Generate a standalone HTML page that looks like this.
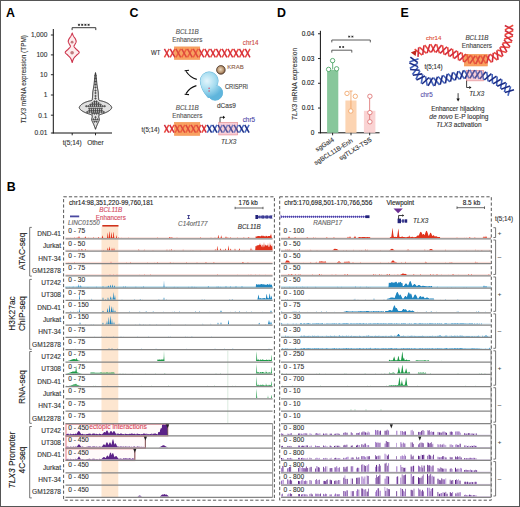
<!DOCTYPE html>
<html><head><meta charset="utf-8"><style>
html,body{margin:0;padding:0;background:#fff;overflow:hidden;width:520px;height:507px;}
svg{display:block;}
text{font-family:"Liberation Sans", sans-serif;}
</style></head><body>
<svg width="520" height="507" viewBox="0 0 520 507">
<rect x="0" y="0" width="520" height="507" fill="#fff"/>
<rect x="0.50" y="0.50" width="519.00" height="506.00" fill="none" stroke="#555" stroke-width="1" />
<text x="6.00" y="16.90" font-size="12.4" text-anchor="start" fill="#000" style="font-weight:bold;" >A</text>
<text x="129.60" y="16.90" font-size="12.4" text-anchor="start" fill="#000" style="font-weight:bold;" >C</text>
<text x="277.00" y="16.90" font-size="12.4" text-anchor="start" fill="#000" style="font-weight:bold;" >D</text>
<text x="400.60" y="16.90" font-size="12.4" text-anchor="start" fill="#000" style="font-weight:bold;" >E</text>
<text x="6.80" y="190.80" font-size="12.4" text-anchor="start" fill="#000" style="font-weight:bold;" >B</text>
<line x1="53.30" y1="29.00" x2="53.30" y2="133.40" stroke="#111" stroke-width="1" />
<line x1="52.80" y1="133.00" x2="112.00" y2="133.00" stroke="#111" stroke-width="1" />
<line x1="50.90" y1="35.00" x2="53.30" y2="35.00" stroke="#111" stroke-width="0.9" />
<text x="47.40" y="37.30" font-size="6.6" text-anchor="end" fill="#333" stroke="#333" stroke-width="0.12" style="" >1,000</text>
<line x1="50.90" y1="54.90" x2="53.30" y2="54.90" stroke="#111" stroke-width="0.9" />
<text x="47.40" y="57.20" font-size="6.6" text-anchor="end" fill="#333" stroke="#333" stroke-width="0.12" style="" >100</text>
<line x1="50.90" y1="74.70" x2="53.30" y2="74.70" stroke="#111" stroke-width="0.9" />
<text x="47.40" y="77.00" font-size="6.6" text-anchor="end" fill="#333" stroke="#333" stroke-width="0.12" style="" >10</text>
<line x1="50.90" y1="95.00" x2="53.30" y2="95.00" stroke="#111" stroke-width="0.9" />
<text x="47.40" y="97.30" font-size="6.6" text-anchor="end" fill="#333" stroke="#333" stroke-width="0.12" style="" >1</text>
<line x1="50.90" y1="115.20" x2="53.30" y2="115.20" stroke="#111" stroke-width="0.9" />
<text x="47.40" y="117.50" font-size="6.6" text-anchor="end" fill="#333" stroke="#333" stroke-width="0.12" style="" >0.1</text>
<line x1="50.90" y1="133.00" x2="53.30" y2="133.00" stroke="#111" stroke-width="0.9" />
<text x="47.40" y="135.30" font-size="6.6" text-anchor="end" fill="#333" stroke="#333" stroke-width="0.12" style="" >0.01</text>
<line x1="72.20" y1="133.00" x2="72.20" y2="135.30" stroke="#111" stroke-width="0.9" />
<line x1="95.50" y1="133.00" x2="95.50" y2="135.30" stroke="#111" stroke-width="0.9" />
<text x="72.20" y="145.40" font-size="6.6" text-anchor="middle" fill="#333" stroke="#333" stroke-width="0.12" style="" >t(5;14)</text>
<text x="95.40" y="145.40" font-size="6.6" text-anchor="middle" fill="#333" stroke="#333" stroke-width="0.12" style="" >Other</text>
<text x="0" y="0" font-size="6.45" text-anchor="middle" fill="#333" stroke="#333" stroke-width="0.12" transform="translate(25.9,79.2) rotate(-90)"><tspan style="font-style:italic">TLX3</tspan> mRNA expression (TPM)</text>
<path d="M72.1,30.1 V27.7 H95.8 V30.1" fill="none" stroke="#222" stroke-width="0.9"/>
<path d="M77.90,24.80 H80.10 M78.40,23.80 L79.60,25.80 M79.60,23.80 L78.40,25.80" stroke="#222" stroke-width="0.75"/>
<path d="M81.10,24.80 H83.30 M81.60,23.80 L82.80,25.80 M82.80,23.80 L81.60,25.80" stroke="#222" stroke-width="0.75"/>
<path d="M84.30,24.80 H86.50 M84.80,23.80 L86.00,25.80 M86.00,23.80 L84.80,25.80" stroke="#222" stroke-width="0.75"/>
<path d="M87.50,24.80 H89.70 M88.00,23.80 L89.20,25.80 M89.20,23.80 L88.00,25.80" stroke="#222" stroke-width="0.75"/>
<polygon points="72.20,32.90 72.16,33.02 72.10,33.18 72.04,33.37 71.96,33.57 71.88,33.80 71.79,34.03 71.70,34.27 71.60,34.50 71.50,34.73 71.39,34.96 71.28,35.20 71.16,35.44 71.04,35.70 70.90,35.96 70.76,36.22 70.60,36.50 70.42,36.79 70.22,37.09 70.01,37.40 69.78,37.72 69.56,38.04 69.35,38.36 69.16,38.68 69.00,39.00 68.85,39.31 68.71,39.62 68.58,39.94 68.46,40.25 68.36,40.56 68.29,40.88 68.25,41.19 68.25,41.50 68.30,41.81 68.39,42.13 68.51,42.44 68.66,42.76 68.83,43.07 69.00,43.38 69.16,43.69 69.30,44.00 69.45,44.30 69.63,44.60 69.83,44.90 70.01,45.19 70.18,45.49 70.30,45.79 70.36,46.09 70.35,46.40 70.26,46.71 70.10,47.02 69.89,47.33 69.64,47.64 69.35,47.96 69.04,48.30 68.72,48.64 68.40,49.00 68.03,49.38 67.57,49.79 67.06,50.21 66.56,50.64 66.08,51.08 65.68,51.50 65.39,51.91 65.25,52.30 65.28,52.67 65.45,53.02 65.73,53.37 66.08,53.70 66.47,54.03 66.88,54.35 67.27,54.68 67.60,55.00 67.91,55.33 68.22,55.65 68.55,55.97 68.87,56.29 69.19,56.61 69.48,56.91 69.76,57.21 70.00,57.50 70.21,57.77 70.39,58.01 70.55,58.24 70.69,58.47 70.82,58.70 70.94,58.94 71.07,59.21 71.20,59.50 71.34,59.85 71.49,60.25 71.63,60.68 71.78,61.12 71.91,61.55 72.03,61.94 72.12,62.26 72.20,62.50 72.20,62.50 72.28,62.26 72.38,61.94 72.49,61.55 72.62,61.12 72.77,60.68 72.91,60.25 73.06,59.85 73.20,59.50 73.33,59.21 73.46,58.94 73.58,58.70 73.71,58.47 73.85,58.24 74.01,58.01 74.19,57.77 74.40,57.50 74.64,57.21 74.92,56.91 75.21,56.61 75.53,56.29 75.85,55.97 76.18,55.65 76.49,55.33 76.80,55.00 77.13,54.68 77.52,54.35 77.93,54.03 78.32,53.70 78.67,53.37 78.95,53.02 79.12,52.67 79.15,52.30 79.01,51.91 78.72,51.50 78.32,51.08 77.84,50.64 77.34,50.21 76.83,49.79 76.37,49.38 76.00,49.00 75.68,48.64 75.36,48.30 75.05,47.96 74.76,47.64 74.51,47.33 74.30,47.02 74.14,46.71 74.05,46.40 74.04,46.09 74.10,45.79 74.22,45.49 74.39,45.19 74.57,44.90 74.77,44.60 74.95,44.30 75.10,44.00 75.24,43.69 75.40,43.38 75.57,43.07 75.74,42.76 75.89,42.44 76.01,42.13 76.10,41.81 76.15,41.50 76.15,41.19 76.11,40.88 76.04,40.56 75.94,40.25 75.82,39.94 75.69,39.62 75.55,39.31 75.40,39.00 75.24,38.68 75.05,38.36 74.84,38.04 74.62,37.72 74.39,37.40 74.18,37.09 73.98,36.79 73.80,36.50 73.64,36.22 73.50,35.96 73.36,35.70 73.24,35.44 73.12,35.20 73.01,34.96 72.90,34.73 72.80,34.50 72.70,34.27 72.61,34.03 72.52,33.80 72.44,33.57 72.36,33.37 72.30,33.18 72.24,33.02 72.20,32.90" fill="#fdeced" stroke="#cc3049" stroke-width="1.1" stroke-linejoin="round"/>
<circle cx="72.1" cy="42.2" r="1.4" fill="#c27a7e"/>
<circle cx="72.1" cy="52.7" r="1.8" fill="#c27a7e"/>
<polygon points="95.50,72.60 95.45,72.86 95.39,73.20 95.31,73.60 95.22,74.05 95.14,74.53 95.05,75.03 94.97,75.52 94.90,76.00 94.84,76.47 94.79,76.96 94.74,77.46 94.69,77.96 94.64,78.47 94.60,78.99 94.55,79.50 94.50,80.00 94.45,80.50 94.40,81.00 94.36,81.50 94.31,82.00 94.26,82.50 94.21,83.00 94.16,83.50 94.10,84.00 94.04,84.50 93.97,85.00 93.89,85.50 93.82,86.00 93.74,86.50 93.66,87.00 93.58,87.50 93.50,88.00 93.41,88.50 93.32,89.00 93.22,89.50 93.12,90.00 93.03,90.50 92.94,91.00 92.86,91.50 92.80,92.00 92.75,92.51 92.72,93.02 92.69,93.54 92.67,94.06 92.66,94.57 92.65,95.07 92.63,95.55 92.60,96.00 92.57,96.43 92.53,96.86 92.50,97.27 92.46,97.67 92.42,98.04 92.38,98.39 92.34,98.71 92.30,99.00 92.28,99.25 92.28,99.45 92.29,99.63 92.29,99.78 92.27,99.92 92.21,100.04 92.09,100.17 91.90,100.30 91.62,100.43 91.25,100.55 90.83,100.66 90.36,100.77 89.88,100.87 89.39,100.98 88.93,101.09 88.50,101.20 88.10,101.32 87.71,101.44 87.33,101.55 86.95,101.68 86.58,101.80 86.21,101.93 85.85,102.06 85.50,102.20 85.15,102.35 84.81,102.50 84.47,102.66 84.14,102.82 83.81,102.98 83.50,103.15 83.19,103.33 82.90,103.50 82.62,103.68 82.34,103.86 82.07,104.05 81.81,104.24 81.57,104.43 81.33,104.62 81.11,104.81 80.90,105.00 80.71,105.19 80.53,105.38 80.36,105.58 80.20,105.77 80.06,105.97 79.92,106.15 79.81,106.33 79.70,106.50 79.60,106.65 79.52,106.80 79.45,106.93 79.39,107.06 79.34,107.18 79.31,107.31 79.30,107.45 79.30,107.60 79.32,107.76 79.36,107.93 79.41,108.10 79.47,108.27 79.56,108.45 79.66,108.64 79.77,108.82 79.90,109.00 80.05,109.18 80.21,109.37 80.39,109.56 80.58,109.74 80.79,109.93 81.01,110.12 81.25,110.31 81.50,110.50 81.77,110.69 82.05,110.88 82.35,111.07 82.66,111.26 82.99,111.45 83.32,111.64 83.66,111.82 84.00,112.00 84.35,112.17 84.71,112.35 85.09,112.52 85.47,112.68 85.85,112.84 86.24,113.00 86.62,113.15 87.00,113.30 87.38,113.44 87.78,113.57 88.17,113.70 88.57,113.83 88.96,113.95 89.33,114.06 89.68,114.18 90.00,114.30 90.30,114.41 90.59,114.51 90.86,114.61 91.12,114.70 91.35,114.80 91.56,114.91 91.75,115.05 91.90,115.20 92.02,115.38 92.11,115.57 92.17,115.78 92.21,116.00 92.22,116.23 92.23,116.48 92.22,116.74 92.20,117.00 92.16,117.28 92.08,117.59 91.98,117.91 91.88,118.24 91.77,118.57 91.68,118.89 91.62,119.21 91.60,119.50 91.62,119.77 91.67,120.02 91.75,120.26 91.84,120.50 91.94,120.74 92.06,120.98 92.18,121.23 92.30,121.50 92.43,121.79 92.56,122.08 92.71,122.38 92.87,122.69 93.03,123.00 93.19,123.33 93.35,123.66 93.50,124.00 93.65,124.36 93.81,124.73 93.97,125.12 94.12,125.51 94.28,125.90 94.43,126.29 94.57,126.66 94.70,127.00 94.82,127.34 94.95,127.68 95.06,128.01 95.17,128.34 95.28,128.64 95.37,128.90 95.44,129.13 95.50,129.30 95.50,129.30 95.56,129.13 95.63,128.90 95.72,128.64 95.83,128.34 95.94,128.01 96.05,127.68 96.18,127.34 96.30,127.00 96.43,126.66 96.57,126.29 96.72,125.90 96.88,125.51 97.03,125.12 97.19,124.73 97.35,124.36 97.50,124.00 97.65,123.66 97.81,123.33 97.97,123.00 98.13,122.69 98.29,122.38 98.44,122.08 98.57,121.79 98.70,121.50 98.82,121.23 98.94,120.98 99.06,120.74 99.16,120.50 99.25,120.26 99.33,120.02 99.38,119.77 99.40,119.50 99.38,119.21 99.32,118.89 99.23,118.57 99.12,118.24 99.02,117.91 98.92,117.59 98.84,117.28 98.80,117.00 98.78,116.74 98.77,116.48 98.78,116.23 98.79,116.00 98.83,115.78 98.89,115.57 98.98,115.38 99.10,115.20 99.25,115.05 99.44,114.91 99.65,114.80 99.88,114.70 100.14,114.61 100.41,114.51 100.70,114.41 101.00,114.30 101.32,114.18 101.67,114.06 102.04,113.95 102.43,113.83 102.83,113.70 103.22,113.57 103.62,113.44 104.00,113.30 104.38,113.15 104.76,113.00 105.15,112.84 105.53,112.68 105.91,112.52 106.29,112.35 106.65,112.17 107.00,112.00 107.34,111.82 107.68,111.64 108.01,111.45 108.34,111.26 108.65,111.07 108.95,110.88 109.23,110.69 109.50,110.50 109.75,110.31 109.99,110.12 110.21,109.93 110.42,109.74 110.61,109.56 110.79,109.37 110.95,109.18 111.10,109.00 111.23,108.82 111.34,108.64 111.44,108.45 111.53,108.27 111.59,108.10 111.64,107.93 111.68,107.76 111.70,107.60 111.70,107.45 111.69,107.31 111.66,107.18 111.61,107.06 111.55,106.93 111.48,106.80 111.40,106.65 111.30,106.50 111.19,106.33 111.08,106.15 110.94,105.97 110.80,105.77 110.64,105.58 110.47,105.38 110.29,105.19 110.10,105.00 109.89,104.81 109.67,104.62 109.43,104.43 109.19,104.24 108.93,104.05 108.66,103.86 108.38,103.68 108.10,103.50 107.81,103.33 107.50,103.15 107.19,102.98 106.86,102.82 106.53,102.66 106.19,102.50 105.85,102.35 105.50,102.20 105.15,102.06 104.79,101.93 104.42,101.80 104.05,101.68 103.67,101.55 103.29,101.44 102.90,101.32 102.50,101.20 102.07,101.09 101.61,100.98 101.12,100.87 100.64,100.77 100.17,100.66 99.75,100.55 99.38,100.43 99.10,100.30 98.91,100.17 98.79,100.04 98.73,99.92 98.71,99.78 98.71,99.63 98.72,99.45 98.72,99.25 98.70,99.00 98.66,98.71 98.62,98.39 98.58,98.04 98.54,97.67 98.50,97.27 98.47,96.86 98.43,96.43 98.40,96.00 98.37,95.55 98.35,95.07 98.34,94.57 98.33,94.06 98.31,93.54 98.28,93.02 98.25,92.51 98.20,92.00 98.14,91.50 98.06,91.00 97.97,90.50 97.88,90.00 97.78,89.50 97.68,89.00 97.59,88.50 97.50,88.00 97.42,87.50 97.34,87.00 97.26,86.50 97.18,86.00 97.11,85.50 97.03,85.00 96.96,84.50 96.90,84.00 96.84,83.50 96.79,83.00 96.74,82.50 96.69,82.00 96.64,81.50 96.60,81.00 96.55,80.50 96.50,80.00 96.45,79.50 96.40,78.99 96.36,78.47 96.31,77.96 96.26,77.46 96.21,76.96 96.16,76.47 96.10,76.00 96.03,75.52 95.95,75.03 95.86,74.53 95.78,74.05 95.69,73.60 95.61,73.20 95.55,72.86 95.50,72.60" fill="#e0e0e0" stroke="#1a1a1a" stroke-width="0.95" stroke-linejoin="round"/>
<circle cx="95.50" cy="75.50" r="0.72" fill="#777" stroke="#111" stroke-width="0.45"/>
<circle cx="95.50" cy="78.50" r="0.72" fill="#777" stroke="#111" stroke-width="0.45"/>
<circle cx="95.50" cy="81.50" r="0.72" fill="#777" stroke="#111" stroke-width="0.45"/>
<circle cx="95.50" cy="84.50" r="0.72" fill="#777" stroke="#111" stroke-width="0.45"/>
<circle cx="95.50" cy="87.50" r="0.72" fill="#777" stroke="#111" stroke-width="0.45"/>
<circle cx="95.50" cy="90.50" r="0.72" fill="#777" stroke="#111" stroke-width="0.45"/>
<circle cx="95.50" cy="93.00" r="0.72" fill="#777" stroke="#111" stroke-width="0.45"/>
<circle cx="95.50" cy="96.00" r="0.72" fill="#777" stroke="#111" stroke-width="0.45"/>
<circle cx="95.50" cy="98.50" r="0.72" fill="#777" stroke="#111" stroke-width="0.45"/>
<circle cx="94.47" cy="101.50" r="0.72" fill="#777" stroke="#111" stroke-width="0.45"/>
<circle cx="96.53" cy="101.50" r="0.72" fill="#777" stroke="#111" stroke-width="0.45"/>
<circle cx="92.42" cy="103.10" r="0.72" fill="#777" stroke="#111" stroke-width="0.45"/>
<circle cx="94.47" cy="103.10" r="0.72" fill="#777" stroke="#111" stroke-width="0.45"/>
<circle cx="96.53" cy="103.10" r="0.72" fill="#777" stroke="#111" stroke-width="0.45"/>
<circle cx="98.58" cy="103.10" r="0.72" fill="#777" stroke="#111" stroke-width="0.45"/>
<circle cx="90.38" cy="104.60" r="0.72" fill="#777" stroke="#111" stroke-width="0.45"/>
<circle cx="92.42" cy="104.60" r="0.72" fill="#777" stroke="#111" stroke-width="0.45"/>
<circle cx="94.47" cy="104.60" r="0.72" fill="#777" stroke="#111" stroke-width="0.45"/>
<circle cx="96.53" cy="104.60" r="0.72" fill="#777" stroke="#111" stroke-width="0.45"/>
<circle cx="98.58" cy="104.60" r="0.72" fill="#777" stroke="#111" stroke-width="0.45"/>
<circle cx="100.62" cy="104.60" r="0.72" fill="#777" stroke="#111" stroke-width="0.45"/>
<circle cx="86.28" cy="106.20" r="0.72" fill="#777" stroke="#111" stroke-width="0.45"/>
<circle cx="88.33" cy="106.20" r="0.72" fill="#777" stroke="#111" stroke-width="0.45"/>
<circle cx="90.38" cy="106.20" r="0.72" fill="#777" stroke="#111" stroke-width="0.45"/>
<circle cx="92.42" cy="106.20" r="0.72" fill="#777" stroke="#111" stroke-width="0.45"/>
<circle cx="94.47" cy="106.20" r="0.72" fill="#777" stroke="#111" stroke-width="0.45"/>
<circle cx="96.53" cy="106.20" r="0.72" fill="#777" stroke="#111" stroke-width="0.45"/>
<circle cx="98.58" cy="106.20" r="0.72" fill="#777" stroke="#111" stroke-width="0.45"/>
<circle cx="100.62" cy="106.20" r="0.72" fill="#777" stroke="#111" stroke-width="0.45"/>
<circle cx="102.67" cy="106.20" r="0.72" fill="#777" stroke="#111" stroke-width="0.45"/>
<circle cx="104.72" cy="106.20" r="0.72" fill="#777" stroke="#111" stroke-width="0.45"/>
<circle cx="89.35" cy="108.60" r="0.72" fill="#777" stroke="#111" stroke-width="0.45"/>
<circle cx="91.40" cy="108.60" r="0.72" fill="#777" stroke="#111" stroke-width="0.45"/>
<circle cx="93.45" cy="108.60" r="0.72" fill="#777" stroke="#111" stroke-width="0.45"/>
<circle cx="95.50" cy="108.60" r="0.72" fill="#777" stroke="#111" stroke-width="0.45"/>
<circle cx="97.55" cy="108.60" r="0.72" fill="#777" stroke="#111" stroke-width="0.45"/>
<circle cx="99.60" cy="108.60" r="0.72" fill="#777" stroke="#111" stroke-width="0.45"/>
<circle cx="101.65" cy="108.60" r="0.72" fill="#777" stroke="#111" stroke-width="0.45"/>
<circle cx="89.35" cy="110.40" r="0.72" fill="#777" stroke="#111" stroke-width="0.45"/>
<circle cx="91.40" cy="110.40" r="0.72" fill="#777" stroke="#111" stroke-width="0.45"/>
<circle cx="93.45" cy="110.40" r="0.72" fill="#777" stroke="#111" stroke-width="0.45"/>
<circle cx="95.50" cy="110.40" r="0.72" fill="#777" stroke="#111" stroke-width="0.45"/>
<circle cx="97.55" cy="110.40" r="0.72" fill="#777" stroke="#111" stroke-width="0.45"/>
<circle cx="99.60" cy="110.40" r="0.72" fill="#777" stroke="#111" stroke-width="0.45"/>
<circle cx="101.65" cy="110.40" r="0.72" fill="#777" stroke="#111" stroke-width="0.45"/>
<circle cx="87.30" cy="112.00" r="0.72" fill="#777" stroke="#111" stroke-width="0.45"/>
<circle cx="89.35" cy="112.00" r="0.72" fill="#777" stroke="#111" stroke-width="0.45"/>
<circle cx="91.40" cy="112.00" r="0.72" fill="#777" stroke="#111" stroke-width="0.45"/>
<circle cx="93.45" cy="112.00" r="0.72" fill="#777" stroke="#111" stroke-width="0.45"/>
<circle cx="95.50" cy="112.00" r="0.72" fill="#777" stroke="#111" stroke-width="0.45"/>
<circle cx="97.55" cy="112.00" r="0.72" fill="#777" stroke="#111" stroke-width="0.45"/>
<circle cx="99.60" cy="112.00" r="0.72" fill="#777" stroke="#111" stroke-width="0.45"/>
<circle cx="101.65" cy="112.00" r="0.72" fill="#777" stroke="#111" stroke-width="0.45"/>
<circle cx="103.70" cy="112.00" r="0.72" fill="#777" stroke="#111" stroke-width="0.45"/>
<circle cx="92.42" cy="113.60" r="0.72" fill="#777" stroke="#111" stroke-width="0.45"/>
<circle cx="94.47" cy="113.60" r="0.72" fill="#777" stroke="#111" stroke-width="0.45"/>
<circle cx="96.53" cy="113.60" r="0.72" fill="#777" stroke="#111" stroke-width="0.45"/>
<circle cx="98.58" cy="113.60" r="0.72" fill="#777" stroke="#111" stroke-width="0.45"/>
<circle cx="95.50" cy="117.20" r="0.72" fill="#777" stroke="#111" stroke-width="0.45"/>
<circle cx="93.45" cy="119.40" r="0.72" fill="#777" stroke="#111" stroke-width="0.45"/>
<circle cx="95.50" cy="119.40" r="0.72" fill="#777" stroke="#111" stroke-width="0.45"/>
<circle cx="97.55" cy="119.40" r="0.72" fill="#777" stroke="#111" stroke-width="0.45"/>
<circle cx="94.47" cy="121.60" r="0.72" fill="#777" stroke="#111" stroke-width="0.45"/>
<circle cx="96.53" cy="121.60" r="0.72" fill="#777" stroke="#111" stroke-width="0.45"/>
<text x="187.30" y="34.40" font-size="6.3" text-anchor="middle" fill="#555" stroke="#555" stroke-width="0.12" style="font-style:italic;" >BCL11B</text>
<text x="187.30" y="42.40" font-size="6.3" text-anchor="middle" fill="#555" stroke="#555" stroke-width="0.12" style="" >Enhancers</text>
<text x="151.00" y="55.00" font-size="6.6" text-anchor="start" fill="#333" stroke="#333" stroke-width="0.12" style=""  textLength="9.4" lengthAdjust="spacingAndGlyphs">WT</text>
<rect x="174.40" y="46.90" width="25.40" height="12.50" fill="#f9ab72" stroke="#f39a5a" stroke-width="0.6" />
<path d="M164.40,57.30 L169.17,48.90" stroke="#ee4a3c" stroke-width="1.5" fill="none"/>
<path d="M164.40,48.90 L169.17,57.30" stroke="#d02c3e" stroke-width="1.5" fill="none"/>
<path d="M170.17,57.30 L174.95,48.90" stroke="#ee4a3c" stroke-width="1.5" fill="none"/>
<path d="M170.17,48.90 L174.95,57.30" stroke="#d02c3e" stroke-width="1.5" fill="none"/>
<path d="M175.95,57.30 L180.72,48.90" stroke="#ee4a3c" stroke-width="1.5" fill="none"/>
<path d="M175.95,48.90 L180.72,57.30" stroke="#d02c3e" stroke-width="1.5" fill="none"/>
<path d="M181.72,57.30 L186.49,48.90" stroke="#ee4a3c" stroke-width="1.5" fill="none"/>
<path d="M181.72,48.90 L186.49,57.30" stroke="#d02c3e" stroke-width="1.5" fill="none"/>
<path d="M187.49,57.30 L192.27,48.90" stroke="#ee4a3c" stroke-width="1.5" fill="none"/>
<path d="M187.49,48.90 L192.27,57.30" stroke="#d02c3e" stroke-width="1.5" fill="none"/>
<path d="M193.27,57.30 L198.04,48.90" stroke="#ee4a3c" stroke-width="1.5" fill="none"/>
<path d="M193.27,48.90 L198.04,57.30" stroke="#d02c3e" stroke-width="1.5" fill="none"/>
<path d="M199.04,57.30 L203.81,48.90" stroke="#ee4a3c" stroke-width="1.5" fill="none"/>
<path d="M199.04,48.90 L203.81,57.30" stroke="#d02c3e" stroke-width="1.5" fill="none"/>
<path d="M204.81,57.30 L209.59,48.90" stroke="#ee4a3c" stroke-width="1.5" fill="none"/>
<path d="M204.81,48.90 L209.59,57.30" stroke="#d02c3e" stroke-width="1.5" fill="none"/>
<path d="M210.59,57.30 L215.36,48.90" stroke="#ee4a3c" stroke-width="1.5" fill="none"/>
<path d="M210.59,48.90 L215.36,57.30" stroke="#d02c3e" stroke-width="1.5" fill="none"/>
<path d="M216.36,57.30 L221.13,48.90" stroke="#ee4a3c" stroke-width="1.5" fill="none"/>
<path d="M216.36,48.90 L221.13,57.30" stroke="#d02c3e" stroke-width="1.5" fill="none"/>
<path d="M222.13,57.30 L226.91,48.90" stroke="#ee4a3c" stroke-width="1.5" fill="none"/>
<path d="M222.13,48.90 L226.91,57.30" stroke="#d02c3e" stroke-width="1.5" fill="none"/>
<path d="M227.91,57.30 L232.68,48.90" stroke="#ee4a3c" stroke-width="1.5" fill="none"/>
<path d="M227.91,48.90 L232.68,57.30" stroke="#d02c3e" stroke-width="1.5" fill="none"/>
<path d="M233.68,57.30 L238.45,48.90" stroke="#ee4a3c" stroke-width="1.5" fill="none"/>
<path d="M233.68,48.90 L238.45,57.30" stroke="#d02c3e" stroke-width="1.5" fill="none"/>
<path d="M239.45,57.30 L244.23,48.90" stroke="#ee4a3c" stroke-width="1.5" fill="none"/>
<path d="M239.45,48.90 L244.23,57.30" stroke="#d02c3e" stroke-width="1.5" fill="none"/>
<path d="M245.23,57.30 L250.00,48.90" stroke="#ee4a3c" stroke-width="1.5" fill="none"/>
<path d="M245.23,48.90 L250.00,57.30" stroke="#d02c3e" stroke-width="1.5" fill="none"/>
<rect x="174.40" y="46.90" width="25.40" height="12.50" fill="#f68c3c" stroke="none" stroke-width="1" fill-opacity="0.3"/>
<text x="242.80" y="44.80" font-size="6.6" text-anchor="start" fill="#cc4a44" stroke="#cc4a44" stroke-width="0.12" style=""  textLength="15.6" lengthAdjust="spacingAndGlyphs">chr14</text>
<defs><radialGradient id="krab" cx="0.45" cy="0.45" r="0.6"><stop offset="0" stop-color="#eedcc2"/><stop offset="0.6" stop-color="#b89470"/><stop offset="1" stop-color="#6e4e36"/></radialGradient><radialGradient id="cas" cx="0.5" cy="0.45" r="0.6"><stop offset="0" stop-color="#e6f6fc"/><stop offset="0.55" stop-color="#a6dcef"/><stop offset="1" stop-color="#5fb6dc"/></radialGradient></defs>
<circle cx="220.9" cy="69.9" r="4.3" fill="url(#krab)" stroke="#4a3426" stroke-width="0.8"/>
<text x="227.30" y="68.50" font-size="6.1" text-anchor="start" fill="#8e6048" stroke="#8e6048" stroke-width="0.12" style=""  textLength="16.4" lengthAdjust="spacingAndGlyphs">KRAB</text>
<defs><radialGradient id="cas2" gradientUnits="userSpaceOnUse" cx="207" cy="81" r="17"><stop offset="0" stop-color="#e4f5fc"/><stop offset="0.5" stop-color="#a8ddf0"/><stop offset="1" stop-color="#5fb5dc"/></radialGradient></defs>
<g fill="#6ab9dd" stroke="#6ab9dd" stroke-width="1.0"><circle cx="209.2" cy="80.8" r="8.9"/><circle cx="215.2" cy="92.8" r="7.4"/><path d="M200.6,83 C201.5,89 204.5,93.5 208.3,97.8 L214,92 L214,80 Z"/></g>
<g fill="url(#cas2)"><circle cx="209.2" cy="80.8" r="8.9"/><circle cx="215.2" cy="92.8" r="7.4"/><path d="M200.6,83 C201.5,89 204.5,93.5 208.3,97.8 L214,92 L214,80 Z"/></g>
<circle cx="209.1" cy="88.2" r="0.7" fill="#d94060"/><circle cx="209.1" cy="91.0" r="0.7" fill="#d94060"/>
<text x="224.90" y="89.30" font-size="6.9" text-anchor="start" fill="#444" stroke="#444" stroke-width="0.12" style=""  textLength="23.0" lengthAdjust="spacingAndGlyphs">CRISPRi</text>
<text x="217.00" y="107.80" font-size="6.5" text-anchor="start" fill="#444" stroke="#444" stroke-width="0.12" style="" >dCas9</text>
<path d="M196.8,79.4 C192.5,78.2 188.5,75 186.0,71.2" fill="none" stroke="#111" stroke-width="1.15"/>
<path d="M184.6,70.8 L189.0,70.3" fill="none" stroke="#111" stroke-width="1.15"/><path d="M185.6,70.6 L185.4,73.5" fill="none" stroke="#111" stroke-width="0.0"/>
<path d="M196.4,85.6 C192.0,86.8 188.2,90 186.0,93.6" fill="none" stroke="#111" stroke-width="1.15"/>
<path d="M184.6,94.3 L189.0,94.6" fill="none" stroke="#111" stroke-width="1.15"/>
<text x="187.30" y="110.20" font-size="6.3" text-anchor="middle" fill="#555" stroke="#555" stroke-width="0.12" style="font-style:italic;" >BCL11B</text>
<text x="187.30" y="118.10" font-size="6.3" text-anchor="middle" fill="#555" stroke="#555" stroke-width="0.12" style="" >Enhancers</text>
<text x="141.60" y="132.40" font-size="6.5" text-anchor="start" fill="#333" stroke="#333" stroke-width="0.12" style=""  textLength="18.0" lengthAdjust="spacingAndGlyphs">t(5;14)</text>
<rect x="174.40" y="122.40" width="25.40" height="13.00" fill="#f9ab72" stroke="#f39a5a" stroke-width="0.6" />
<rect x="218.80" y="122.50" width="18.80" height="12.40" fill="#f8d4dc" stroke="#e68a8a" stroke-width="0.7" />
<path d="M164.40,132.70 L168.76,124.90" stroke="#ee4a3c" stroke-width="1.5" fill="none"/>
<path d="M164.40,124.90 L168.76,132.70" stroke="#d02c3e" stroke-width="1.5" fill="none"/>
<path d="M169.76,132.70 L174.11,124.90" stroke="#ee4a3c" stroke-width="1.5" fill="none"/>
<path d="M169.76,124.90 L174.11,132.70" stroke="#d02c3e" stroke-width="1.5" fill="none"/>
<path d="M175.11,132.70 L179.47,124.90" stroke="#ee4a3c" stroke-width="1.5" fill="none"/>
<path d="M175.11,124.90 L179.47,132.70" stroke="#d02c3e" stroke-width="1.5" fill="none"/>
<path d="M180.47,132.70 L184.82,124.90" stroke="#ee4a3c" stroke-width="1.5" fill="none"/>
<path d="M180.47,124.90 L184.82,132.70" stroke="#d02c3e" stroke-width="1.5" fill="none"/>
<path d="M185.82,132.70 L190.18,124.90" stroke="#ee4a3c" stroke-width="1.5" fill="none"/>
<path d="M185.82,124.90 L190.18,132.70" stroke="#d02c3e" stroke-width="1.5" fill="none"/>
<path d="M191.18,132.70 L195.54,124.90" stroke="#ee4a3c" stroke-width="1.5" fill="none"/>
<path d="M191.18,124.90 L195.54,132.70" stroke="#d02c3e" stroke-width="1.5" fill="none"/>
<path d="M196.54,132.70 L200.89,124.90" stroke="#ee4a3c" stroke-width="1.5" fill="none"/>
<path d="M196.54,124.90 L200.89,132.70" stroke="#d02c3e" stroke-width="1.5" fill="none"/>
<path d="M201.89,132.70 L206.25,124.90" stroke="#ee4a3c" stroke-width="1.5" fill="none"/>
<path d="M201.89,124.90 L206.25,132.70" stroke="#d02c3e" stroke-width="1.5" fill="none"/>
<path d="M207.25,132.70 L211.61,124.90" stroke="#4a6cc2" stroke-width="1.5" fill="none"/>
<path d="M207.25,124.90 L211.61,132.70" stroke="#1f2f86" stroke-width="1.5" fill="none"/>
<path d="M212.61,132.70 L216.96,124.90" stroke="#4a6cc2" stroke-width="1.5" fill="none"/>
<path d="M212.61,124.90 L216.96,132.70" stroke="#1f2f86" stroke-width="1.5" fill="none"/>
<path d="M217.96,132.70 L222.32,124.90" stroke="#4a6cc2" stroke-width="1.5" fill="none"/>
<path d="M217.96,124.90 L222.32,132.70" stroke="#1f2f86" stroke-width="1.5" fill="none"/>
<path d="M223.32,132.70 L227.67,124.90" stroke="#4a6cc2" stroke-width="1.5" fill="none"/>
<path d="M223.32,124.90 L227.67,132.70" stroke="#1f2f86" stroke-width="1.5" fill="none"/>
<path d="M228.68,132.70 L233.03,124.90" stroke="#4a6cc2" stroke-width="1.5" fill="none"/>
<path d="M228.68,124.90 L233.03,132.70" stroke="#1f2f86" stroke-width="1.5" fill="none"/>
<path d="M234.03,132.70 L238.39,124.90" stroke="#4a6cc2" stroke-width="1.5" fill="none"/>
<path d="M234.03,124.90 L238.39,132.70" stroke="#1f2f86" stroke-width="1.5" fill="none"/>
<path d="M239.39,132.70 L243.74,124.90" stroke="#4a6cc2" stroke-width="1.5" fill="none"/>
<path d="M239.39,124.90 L243.74,132.70" stroke="#1f2f86" stroke-width="1.5" fill="none"/>
<path d="M244.74,132.70 L249.10,124.90" stroke="#4a6cc2" stroke-width="1.5" fill="none"/>
<path d="M244.74,124.90 L249.10,132.70" stroke="#1f2f86" stroke-width="1.5" fill="none"/>
<rect x="174.40" y="122.40" width="25.40" height="13.00" fill="#f68c3c" stroke="none" stroke-width="1" fill-opacity="0.3"/>
<rect x="218.80" y="122.50" width="18.80" height="12.40" fill="#f4b8c4" stroke="none" stroke-width="1" fill-opacity="0.25"/>
<path d="M220,122.2 V117.3 H223.3" fill="none" stroke="#111" stroke-width="0.8"/><path d="M223,115.7 L225.2,117.3 L223,118.9 Z" fill="#111"/>
<text x="242.70" y="122.00" font-size="6.6" text-anchor="start" fill="#4a48a8" stroke="#4a48a8" stroke-width="0.12" style=""  textLength="12.4" lengthAdjust="spacingAndGlyphs">chr5</text>
<text x="228.70" y="144.30" font-size="6.5" text-anchor="middle" fill="#444" stroke="#444" stroke-width="0.12" style="font-style:italic;" >TLX3</text>
<line x1="320.40" y1="30.80" x2="320.40" y2="133.30" stroke="#111" stroke-width="1" />
<line x1="319.90" y1="132.80" x2="379.60" y2="132.80" stroke="#111" stroke-width="1" />
<line x1="318.00" y1="33.76" x2="320.40" y2="33.76" stroke="#111" stroke-width="0.9" />
<text x="314.30" y="35.86" font-size="6.5" text-anchor="end" fill="#222" stroke="#222" stroke-width="0.12" style="" >0.04</text>
<line x1="318.00" y1="58.52" x2="320.40" y2="58.52" stroke="#111" stroke-width="0.9" />
<text x="314.30" y="60.62" font-size="6.5" text-anchor="end" fill="#222" stroke="#222" stroke-width="0.12" style="" >0.03</text>
<line x1="318.00" y1="83.28" x2="320.40" y2="83.28" stroke="#111" stroke-width="0.9" />
<text x="314.30" y="85.38" font-size="6.5" text-anchor="end" fill="#222" stroke="#222" stroke-width="0.12" style="" >0.02</text>
<line x1="318.00" y1="108.04" x2="320.40" y2="108.04" stroke="#111" stroke-width="0.9" />
<text x="314.30" y="110.14" font-size="6.5" text-anchor="end" fill="#222" stroke="#222" stroke-width="0.12" style="" >0.01</text>
<line x1="318.00" y1="132.80" x2="320.40" y2="132.80" stroke="#111" stroke-width="0.9" />
<text x="314.30" y="134.90" font-size="6.5" text-anchor="end" fill="#222" stroke="#222" stroke-width="0.12" style="" >0</text>
<text x="0" y="0" font-size="6.8" text-anchor="middle" fill="#333" stroke="#333" stroke-width="0.12" textLength="72.5" lengthAdjust="spacingAndGlyphs" transform="translate(296.6,84.0) rotate(-90)"><tspan style="font-style:italic">TLX3</tspan> mRNA expression</text>
<rect x="327.10" y="70.00" width="11.20" height="62.80" fill="#88c79b" stroke="none" stroke-width="1" />
<rect x="345.40" y="100.50" width="11.10" height="32.30" fill="#fcd4b2" stroke="none" stroke-width="1" />
<rect x="363.90" y="110.80" width="11.50" height="22.00" fill="#fad3d3" stroke="none" stroke-width="1" />
<line x1="332.70" y1="60.60" x2="332.70" y2="69.40" stroke="#3a9a55" stroke-width="0.8" />
<line x1="331.10" y1="60.60" x2="334.30" y2="60.60" stroke="#3a9a55" stroke-width="0.8" />
<circle cx="332.60" cy="60.60" r="2.2" fill="#fff" stroke="#3a9a55" stroke-width="0.8"/>
<circle cx="328.60" cy="69.40" r="2.2" fill="#fff" stroke="#3a9a55" stroke-width="0.8"/>
<circle cx="336.60" cy="68.80" r="2.2" fill="#fff" stroke="#3a9a55" stroke-width="0.8"/>
<line x1="350.95" y1="91.00" x2="350.95" y2="111.00" stroke="#f0a060" stroke-width="0.8" />
<line x1="349.35" y1="91.00" x2="352.55" y2="91.00" stroke="#f0a060" stroke-width="0.8" />
<circle cx="347.00" cy="93.40" r="2.2" fill="#fff" stroke="#f0a060" stroke-width="0.8"/>
<circle cx="355.30" cy="96.30" r="2.2" fill="#fff" stroke="#f0a060" stroke-width="0.8"/>
<circle cx="350.80" cy="111.00" r="2.2" fill="#fff" stroke="#f0a060" stroke-width="0.8"/>
<line x1="369.65" y1="96.30" x2="369.65" y2="121.80" stroke="#db6a6a" stroke-width="0.8" />
<line x1="368.05" y1="96.30" x2="371.25" y2="96.30" stroke="#db6a6a" stroke-width="0.8" />
<circle cx="369.90" cy="96.30" r="2.2" fill="#fff" stroke="#db6a6a" stroke-width="0.8"/>
<circle cx="369.90" cy="112.60" r="2.2" fill="#fff" stroke="#db6a6a" stroke-width="0.8"/>
<circle cx="369.90" cy="121.80" r="2.2" fill="#fff" stroke="#db6a6a" stroke-width="0.8"/>
<line x1="332.60" y1="132.80" x2="332.60" y2="135.30" stroke="#111" stroke-width="0.9" />
<line x1="351.00" y1="132.80" x2="351.00" y2="135.30" stroke="#111" stroke-width="0.9" />
<line x1="369.70" y1="132.80" x2="369.70" y2="135.30" stroke="#111" stroke-width="0.9" />
<path d="M331.8,42.4 V40.0 H370.3 V42.4" fill="none" stroke="#333" stroke-width="0.8"/>
<path d="M331.8,52.6 V50.2 H351.8 V52.6" fill="none" stroke="#333" stroke-width="0.8"/>
<path d="M348.20,36.60 H350.20 M348.65,35.70 L349.75,37.50 M349.75,35.70 L348.65,37.50" stroke="#222" stroke-width="0.7"/>
<path d="M351.40,36.60 H353.40 M351.85,35.70 L352.95,37.50 M352.95,35.70 L351.85,37.50" stroke="#222" stroke-width="0.7"/>
<path d="M339.00,47.00 H341.00 M339.45,46.10 L340.55,47.90 M340.55,46.10 L339.45,47.90" stroke="#222" stroke-width="0.7"/>
<path d="M342.20,47.00 H344.20 M342.65,46.10 L343.75,47.90 M343.75,46.10 L342.65,47.90" stroke="#222" stroke-width="0.7"/>
<text x="0" y="0" font-size="6.5" text-anchor="end" fill="#333" stroke="#333" stroke-width="0.12" transform="translate(334.6,140.8) rotate(-32)">sgGal4</text>
<text x="0" y="0" font-size="6.5" text-anchor="end" fill="#333" stroke="#333" stroke-width="0.12" transform="translate(353.4,141.8) rotate(-32)">sgBCL11B-Enh</text>
<text x="0" y="0" font-size="6.5" text-anchor="end" fill="#333" stroke="#333" stroke-width="0.12" transform="translate(372.3,140.8) rotate(-32)">sgTLX3-TSS</text>
<rect x="464.30" y="54.30" width="23.00" height="11.70" fill="#f9ab72" stroke="#f39a5a" stroke-width="0.6" />
<rect x="466.50" y="70.40" width="17.00" height="10.40" fill="#f8d4dc" stroke="#e68a8a" stroke-width="0.7" />
<path d="M414.68,49.20 L422.12,55.05" stroke="#ee4a3c" stroke-width="1.6" fill="none"/>
<path d="M417.97,56.93 L418.69,47.38" stroke="#d02c3e" stroke-width="1.6" fill="none"/>
<path d="M419.37,47.08 L426.49,53.31" stroke="#ee4a3c" stroke-width="1.6" fill="none"/>
<path d="M422.72,54.78 L423.95,45.31" stroke="#d02c3e" stroke-width="1.6" fill="none"/>
<path d="M424.69,45.08 L430.68,52.51" stroke="#ee4a3c" stroke-width="1.6" fill="none"/>
<path d="M427.09,53.13 L429.91,44.15" stroke="#d02c3e" stroke-width="1.6" fill="none"/>
<path d="M430.71,44.08 L435.17,52.48" stroke="#ee4a3c" stroke-width="1.6" fill="none"/>
<path d="M431.28,52.46 L435.78,44.11" stroke="#d02c3e" stroke-width="1.6" fill="none"/>
<path d="M436.56,44.17 L439.53,53.16" stroke="#ee4a3c" stroke-width="1.6" fill="none"/>
<path d="M435.78,52.54 L441.64,45.03" stroke="#d02c3e" stroke-width="1.6" fill="none"/>
<path d="M442.42,45.24 L444.04,54.65" stroke="#ee4a3c" stroke-width="1.6" fill="none"/>
<path d="M440.10,53.32 L446.97,46.79" stroke="#d02c3e" stroke-width="1.6" fill="none"/>
<path d="M447.64,47.04 L448.85,56.45" stroke="#ee4a3c" stroke-width="1.6" fill="none"/>
<path d="M444.68,54.90 L451.87,48.61" stroke="#d02c3e" stroke-width="1.6" fill="none"/>
<path d="M452.54,48.87 L453.53,58.37" stroke="#ee4a3c" stroke-width="1.6" fill="none"/>
<path d="M449.48,56.69 L456.78,50.62" stroke="#d02c3e" stroke-width="1.6" fill="none"/>
<path d="M457.42,50.89 L458.61,60.36" stroke="#ee4a3c" stroke-width="1.6" fill="none"/>
<path d="M454.18,58.64 L461.34,52.42" stroke="#d02c3e" stroke-width="1.6" fill="none"/>
<path d="M461.99,52.64 L463.63,62.04" stroke="#ee4a3c" stroke-width="1.6" fill="none"/>
<path d="M459.29,60.59 L466.15,54.02" stroke="#d02c3e" stroke-width="1.6" fill="none"/>
<path d="M466.78,54.22 L469.07,63.46" stroke="#ee4a3c" stroke-width="1.6" fill="none"/>
<path d="M464.35,62.26 L470.73,55.23" stroke="#d02c3e" stroke-width="1.6" fill="none"/>
<path d="M471.31,55.34 L474.89,64.11" stroke="#ee4a3c" stroke-width="1.6" fill="none"/>
<path d="M469.86,63.61 L475.21,55.71" stroke="#d02c3e" stroke-width="1.6" fill="none"/>
<path d="M475.83,55.73 L480.53,63.98" stroke="#ee4a3c" stroke-width="1.6" fill="none"/>
<path d="M475.66,64.13 L479.91,55.60" stroke="#d02c3e" stroke-width="1.6" fill="none"/>
<path d="M480.59,55.55 L485.87,63.46" stroke="#ee4a3c" stroke-width="1.6" fill="none"/>
<path d="M481.25,63.92 L484.89,55.11" stroke="#d02c3e" stroke-width="1.6" fill="none"/>
<path d="M485.54,55.03 L491.51,62.47" stroke="#ee4a3c" stroke-width="1.6" fill="none"/>
<path d="M486.61,63.36 L489.45,54.33" stroke="#d02c3e" stroke-width="1.6" fill="none"/>
<path d="M490.00,54.18 L497.31,60.21" stroke="#ee4a3c" stroke-width="1.6" fill="none"/>
<path d="M492.32,62.26 L493.28,52.83" stroke="#d02c3e" stroke-width="1.6" fill="none"/>
<path d="M493.78,52.55 L502.25,56.82" stroke="#ee4a3c" stroke-width="1.6" fill="none"/>
<path d="M498.03,59.80 L496.88,50.37" stroke="#d02c3e" stroke-width="1.6" fill="none"/>
<path d="M497.33,49.98 L506.51,52.53" stroke="#ee4a3c" stroke-width="1.6" fill="none"/>
<path d="M502.86,56.30 L499.92,47.33" stroke="#d02c3e" stroke-width="1.6" fill="none"/>
<path d="M500.31,46.83 L509.74,47.55" stroke="#ee4a3c" stroke-width="1.6" fill="none"/>
<path d="M506.98,51.93 L502.31,43.63" stroke="#d02c3e" stroke-width="1.6" fill="none"/>
<path d="M502.59,43.09 L512.07,41.94" stroke="#ee4a3c" stroke-width="1.6" fill="none"/>
<path d="M510.10,46.84 L503.98,39.69" stroke="#d02c3e" stroke-width="1.6" fill="none"/>
<path d="M504.11,39.15 L513.01,36.03" stroke="#ee4a3c" stroke-width="1.6" fill="none"/>
<path d="M512.28,41.12 L504.63,35.37" stroke="#d02c3e" stroke-width="1.6" fill="none"/>
<path d="M504.68,34.70 L513.30,30.56" stroke="#ee4a3c" stroke-width="1.6" fill="none"/>
<path d="M513.06,35.31 L504.90,30.50" stroke="#d02c3e" stroke-width="1.6" fill="none"/>
<path d="M504.90,29.86 L513.20,25.27" stroke="#ee4a3c" stroke-width="1.6" fill="none"/>
<path d="M513.30,29.80 L504.80,25.43" stroke="#d02c3e" stroke-width="1.6" fill="none"/>
<path d="M418.55,58.67 L409.46,61.94" stroke="#4464bc" stroke-width="1.6" fill="none"/>
<path d="M410.32,57.02 L417.82,62.71" stroke="#1c2c84" stroke-width="1.6" fill="none"/>
<path d="M417.80,63.13 L409.84,68.49" stroke="#4464bc" stroke-width="1.6" fill="none"/>
<path d="M409.40,62.92 L418.02,66.62" stroke="#1c2c84" stroke-width="1.6" fill="none"/>
<path d="M418.13,67.01 L412.41,74.52" stroke="#4464bc" stroke-width="1.6" fill="none"/>
<path d="M410.10,69.45 L419.61,70.19" stroke="#1c2c84" stroke-width="1.6" fill="none"/>
<path d="M419.91,70.67 L415.94,79.32" stroke="#4464bc" stroke-width="1.6" fill="none"/>
<path d="M412.85,75.23 L422.32,73.85" stroke="#1c2c84" stroke-width="1.6" fill="none"/>
<path d="M422.68,74.25 L421.31,83.61" stroke="#4464bc" stroke-width="1.6" fill="none"/>
<path d="M416.51,79.96 L425.06,76.10" stroke="#1c2c84" stroke-width="1.6" fill="none"/>
<path d="M425.59,76.36 L427.24,85.73" stroke="#4464bc" stroke-width="1.6" fill="none"/>
<path d="M422.04,83.97 L429.01,77.51" stroke="#1c2c84" stroke-width="1.6" fill="none"/>
<path d="M429.55,77.62 L433.85,86.05" stroke="#4464bc" stroke-width="1.6" fill="none"/>
<path d="M428.07,85.89 L432.84,77.72" stroke="#1c2c84" stroke-width="1.6" fill="none"/>
<path d="M433.39,77.64 L439.57,84.86" stroke="#4464bc" stroke-width="1.6" fill="none"/>
<path d="M434.69,85.94 L437.40,76.75" stroke="#1c2c84" stroke-width="1.6" fill="none"/>
<path d="M438.06,76.57 L444.67,83.50" stroke="#4464bc" stroke-width="1.6" fill="none"/>
<path d="M440.25,84.68 L442.45,75.40" stroke="#1c2c84" stroke-width="1.6" fill="none"/>
<path d="M443.06,75.22 L449.86,81.89" stroke="#4464bc" stroke-width="1.6" fill="none"/>
<path d="M445.40,83.29 L447.29,73.90" stroke="#1c2c84" stroke-width="1.6" fill="none"/>
<path d="M447.97,73.68 L454.62,80.50" stroke="#4464bc" stroke-width="1.6" fill="none"/>
<path d="M450.52,81.68 L452.62,72.34" stroke="#1c2c84" stroke-width="1.6" fill="none"/>
<path d="M453.33,72.17 L459.56,79.40" stroke="#4464bc" stroke-width="1.6" fill="none"/>
<path d="M455.27,80.34 L457.94,71.16" stroke="#1c2c84" stroke-width="1.6" fill="none"/>
<path d="M458.66,71.02 L464.40,78.65" stroke="#4464bc" stroke-width="1.6" fill="none"/>
<path d="M460.21,79.28 L463.48,70.30" stroke="#1c2c84" stroke-width="1.6" fill="none"/>
<path d="M464.24,70.22 L469.25,78.36" stroke="#4464bc" stroke-width="1.6" fill="none"/>
<path d="M465.03,78.59 L469.12,69.96" stroke="#1c2c84" stroke-width="1.6" fill="none"/>
<path d="M469.87,69.95 L474.15,78.48" stroke="#4464bc" stroke-width="1.6" fill="none"/>
<path d="M469.90,78.35 L474.72,70.10" stroke="#1c2c84" stroke-width="1.6" fill="none"/>
<path d="M475.47,70.16 L479.11,78.98" stroke="#4464bc" stroke-width="1.6" fill="none"/>
<path d="M474.79,78.53 L480.21,70.65" stroke="#1c2c84" stroke-width="1.6" fill="none"/>
<path d="M480.96,70.75 L483.76,79.85" stroke="#4464bc" stroke-width="1.6" fill="none"/>
<path d="M479.75,79.07 L485.88,71.72" stroke="#1c2c84" stroke-width="1.6" fill="none"/>
<path d="M486.65,71.93 L488.12,81.37" stroke="#4464bc" stroke-width="1.6" fill="none"/>
<path d="M484.34,80.01 L491.44,73.65" stroke="#1c2c84" stroke-width="1.6" fill="none"/>
<path d="M492.15,73.97 L492.48,83.51" stroke="#4464bc" stroke-width="1.6" fill="none"/>
<path d="M488.69,81.62 L496.51,76.14" stroke="#1c2c84" stroke-width="1.6" fill="none"/>
<path d="M497.14,76.49 L496.68,86.00" stroke="#4464bc" stroke-width="1.6" fill="none"/>
<path d="M493.07,83.84 L501.34,79.02" stroke="#1c2c84" stroke-width="1.6" fill="none"/>
<path d="M501.99,79.46 L500.57,88.91" stroke="#4464bc" stroke-width="1.6" fill="none"/>
<path d="M497.19,86.35 L505.87,82.40" stroke="#1c2c84" stroke-width="1.6" fill="none"/>
<path d="M506.44,82.86 L504.43,92.17" stroke="#4464bc" stroke-width="1.6" fill="none"/>
<path d="M501.08,89.33 L510.04,85.91" stroke="#1c2c84" stroke-width="1.6" fill="none"/>
<path d="M510.60,86.43 L507.95,95.68" stroke="#4464bc" stroke-width="1.6" fill="none"/>
<path d="M504.90,92.60 L513.96,89.82" stroke="#1c2c84" stroke-width="1.6" fill="none"/>
<rect x="464.30" y="54.30" width="23.00" height="11.70" fill="#f68c3c" stroke="none" stroke-width="1" fill-opacity="0.3"/>
<rect x="466.50" y="70.40" width="17.00" height="10.40" fill="#f4b8c4" stroke="none" stroke-width="1" fill-opacity="0.25"/>
<path d="M410.8,52.4 L416.6,50.0 L415.6,56.0 Z" fill="#c0281e"/>
<text x="426.00" y="40.30" font-size="6.2" text-anchor="start" fill="#e0523a" stroke="#e0523a" stroke-width="0.12" style="" >chr14</text>
<text x="476.90" y="40.00" font-size="6.3" text-anchor="middle" fill="#444" stroke="#444" stroke-width="0.12" style="font-style:italic;" >BCL11B</text>
<text x="476.90" y="48.40" font-size="6.3" text-anchor="middle" fill="#444" stroke="#444" stroke-width="0.12" style="" >Enhancers</text>
<text x="424.50" y="68.80" font-size="6.3" text-anchor="start" fill="#333" stroke="#333" stroke-width="0.12" style="" >t(5;14)</text>
<text x="420.40" y="96.60" font-size="6.3" text-anchor="start" fill="#5a50aa" stroke="#5a50aa" stroke-width="0.12" style="" >chr5</text>
<text x="469.20" y="96.40" font-size="6.3" text-anchor="start" fill="#333" stroke="#333" stroke-width="0.12" style="font-style:italic;" >TLX3</text>
<path d="M466.6,80.8 V87.5 H469.6" fill="none" stroke="#111" stroke-width="0.8"/><path d="M469.3,86.1 L471.5,87.5 L469.3,88.9 Z" fill="#111"/>
<path d="M458.1,93.2 V99.6" fill="none" stroke="#111" stroke-width="0.8"/><path d="M456.4,98.6 L458.1,101.5 L459.8,98.6 Z" fill="#111"/>
<text x="457.80" y="111.10" font-size="6.6" text-anchor="middle" fill="#333" stroke="#333" stroke-width="0.12" style=""  textLength="53.2" lengthAdjust="spacingAndGlyphs">Enhancer hijacking</text>
<text x="458.9" y="118.9" font-size="6.6" text-anchor="middle" fill="#333" stroke="#333" stroke-width="0.12"><tspan style="font-style:italic">de novo</tspan> E-P looping</text>
<text x="458.9" y="126.5" font-size="6.6" text-anchor="middle" fill="#333" stroke="#333" stroke-width="0.12"><tspan style="font-style:italic">TLX3</tspan> activation</text>
<rect x="63.6" y="196.8" width="210.8" height="303.4" fill="none" stroke="#444" stroke-width="0.9" stroke-dasharray="3.2,2.1"/>
<rect x="279.7" y="196.8" width="211.6" height="303.4" fill="none" stroke="#444" stroke-width="0.9" stroke-dasharray="3.2,2.1"/>
<rect x="101.50" y="226.50" width="16.80" height="270.60" fill="#fde6d0" stroke="none" stroke-width="1" />
<text x="68.90" y="204.80" font-size="6.45" text-anchor="start" fill="#222" stroke="#222" stroke-width="0.12" style="" >chr14:98,351,220-99,760,181</text>
<text x="110.80" y="212.00" font-size="6.3" text-anchor="middle" fill="#d44a62" stroke="#d44a62" stroke-width="0.12" style="font-style:italic;" >BCL11B</text>
<text x="110.80" y="219.90" font-size="6.3" text-anchor="middle" fill="#d44a62" stroke="#d44a62" stroke-width="0.12" style="" >Enhancers</text>
<path d="M70,216.4 H79.2" stroke="#4a48a0" stroke-width="1.8"/>
<text x="68.00" y="225.20" font-size="6.3" text-anchor="start" fill="#666" stroke="#666" stroke-width="0.12" style="font-style:italic;" >LINC01550</text>
<rect x="102.30" y="225.00" width="16.20" height="1.60" fill="#d0321a" stroke="none" stroke-width="1" />
<text x="248.20" y="204.50" font-size="6.4" text-anchor="middle" fill="#222" stroke="#222" stroke-width="0.12" style="" >176 kb</text>
<path d="M235.1,206.8 V209.2 M235.1,208 H263 M263,206.8 V209.2" stroke="#444" stroke-width="0.8" fill="none"/>
<path d="M188.6,215.3 V218.7 M187.4,215.5 H189.8 M187.4,218.5 H189.8" stroke="#2a2a80" stroke-width="0.9"/>
<text x="192.80" y="225.60" font-size="6.3" text-anchor="middle" fill="#666" stroke="#666" stroke-width="0.12" style="font-style:italic;" >C14orf177</text>
<path d="M256.5,217 H272.2" stroke="#3a3aa0" stroke-width="1.5"/><rect x="255.4" y="215.0" width="2.8" height="4.0" fill="#23237a"/>
<path d="M260.1,215.2 L259,217 L260.1,218.8" stroke="#2a2a90" stroke-width="0.7" fill="none"/>
<path d="M262.1,215.2 L261,217 L262.1,218.8" stroke="#2a2a90" stroke-width="0.7" fill="none"/>
<path d="M264.1,215.2 L263,217 L264.1,218.8" stroke="#2a2a90" stroke-width="0.7" fill="none"/>
<path d="M266.1,215.2 L265,217 L266.1,218.8" stroke="#2a2a90" stroke-width="0.7" fill="none"/>
<path d="M268.1,215.2 L267,217 L268.1,218.8" stroke="#2a2a90" stroke-width="0.7" fill="none"/>
<path d="M270.1,215.2 L269,217 L270.1,218.8" stroke="#2a2a90" stroke-width="0.7" fill="none"/>
<path d="M272.1,215.2 L271,217 L272.1,218.8" stroke="#2a2a90" stroke-width="0.7" fill="none"/>
<rect x="262.5" y="215.2" width="0.9" height="3.6" fill="#23237a"/>
<rect x="266.5" y="215.2" width="0.9" height="3.6" fill="#23237a"/>
<rect x="270.5" y="215.2" width="0.9" height="3.6" fill="#23237a"/>
<text x="249.30" y="229.20" font-size="6.3" text-anchor="middle" fill="#333" stroke="#333" stroke-width="0.12" style="font-style:italic;" >BCL11B</text>
<text x="284.20" y="204.80" font-size="6.45" text-anchor="start" fill="#222" stroke="#222" stroke-width="0.12" style="" >chr5:170,698,501-170,766,556</text>
<text x="400.20" y="204.50" font-size="6.4" text-anchor="middle" fill="#222" stroke="#222" stroke-width="0.12" style="" >Viewpoint</text>
<path d="M393.5,208.6 L402.8,208.6 L398.15,213.2 Z" fill="#6a2c91"/>
<text x="471.50" y="204.50" font-size="6.4" text-anchor="middle" fill="#222" stroke="#222" stroke-width="0.12" style="" >8.5 kb</text>
<path d="M457,206.4 V209 M457,207.7 H484.5 M484.5,206.4 V209" stroke="#444" stroke-width="0.8" fill="none"/>
<path d="M280.5,216.7 H368" stroke="#7a70c8" stroke-width="1.0"/><path d="M281,216.7 H366" stroke="#4a40a8" stroke-width="2.0" stroke-dasharray="1.1,0.9"/><rect x="365.5" y="215.3" width="4" height="2.8" fill="#23237a"/>
<path d="M280.6,214.8 Q282.2,216.7 280.6,218.6" stroke="#5a4ab0" stroke-width="0.6" fill="none"/>
<text x="327.60" y="225.30" font-size="6.3" text-anchor="middle" fill="#666" stroke="#666" stroke-width="0.12" style="font-style:italic;" >RANBP17</text>
<rect x="397.60" y="218.60" width="3.40" height="4.60" fill="#23237a" stroke="none" stroke-width="1" />
<line x1="401.00" y1="221.00" x2="404.60" y2="221.00" stroke="#23237a" stroke-width="0.8" />
<rect x="402.20" y="219.30" width="1.60" height="3.40" fill="#2a2a88" stroke="none" stroke-width="1" />
<rect x="404.60" y="219.30" width="2.60" height="3.40" fill="#23237a" stroke="none" stroke-width="1" />
<path d="M398.6,219 V215.5 H402.6" fill="none" stroke="#111" stroke-width="0.8"/><path d="M402.3,214.2 L404.2,215.5 L402.3,216.8 Z" fill="#111"/>
<text x="413.00" y="222.80" font-size="6.4" text-anchor="start" fill="#333" stroke="#333" stroke-width="0.12" style="font-style:italic;" >TLX3</text>
<text x="494.90" y="221.40" font-size="6.3" text-anchor="start" fill="#333" stroke="#333" stroke-width="0.12" style="" >t(5;14)</text>
<text x="61.00" y="235.90" font-size="6.6" text-anchor="end" fill="#333" stroke="#333" stroke-width="0.12" style="" >DND-41</text>
<text x="61.00" y="248.21" font-size="6.6" text-anchor="end" fill="#333" stroke="#333" stroke-width="0.12" style="" >Jurkat</text>
<text x="61.00" y="260.52" font-size="6.6" text-anchor="end" fill="#333" stroke="#333" stroke-width="0.12" style="" >HNT-34</text>
<text x="61.00" y="272.83" font-size="6.6" text-anchor="end" fill="#333" stroke="#333" stroke-width="0.12" style="" >GM12878</text>
<text x="61.00" y="285.14" font-size="6.6" text-anchor="end" fill="#333" stroke="#333" stroke-width="0.12" style="" >UT242</text>
<text x="61.00" y="297.45" font-size="6.6" text-anchor="end" fill="#333" stroke="#333" stroke-width="0.12" style="" >UT308</text>
<text x="61.00" y="309.76" font-size="6.6" text-anchor="end" fill="#333" stroke="#333" stroke-width="0.12" style="" >DND-41</text>
<text x="61.00" y="322.07" font-size="6.6" text-anchor="end" fill="#333" stroke="#333" stroke-width="0.12" style="" >Jurkat</text>
<text x="61.00" y="334.38" font-size="6.6" text-anchor="end" fill="#333" stroke="#333" stroke-width="0.12" style="" >HNT-34</text>
<text x="61.00" y="346.69" font-size="6.6" text-anchor="end" fill="#333" stroke="#333" stroke-width="0.12" style="" >GM12878</text>
<text x="61.00" y="359.00" font-size="6.6" text-anchor="end" fill="#333" stroke="#333" stroke-width="0.12" style="" >UT242</text>
<text x="61.00" y="371.31" font-size="6.6" text-anchor="end" fill="#333" stroke="#333" stroke-width="0.12" style="" >UT308</text>
<text x="61.00" y="383.62" font-size="6.6" text-anchor="end" fill="#333" stroke="#333" stroke-width="0.12" style="" >DND-41</text>
<text x="61.00" y="395.93" font-size="6.6" text-anchor="end" fill="#333" stroke="#333" stroke-width="0.12" style="" >Jurkat</text>
<text x="61.00" y="408.24" font-size="6.6" text-anchor="end" fill="#333" stroke="#333" stroke-width="0.12" style="" >HNT-34</text>
<text x="61.00" y="420.55" font-size="6.6" text-anchor="end" fill="#333" stroke="#333" stroke-width="0.12" style="" >GM12878</text>
<text x="61.00" y="432.86" font-size="6.6" text-anchor="end" fill="#333" stroke="#333" stroke-width="0.12" style="" >UT242</text>
<text x="61.00" y="445.17" font-size="6.6" text-anchor="end" fill="#333" stroke="#333" stroke-width="0.12" style="" >UT308</text>
<text x="61.00" y="457.48" font-size="6.6" text-anchor="end" fill="#333" stroke="#333" stroke-width="0.12" style="" >DND-41</text>
<text x="61.00" y="469.79" font-size="6.6" text-anchor="end" fill="#333" stroke="#333" stroke-width="0.12" style="" >Jurkat</text>
<text x="61.00" y="482.10" font-size="6.6" text-anchor="end" fill="#333" stroke="#333" stroke-width="0.12" style="" >HNT-34</text>
<text x="61.00" y="494.41" font-size="6.6" text-anchor="end" fill="#333" stroke="#333" stroke-width="0.12" style="" >GM12878</text>
<path d="M31.8,227.40 H29.7 V276.10 H31.8" fill="none" stroke="#666" stroke-width="0.9"/>
<path d="M31.8,279.40 H29.7 V349.30 H31.8" fill="none" stroke="#666" stroke-width="0.9"/>
<path d="M31.8,351.50 H29.7 V423.30 H31.8" fill="none" stroke="#666" stroke-width="0.9"/>
<path d="M31.8,426.50 H29.7 V497.90 H31.8" fill="none" stroke="#666" stroke-width="0.9"/>
<text x="0" y="0" font-size="8.4" text-anchor="middle" fill="#222" stroke="#222" stroke-width="0.12" transform="translate(25.2,251.4) rotate(-90)">ATAC-seq</text>
<text x="0" y="0" font-size="8.4" text-anchor="middle" fill="#222" stroke="#222" stroke-width="0.12" transform="translate(14.5,313.5) rotate(-90)">H3K27ac</text>
<text x="0" y="0" font-size="8.4" text-anchor="middle" fill="#222" stroke="#222" stroke-width="0.12" transform="translate(25.2,313.5) rotate(-90)">ChIP-seq</text>
<text x="0" y="0" font-size="8.4" text-anchor="middle" fill="#222" stroke="#222" stroke-width="0.12" transform="translate(25.2,387.0) rotate(-90)">RNA-seq</text>
<text x="0" y="0" font-size="8.4" text-anchor="middle" fill="#222" stroke="#222" stroke-width="0.12" transform="translate(14.5,460.0) rotate(-90)"><tspan style="font-style:italic">TLX3</tspan> Promoter</text>
<text x="0" y="0" font-size="8.4" text-anchor="middle" fill="#222" stroke="#222" stroke-width="0.12" transform="translate(25.2,460.0) rotate(-90)">4C-seq</text>
<path d="M493.4,227.70 H495.6 V237.50 H493.4" fill="none" stroke="#666" stroke-width="0.9"/>
<text x="499.60" y="234.80" font-size="6.2" text-anchor="middle" fill="#444" stroke="#444" stroke-width="0.12" style="" >+</text>
<path d="M493.4,240.01 H495.6 V274.43 H493.4" fill="none" stroke="#666" stroke-width="0.9"/>
<text x="499.60" y="259.42" font-size="6.2" text-anchor="middle" fill="#444" stroke="#444" stroke-width="0.12" style="" >–</text>
<path d="M493.4,276.94 H495.6 V311.36 H493.4" fill="none" stroke="#666" stroke-width="0.9"/>
<text x="499.60" y="296.35" font-size="6.2" text-anchor="middle" fill="#444" stroke="#444" stroke-width="0.12" style="" >+</text>
<path d="M493.4,313.87 H495.6 V348.29 H493.4" fill="none" stroke="#666" stroke-width="0.9"/>
<text x="499.60" y="333.28" font-size="6.2" text-anchor="middle" fill="#444" stroke="#444" stroke-width="0.12" style="" >–</text>
<path d="M493.4,350.80 H495.6 V385.22 H493.4" fill="none" stroke="#666" stroke-width="0.9"/>
<text x="499.60" y="370.21" font-size="6.2" text-anchor="middle" fill="#444" stroke="#444" stroke-width="0.12" style="" >+</text>
<path d="M493.4,387.73 H495.6 V422.15 H493.4" fill="none" stroke="#666" stroke-width="0.9"/>
<text x="499.60" y="407.14" font-size="6.2" text-anchor="middle" fill="#444" stroke="#444" stroke-width="0.12" style="" >–</text>
<path d="M493.4,424.66 H495.6 V459.08 H493.4" fill="none" stroke="#666" stroke-width="0.9"/>
<text x="499.60" y="444.07" font-size="6.2" text-anchor="middle" fill="#444" stroke="#444" stroke-width="0.12" style="" >+</text>
<path d="M493.4,461.59 H495.6 V496.01 H493.4" fill="none" stroke="#666" stroke-width="0.9"/>
<text x="499.60" y="481.00" font-size="6.2" text-anchor="middle" fill="#444" stroke="#444" stroke-width="0.12" style="" >–</text>
<rect x="66.00" y="424.15" width="101.70" height="11.71" fill="#fffafa" stroke="#e89098" stroke-width="1.2" />
<rect x="66.00" y="436.46" width="79.40" height="11.71" fill="#fffafa" stroke="#e89098" stroke-width="1.2" />
<rect x="66.00" y="448.77" width="68.80" height="11.71" fill="#fffafa" stroke="#e89098" stroke-width="1.2" />
<line x1="65.50" y1="237.80" x2="272.60" y2="237.80" stroke="#f6c6be" stroke-width="0.675" />
<polygon points="65.5,238.0 65.5,238.0 70.2,238.0 70.5,237.9 70.8,237.8 71.0,237.9 71.2,238.0 74.0,238.0 74.2,237.8 74.5,237.6 74.8,237.8 75.0,238.0 76.5,238.0 76.8,237.7 77.0,237.4 77.2,237.4 77.5,237.7 77.8,238.0 78.2,238.0 78.5,237.6 78.8,236.5 79.0,235.5 79.2,236.5 79.5,237.6 79.8,238.0 84.5,238.0 84.8,237.8 85.0,237.0 85.2,236.2 85.5,236.7 85.8,237.5 86.0,238.0 87.8,238.0 88.0,237.8 88.2,237.7 88.5,237.9 88.8,238.0 92.8,238.0 93.0,237.7 93.2,237.4 93.5,237.5 93.8,237.8 94.0,238.0 98.0,238.0 98.2,237.6 98.5,237.2 98.8,237.2 99.0,237.7 99.2,238.0 101.0,238.0 101.2,237.8 101.5,237.9 101.8,238.0 102.0,237.8 102.2,236.7 102.5,235.5 102.8,235.8 103.0,237.0 103.2,238.0 107.0,238.0 107.2,236.7 107.5,234.6 107.8,232.4 108.0,233.7 108.2,235.9 108.5,238.0 108.8,238.0 109.0,236.9 109.2,234.1 109.5,231.3 109.8,231.9 110.0,234.7 110.2,237.4 110.5,238.0 110.8,237.9 111.0,236.3 111.2,234.1 111.5,232.0 111.8,234.1 112.0,236.3 112.2,238.0 112.5,237.6 112.8,237.2 113.0,237.0 113.2,234.5 113.5,232.0 113.8,232.5 114.0,235.0 114.2,237.5 114.5,238.0 116.0,238.0 116.2,236.5 116.5,235.0 116.8,236.5 117.0,238.0 117.8,238.0 118.0,237.7 118.2,237.4 118.5,237.4 118.8,237.7 119.0,238.0 120.8,238.0 121.0,237.9 121.2,237.8 121.5,237.9 121.8,238.0 127.8,238.0 128.0,237.9 128.2,237.8 128.5,237.8 128.8,238.0 155.8,238.0 156.0,237.9 156.2,237.9 156.5,238.0 157.2,238.0 157.5,237.7 157.8,237.6 158.0,237.7 158.2,238.0 168.8,238.0 169.0,237.8 169.2,237.4 169.5,236.9 169.8,237.3 170.0,237.8 170.2,237.8 170.5,237.7 170.8,237.5 171.0,237.6 171.2,237.9 171.5,237.7 171.8,237.2 172.0,237.1 172.2,237.6 172.5,238.0 176.5,238.0 176.8,237.8 177.0,237.7 177.2,237.8 177.5,238.0 199.8,238.0 200.0,237.8 200.2,237.6 200.5,237.5 200.8,237.7 201.0,238.0 210.5,238.0 210.8,237.8 211.0,237.7 211.2,237.7 211.5,237.9 211.8,238.0 214.2,238.0 214.5,237.9 214.8,237.7 215.0,237.6 215.2,237.8 215.5,238.0 217.5,238.0 217.8,237.7 218.0,236.2 218.2,234.7 218.5,235.6 218.8,237.1 219.0,238.0 220.5,238.0 220.8,237.2 221.0,236.0 221.2,235.3 221.5,236.5 221.8,237.8 222.0,238.0 224.8,238.0 225.0,237.8 225.2,237.9 225.5,237.7 225.8,236.8 226.0,236.0 226.2,236.8 226.5,237.7 226.8,238.0 227.2,238.0 227.5,237.7 227.8,237.4 228.0,237.6 228.2,237.8 228.5,238.0 230.0,238.0 230.2,237.7 230.5,237.4 230.8,237.5 231.0,237.8 231.2,238.0 232.8,238.0 233.0,237.9 233.2,237.9 233.5,238.0 236.8,238.0 237.0,237.9 237.2,237.7 237.5,237.7 237.8,237.8 238.0,238.0 238.5,238.0 238.8,237.9 239.0,237.8 239.2,237.9 239.5,238.0 243.2,238.0 243.5,237.7 243.8,237.5 244.0,237.6 244.2,237.8 244.5,238.0 247.5,238.0 247.8,237.9 248.0,237.6 248.2,237.3 248.5,237.6 248.8,237.7 249.0,237.5 249.2,237.7 249.5,237.9 249.8,238.0 255.5,238.0 255.8,236.0 256.0,236.4 257.2,236.4 257.5,235.9 258.0,235.9 258.2,236.1 258.8,236.1 259.0,235.9 259.5,235.9 259.8,236.2 261.0,236.2 261.2,235.7 261.8,235.7 262.0,235.0 262.2,235.7 262.5,235.7 262.8,236.3 263.2,236.3 263.5,235.8 264.0,235.8 264.2,236.2 264.8,236.2 265.0,236.5 265.5,236.5 265.8,235.8 266.2,235.8 266.5,236.1 267.0,236.1 267.2,236.4 267.8,236.4 268.0,236.1 269.2,236.1 269.5,236.0 270.0,236.0 270.2,235.4 270.5,235.4 270.8,234.6 271.0,233.0 271.2,234.6 271.5,235.8 271.8,237.7 272.0,238.0 272.5,238.0 272.5,238.0" fill="#e0321c" stroke="none"/>
<line x1="65.50" y1="250.11" x2="272.60" y2="250.11" stroke="#f6c6be" stroke-width="0.675" />
<polygon points="65.5,250.3 65.5,250.3 70.2,250.3 70.5,250.0 70.8,249.8 71.0,250.0 71.2,250.3 78.2,250.3 78.5,250.0 78.8,249.4 79.0,248.7 79.2,249.4 79.5,250.0 79.8,250.3 80.8,250.3 81.0,250.1 81.2,249.5 81.5,248.9 81.8,249.5 82.0,250.1 82.2,250.0 82.5,249.6 82.8,249.4 83.0,249.8 83.2,250.3 84.5,250.3 84.8,250.2 85.0,249.6 85.2,248.9 85.5,249.3 85.8,249.9 86.0,250.3 87.2,250.3 87.5,250.1 87.8,250.2 88.0,250.3 100.5,250.3 100.8,250.2 101.0,250.0 101.2,250.0 101.5,250.2 101.8,250.3 103.0,250.3 103.2,250.1 103.5,249.9 103.8,250.0 104.0,250.2 104.2,250.3 107.0,250.3 107.2,250.1 107.5,248.8 107.8,247.6 108.0,248.3 108.2,249.6 108.5,250.3 108.8,250.0 109.0,249.6 109.2,248.4 109.5,246.6 109.8,246.9 110.0,248.8 110.2,250.3 111.2,250.3 111.5,249.8 111.8,248.6 112.0,247.3 112.2,248.6 112.5,249.6 112.8,249.9 113.0,250.3 113.2,250.3 113.5,249.8 113.8,248.6 114.0,247.3 114.2,248.6 114.5,249.8 114.8,250.3 138.0,250.3 138.2,250.2 138.5,249.7 138.8,249.2 139.0,249.6 139.2,250.1 139.5,250.3 143.5,250.3 143.8,250.1 144.0,249.7 144.2,249.5 144.5,249.9 144.8,250.3 152.5,250.3 152.8,250.1 153.0,249.9 153.2,250.0 153.5,250.2 153.8,250.3 160.8,250.3 161.0,250.1 161.2,250.2 161.5,250.3 166.2,250.3 166.5,250.1 166.8,249.7 167.0,249.4 167.2,249.8 167.5,250.2 167.8,250.3 168.5,250.3 168.8,250.2 169.0,249.9 169.2,249.6 169.5,249.9 169.8,250.2 170.0,250.2 170.2,250.3 170.5,250.3 170.8,249.9 171.0,249.4 171.2,249.3 171.5,249.4 171.8,249.7 172.0,250.1 172.2,250.3 174.0,250.3 174.2,250.1 174.5,250.1 174.8,250.3 182.5,250.3 182.8,249.9 183.0,249.5 183.2,249.7 183.5,250.0 183.8,250.3 190.5,250.3 190.8,250.1 191.0,250.0 191.2,250.2 191.5,250.3 192.2,250.3 192.5,250.2 192.8,250.0 193.0,249.9 193.2,250.1 193.5,250.3 200.0,250.3 200.2,250.1 200.5,250.1 200.8,250.2 201.0,250.3 214.5,250.3 214.8,250.1 215.0,249.6 215.2,249.2 215.5,249.6 215.8,250.1 216.0,250.3 216.5,250.3 216.8,249.9 217.0,247.8 217.2,245.7 217.5,247.0 217.8,249.1 218.0,250.0 218.2,250.3 219.8,250.3 220.0,250.0 220.2,249.1 220.5,248.3 220.8,249.1 221.0,250.0 221.2,250.2 221.5,250.0 221.8,249.9 222.0,250.1 222.2,250.3 222.8,250.3 223.0,250.2 223.2,250.0 223.5,249.7 223.8,250.0 224.0,249.9 224.2,249.9 224.5,250.1 224.8,250.3 225.0,250.3 225.2,249.5 225.5,248.6 225.8,248.8 226.0,249.6 226.2,250.3 227.8,250.3 228.0,249.5 228.2,247.4 228.5,245.3 228.8,247.4 229.0,249.5 229.2,250.3 230.0,250.3 230.2,249.8 230.5,249.0 230.8,248.5 231.0,249.3 231.2,250.1 231.5,250.3 234.2,250.3 234.5,250.0 234.8,249.1 235.0,248.3 235.2,249.1 235.5,249.9 235.8,250.1 236.0,250.3 238.0,250.3 238.2,250.1 238.5,249.9 238.8,250.0 239.0,250.0 239.2,249.1 239.5,248.3 239.8,249.1 240.0,250.0 240.2,250.3 243.5,250.3 243.8,250.1 244.0,250.0 244.2,250.0 244.5,250.2 244.8,250.3 250.0,250.3 250.2,250.0 250.5,249.8 250.8,248.6 251.0,247.3 251.2,248.6 251.5,249.8 251.8,250.2 252.0,250.1 252.2,249.8 252.5,250.0 252.8,250.2 253.0,250.3 255.2,250.3 255.5,246.0 255.8,246.0 256.0,246.3 256.5,246.3 256.8,245.2 257.2,245.2 257.5,245.6 257.8,245.6 258.0,244.8 258.2,245.2 258.8,245.2 259.0,244.8 259.5,244.8 259.8,244.3 260.0,242.3 260.2,244.3 260.5,244.9 261.0,244.9 261.2,246.7 261.5,246.7 261.8,245.3 262.0,243.3 262.2,245.0 262.5,245.0 262.8,247.3 263.2,247.3 263.5,245.4 263.8,243.9 264.0,241.8 264.2,243.9 264.5,246.1 264.8,247.2 265.0,244.7 265.5,244.7 265.8,246.0 266.0,244.3 266.2,246.0 266.5,245.6 267.0,245.6 267.2,245.5 267.5,245.5 267.8,244.7 268.0,242.8 268.2,244.7 268.5,246.6 268.8,246.9 269.2,246.9 269.5,246.1 269.8,243.9 270.0,241.8 270.2,243.9 270.5,244.9 270.8,244.9 271.0,246.2 271.5,246.2 271.8,245.8 272.0,243.3 272.2,245.8 272.5,248.3 272.5,250.3" fill="#e0321c" stroke="none"/>
<line x1="65.50" y1="262.42" x2="272.60" y2="262.42" stroke="#f6c6be" stroke-width="0.675" />
<polygon points="65.5,262.6 65.5,262.6 67.8,262.6 68.0,262.3 68.2,262.2 68.5,262.4 68.8,262.6 69.2,262.6 69.5,262.5 69.8,262.5 70.0,262.6 73.8,262.6 74.0,262.3 74.2,262.1 74.5,262.3 74.8,262.5 75.0,262.6 83.2,262.6 83.5,262.4 83.8,262.3 84.0,262.3 84.2,262.5 84.5,262.6 110.2,262.6 110.5,262.5 110.8,262.0 111.0,261.6 111.2,262.0 111.5,262.5 111.8,262.6 114.5,262.6 114.8,262.5 115.0,262.6 125.8,262.6 126.0,262.5 126.2,262.3 126.5,262.3 126.8,262.5 127.0,262.6 129.8,262.6 130.0,262.5 130.2,262.2 130.5,261.9 130.8,262.2 131.0,262.5 131.2,262.6 137.8,262.6 138.0,262.5 138.2,262.5 138.5,262.6 141.5,262.6 141.8,262.5 142.2,262.5 142.5,262.6 146.8,262.6 147.0,262.4 147.2,262.2 147.5,262.3 147.8,262.5 148.0,262.6 151.2,262.6 151.5,262.5 151.8,262.6 154.2,262.6 154.5,262.5 154.8,262.3 155.0,262.4 155.2,262.6 157.0,262.6 157.2,262.3 157.5,262.1 157.8,262.1 158.0,262.4 158.2,262.6 169.5,262.6 169.8,262.4 170.0,262.1 170.2,261.9 170.5,262.3 170.8,262.6 173.2,262.6 173.5,262.5 173.8,262.3 174.0,262.4 174.2,262.5 174.5,262.6 181.0,262.6 181.2,262.5 181.5,262.5 181.8,262.6 185.8,262.6 186.0,262.5 186.2,262.3 186.5,262.0 186.8,262.3 187.0,262.6 196.2,262.6 196.5,262.5 196.8,262.3 197.0,262.1 197.2,262.3 197.5,262.6 198.5,262.6 198.8,262.5 199.0,262.5 199.2,262.6 204.8,262.6 205.0,262.5 205.2,262.2 205.5,261.9 205.8,262.2 206.0,262.5 206.2,262.5 206.5,262.2 206.8,262.0 207.0,262.3 207.2,262.6 211.2,262.6 211.5,262.5 211.8,262.4 212.0,262.3 212.2,262.5 212.5,262.6 212.8,262.6 213.0,262.4 213.2,262.1 213.5,262.1 213.8,262.4 214.0,262.4 214.2,262.2 214.5,262.2 214.8,262.4 215.0,262.6 222.2,262.6 222.5,262.5 222.8,262.5 223.0,262.6 237.5,262.6 237.8,262.5 238.0,262.6 241.8,262.6 242.0,262.3 242.2,262.0 243.0,262.0 243.2,262.3 243.5,262.2 243.8,261.9 244.0,262.2 244.2,262.5 244.5,262.6 247.2,262.6 247.5,262.4 247.8,262.1 248.0,261.9 248.2,262.3 248.5,262.6 252.5,262.6 252.8,262.5 253.0,262.5 253.2,262.6 267.8,262.6 268.0,262.5 268.2,262.6 272.5,262.6 272.5,262.6" fill="#e0321c" stroke="none"/>
<line x1="65.50" y1="274.73" x2="272.60" y2="274.73" stroke="#f6c6be" stroke-width="0.675" />
<polygon points="65.5,274.9 65.5,274.9 109.5,274.9 109.8,274.8 110.0,274.7 110.2,274.8 110.5,274.9 113.0,274.9 113.2,274.8 113.5,274.8 113.8,274.9 116.5,274.9 116.8,274.8 117.0,274.7 117.2,274.7 117.5,274.9 139.0,274.9 139.2,274.8 139.5,274.9 144.0,274.9 144.2,274.8 144.5,274.7 144.8,274.8 145.0,274.9 150.0,274.9 150.2,274.8 150.5,274.7 150.8,274.8 151.0,274.9 193.8,274.9 194.0,274.8 194.2,274.9 216.8,274.9 217.0,274.8 217.5,274.8 217.8,274.7 218.0,274.8 218.2,274.9 236.8,274.9 237.0,274.8 237.2,274.8 237.5,274.9 247.8,274.9 248.0,274.8 248.2,274.8 248.5,274.9 250.5,274.9 250.8,274.8 251.0,274.7 251.2,274.8 251.5,274.9 255.2,274.9 255.5,274.8 255.8,274.8 256.0,274.9 258.8,274.9 259.0,274.8 259.2,274.8 259.5,274.9 265.2,274.9 265.5,274.8 265.8,274.9 272.5,274.9 272.5,274.9" fill="#e0321c" stroke="none"/>
<line x1="65.50" y1="287.04" x2="272.60" y2="287.04" stroke="#8fcbe6" stroke-width="1.2000000000000002" />
<polygon points="65.5,287.2 65.5,287.0 65.8,286.7 66.0,286.7 66.2,287.0 66.5,287.1 66.8,287.2 68.8,287.2 69.0,286.9 69.2,286.8 69.5,287.0 69.8,287.2 72.0,287.2 72.2,287.1 72.5,287.2 72.8,286.9 73.0,286.5 73.2,286.6 73.5,287.0 73.8,287.2 76.5,287.2 76.8,286.8 77.0,286.5 77.2,286.7 77.5,287.1 77.8,287.2 78.0,287.2 78.2,287.0 78.5,285.5 78.8,284.1 79.0,285.0 79.2,286.4 79.5,287.2 80.0,287.2 80.2,287.0 80.5,286.0 80.8,284.9 81.0,285.6 81.2,286.6 81.5,287.2 87.2,287.2 87.5,287.1 87.8,286.9 88.0,286.9 88.2,287.1 88.5,287.2 95.8,287.2 96.0,287.0 96.2,286.8 96.5,286.7 96.8,287.0 97.0,287.2 102.2,287.2 102.5,287.0 102.8,286.4 103.0,285.7 103.2,286.4 103.5,287.0 103.8,287.2 105.5,287.2 105.8,287.1 106.0,287.0 106.2,286.8 106.5,287.0 106.8,287.2 107.2,287.2 107.5,287.0 107.8,286.6 108.0,286.5 108.2,285.7 108.5,285.6 108.8,286.4 109.0,287.2 109.8,287.2 110.0,286.2 110.2,285.0 110.5,284.7 110.8,286.0 111.0,287.2 111.8,287.2 112.0,286.7 112.2,285.5 112.5,284.2 112.8,285.5 113.0,286.7 113.2,287.2 113.8,287.2 114.0,286.9 114.2,286.1 114.5,285.2 114.8,286.1 115.0,286.9 115.2,287.2 122.8,287.2 123.0,287.0 123.2,286.6 123.5,286.6 123.8,286.9 124.0,287.2 124.8,287.2 125.0,287.0 125.2,286.6 125.5,286.5 125.8,286.8 126.0,287.2 127.5,287.2 127.8,287.1 128.0,287.1 128.2,287.2 135.2,287.2 135.5,287.0 135.8,286.7 136.0,286.6 136.2,286.9 136.5,287.2 141.0,287.2 141.2,287.1 141.5,287.1 141.8,287.2 143.0,287.2 143.2,286.8 143.5,286.4 143.8,286.6 144.0,287.0 144.2,287.2 163.5,287.2 163.8,283.7 164.0,280.2 164.2,283.7 164.5,287.2 166.0,287.2 166.2,287.1 166.5,286.9 166.8,287.0 167.0,287.1 167.2,287.2 173.5,287.2 173.8,287.1 174.0,286.9 174.2,286.8 174.5,287.0 174.8,287.2 176.8,287.2 177.0,287.0 177.2,287.0 177.5,287.1 177.8,287.2 178.0,287.1 178.2,287.1 178.5,287.2 188.0,287.2 188.2,286.9 188.5,286.7 188.8,286.9 189.0,287.1 189.2,287.2 191.2,287.2 191.5,287.1 191.8,286.8 192.0,286.5 192.2,286.8 192.5,287.1 192.8,287.2 194.0,287.2 194.2,287.0 194.5,286.8 194.8,287.0 195.0,287.2 195.5,287.2 195.8,287.0 196.0,286.8 196.2,286.9 196.5,287.1 196.8,287.2 207.5,287.2 207.8,287.0 208.0,286.6 208.2,286.3 208.5,286.4 208.8,286.7 209.0,287.0 209.2,287.2 216.2,287.2 216.5,287.1 216.8,286.8 217.0,286.4 217.2,286.7 217.5,287.1 217.8,287.2 218.0,287.2 218.2,287.1 218.5,286.8 218.8,286.5 219.0,286.8 219.2,287.1 219.5,287.2 220.2,287.2 220.5,286.9 220.8,286.7 221.0,286.9 221.2,287.1 221.5,287.2 225.2,287.2 225.5,287.0 225.8,286.4 226.0,285.7 226.2,286.4 226.5,287.0 226.8,287.2 229.5,287.2 229.8,287.0 230.0,286.7 230.2,286.5 230.5,286.7 230.8,286.8 231.0,287.0 231.2,287.2 234.8,287.2 235.0,287.1 235.2,287.2 235.5,287.0 235.8,286.4 236.0,285.7 236.2,286.4 236.5,287.0 236.8,287.2 241.2,287.2 241.5,287.0 241.8,286.4 242.0,285.7 242.2,286.4 242.5,287.0 242.8,287.2 255.8,287.2 256.0,284.2 257.2,284.2 257.5,285.0 257.8,284.8 258.0,283.7 258.2,284.5 258.8,284.5 259.0,284.3 259.5,284.3 259.8,285.1 260.2,285.1 260.5,284.1 261.0,284.1 261.2,284.0 261.8,284.0 262.0,284.5 262.5,284.5 262.8,284.0 263.2,284.0 263.5,284.6 264.0,284.6 264.2,284.4 264.8,284.4 265.0,284.8 265.5,284.8 265.8,284.9 266.0,283.7 266.2,284.9 266.5,284.8 267.0,284.8 267.2,284.1 267.8,284.1 268.0,284.8 268.5,284.8 268.8,284.5 269.2,284.5 269.5,284.6 269.8,284.1 270.0,282.7 270.2,284.1 270.5,284.9 270.8,284.9 271.0,284.5 271.5,284.5 271.8,285.0 272.0,285.0 272.2,286.8 272.5,286.7 272.5,287.2" fill="#1f86c0" stroke="none"/>
<polygon points="65.5,299.6 65.5,299.4 65.8,299.4 66.0,299.6 71.2,299.6 71.5,299.3 71.8,299.2 72.0,299.3 72.2,299.6 79.0,299.6 79.2,296.9 79.5,292.6 79.8,296.9 80.0,299.6 84.2,299.6 84.5,299.3 84.8,299.2 85.0,299.3 85.2,299.6 88.2,299.6 88.5,299.4 88.8,299.3 89.0,299.4 89.2,299.6 89.5,299.4 89.8,299.3 90.0,299.4 90.2,299.6 90.8,299.6 91.0,299.4 91.2,299.4 91.5,299.1 91.8,298.8 92.0,299.1 92.2,299.4 92.5,299.6 102.2,299.6 102.5,299.1 102.8,298.1 103.0,297.1 103.2,298.1 103.5,299.1 103.8,299.6 104.8,299.6 105.0,299.3 105.2,299.0 105.5,299.0 105.8,299.3 106.0,299.6 106.8,299.6 107.0,299.4 107.2,299.4 107.5,299.1 107.8,298.1 108.0,297.1 108.2,298.1 108.5,299.1 108.8,299.2 109.0,299.1 109.2,299.3 109.5,299.6 109.8,299.6 110.0,299.0 110.2,297.5 110.5,296.1 110.8,297.5 111.0,299.0 111.2,299.6 111.5,299.1 111.8,297.8 112.0,296.6 112.2,297.8 112.5,299.1 112.8,299.6 113.0,299.6 113.2,296.7 113.5,293.8 113.8,292.1 114.0,295.0 114.2,297.8 114.5,298.7 114.8,296.6 115.0,294.6 115.2,296.6 115.5,298.7 115.8,299.6 121.5,299.6 121.8,299.3 122.0,299.2 122.2,299.3 122.5,299.6 133.8,299.6 134.0,299.4 134.2,299.2 134.5,299.0 134.8,299.3 135.0,299.6 139.5,299.6 139.8,299.3 140.0,299.0 140.2,299.0 140.5,298.9 140.8,299.2 141.0,299.6 142.2,299.6 142.5,299.4 142.8,299.2 143.0,299.3 143.2,299.6 157.5,299.6 157.8,299.4 158.0,299.2 158.2,299.2 158.5,299.4 158.8,299.2 159.0,298.9 159.2,299.2 159.5,299.4 159.8,299.6 162.2,299.6 162.5,299.4 162.8,299.3 163.0,299.3 163.2,299.4 163.5,299.1 163.8,298.1 164.0,297.1 164.2,298.1 164.5,299.1 164.8,299.6 166.0,299.6 166.2,299.3 166.5,299.2 166.8,299.3 167.0,299.6 176.5,299.6 176.8,299.4 177.0,299.3 177.2,299.4 177.5,299.6 198.5,299.6 198.8,299.4 199.0,299.3 199.2,299.4 199.5,299.6 201.5,299.6 201.8,299.2 202.0,298.9 202.2,299.1 202.5,299.4 202.8,299.6 203.8,299.6 204.0,299.3 204.2,299.0 204.5,299.2 204.8,299.4 205.0,299.6 229.2,299.6 229.5,299.2 229.8,299.0 230.0,299.1 230.2,299.4 230.5,299.6 231.5,299.6 231.8,299.3 232.0,299.2 232.2,298.9 232.5,299.0 232.8,299.3 233.0,299.6 247.2,299.6 247.5,299.4 247.8,299.4 248.0,299.6 257.2,299.6 257.5,299.1 257.8,298.0 258.0,296.8 258.2,295.7 258.5,294.6 258.8,295.7 259.0,296.8 259.2,298.0 259.5,298.2 259.8,298.4 260.2,298.4 260.5,298.1 261.0,298.1 261.2,298.4 261.8,298.4 262.0,298.6 262.5,298.6 262.8,298.1 263.2,298.1 263.5,298.2 264.0,298.2 264.2,298.1 264.8,298.1 265.0,298.6 265.8,298.6 266.0,297.4 266.2,296.0 266.5,294.6 266.8,293.8 267.0,295.2 267.2,296.6 267.5,297.9 267.8,298.1 268.0,298.2 268.8,298.2 269.0,297.2 269.2,295.7 269.5,294.2 269.8,293.3 270.0,294.8 270.2,296.3 270.5,297.8 270.8,298.2 271.0,298.1 271.2,296.8 271.5,295.6 271.8,296.8 272.0,298.1 272.2,299.3 272.5,299.6 272.5,299.6" fill="#1f86c0" stroke="none"/>
<polygon points="65.5,311.9 65.5,311.9 70.2,311.9 70.5,311.7 70.8,311.5 71.0,311.6 71.2,311.9 73.2,311.9 73.5,311.7 73.8,311.7 74.0,311.9 77.2,311.9 77.5,311.7 77.8,311.6 78.0,311.7 78.2,311.7 78.5,311.9 79.0,311.9 79.2,310.4 79.5,307.9 79.8,310.4 80.0,311.9 86.8,311.9 87.0,311.7 87.2,311.9 102.2,311.9 102.5,311.6 102.8,311.0 103.0,310.4 103.2,311.0 103.5,311.6 103.8,311.9 106.8,311.9 107.0,311.2 107.2,309.5 107.5,307.9 107.8,309.5 108.0,311.2 108.2,311.9 108.8,311.9 109.0,309.7 109.2,307.0 109.5,304.4 109.8,307.0 110.0,309.7 110.2,311.9 110.8,311.9 111.0,310.1 111.2,308.0 111.5,305.9 111.8,308.0 112.0,310.1 112.2,311.9 112.5,310.9 112.8,308.7 113.0,306.4 113.2,308.7 113.5,310.9 113.8,311.9 114.2,311.9 114.5,311.5 114.8,310.7 115.0,309.9 115.2,310.7 115.5,311.5 115.8,311.9 129.0,311.9 129.2,311.7 129.5,311.6 129.8,311.8 130.0,311.9 139.2,311.9 139.5,311.7 139.8,311.5 140.0,311.6 140.2,311.9 145.0,311.9 145.2,311.7 145.5,311.7 145.8,311.9 146.0,311.9 146.2,311.6 146.5,311.5 146.8,311.7 147.0,311.9 151.8,311.9 152.0,311.7 152.2,311.7 152.5,311.9 153.0,311.9 153.2,311.7 153.5,311.6 153.8,311.7 154.0,311.9 163.2,311.9 163.5,311.8 163.8,311.7 164.0,311.9 172.0,311.9 172.2,311.7 172.5,311.9 173.8,311.9 174.0,311.7 174.2,311.5 174.5,311.7 174.8,311.9 178.8,311.9 179.0,311.7 179.2,311.5 179.5,311.6 179.8,311.9 194.8,311.9 195.0,311.7 195.2,311.6 195.5,311.5 195.8,311.7 196.0,311.9 199.0,311.9 199.2,311.6 199.5,311.4 199.8,311.6 200.0,311.9 209.2,311.9 209.5,311.8 209.8,311.9 220.2,311.9 220.5,311.5 220.8,310.7 221.0,309.9 221.2,310.7 221.5,311.5 221.8,311.9 229.8,311.9 230.0,311.7 230.2,311.8 230.5,311.9 234.8,311.9 235.0,311.6 235.2,311.6 235.5,311.7 235.8,311.9 238.8,311.9 239.0,311.8 239.2,311.6 239.5,311.5 239.8,311.6 240.0,311.9 246.0,311.9 246.2,311.8 246.5,311.7 246.8,311.7 247.0,311.9 251.2,311.9 251.5,311.7 251.8,311.6 252.0,311.7 252.2,311.9 262.5,311.9 262.8,311.7 263.0,311.7 263.2,311.9 270.2,311.9 270.5,311.5 270.8,310.7 271.0,309.9 271.2,310.7 271.5,311.5 271.8,311.9 272.5,311.9 272.5,311.9" fill="#1f86c0" stroke="none"/>
<polygon points="65.5,324.2 65.5,324.2 78.2,324.2 78.5,324.0 78.8,324.2 79.2,324.2 79.5,323.8 79.8,322.7 80.0,321.7 80.2,322.7 80.5,323.8 80.8,324.1 81.0,324.2 85.2,324.2 85.5,324.0 85.8,324.0 86.0,324.1 86.2,324.2 90.5,324.2 90.8,324.1 91.0,324.2 91.2,324.2 91.5,324.0 91.8,324.0 92.0,324.2 93.0,324.2 93.2,324.0 93.5,323.9 93.8,324.0 94.0,324.2 101.8,324.2 102.0,323.9 102.2,323.7 102.5,323.8 102.8,323.0 103.0,322.2 103.2,323.0 103.5,323.8 103.8,324.2 104.8,324.2 105.0,324.0 105.2,323.9 105.5,323.8 105.8,323.7 106.0,324.0 106.2,324.2 106.5,323.5 106.8,321.8 107.0,320.2 107.2,321.8 107.5,323.5 107.8,324.2 108.0,324.2 108.2,322.5 108.5,319.6 108.8,316.7 109.0,318.5 109.2,321.3 109.5,324.2 109.8,324.2 110.0,321.6 110.2,318.4 110.5,315.2 110.8,318.4 111.0,321.6 111.2,324.2 111.5,323.2 111.8,320.7 112.0,318.2 112.2,320.7 112.5,323.2 112.8,323.9 113.0,324.2 113.2,324.2 113.5,323.7 113.8,322.4 114.0,321.2 114.2,322.4 114.5,323.7 114.8,324.2 118.5,324.2 118.8,323.8 119.0,323.6 119.2,323.8 119.5,324.1 119.8,324.2 135.2,324.2 135.5,324.0 135.8,324.0 136.0,324.2 138.8,324.2 139.0,324.0 139.2,323.8 139.5,323.9 139.8,324.0 140.0,323.9 140.2,323.9 140.5,324.1 140.8,324.2 143.0,324.2 143.2,324.0 143.5,323.9 143.8,323.9 144.0,324.2 145.2,324.2 145.5,324.1 145.8,324.2 149.2,324.2 149.5,324.0 149.8,323.9 150.0,323.8 150.2,324.0 150.5,324.2 156.0,324.2 156.2,324.0 156.5,323.9 156.8,324.0 157.0,324.2 168.2,324.2 168.5,324.0 168.8,324.1 169.0,324.2 169.8,324.2 170.0,324.0 170.8,324.0 171.0,324.2 185.0,324.2 185.2,324.0 185.5,324.0 185.8,324.2 202.2,324.2 202.5,323.9 202.8,323.7 203.0,323.8 203.2,324.0 203.5,324.2 210.2,324.2 210.5,324.0 210.8,323.8 211.0,323.7 211.2,323.9 211.5,324.2 217.2,324.2 217.5,323.8 217.8,323.0 218.0,322.2 218.2,323.0 218.5,323.8 218.8,324.2 220.2,324.2 220.5,323.8 220.8,322.7 221.0,321.7 221.2,322.7 221.5,323.8 221.8,324.2 227.8,324.2 228.0,323.4 228.2,321.5 228.5,319.7 228.8,321.5 229.0,323.4 229.2,324.2 252.0,324.2 252.2,324.1 252.5,324.2 258.2,324.2 258.5,324.0 258.8,323.5 259.0,323.0 259.2,322.8 259.5,323.2 259.8,323.7 260.0,324.2 265.0,324.2 265.2,324.0 265.5,324.0 265.8,324.1 266.0,324.2 268.0,324.2 268.2,323.0 268.5,321.9 268.8,320.8 269.0,319.7 269.2,320.8 269.5,321.9 269.8,323.0 270.0,324.2 270.2,324.0 270.5,323.0 270.8,322.1 271.0,321.2 271.2,322.1 271.5,323.0 271.8,324.0 272.0,324.2 272.5,324.2 272.5,324.2" fill="#1f86c0" stroke="none"/>
<polygon points="65.5,336.5 65.5,336.5 70.5,336.5 70.8,336.3 71.0,336.5 75.5,336.5 75.8,336.3 76.0,336.2 76.2,336.3 76.5,336.5 86.5,336.5 86.8,336.4 87.0,336.4 87.2,336.5 93.8,336.5 94.0,336.3 94.2,336.3 94.5,336.5 100.8,336.5 101.0,336.3 101.2,336.2 101.5,336.3 101.8,336.5 106.5,336.5 106.8,336.3 107.0,336.3 107.2,336.5 112.8,336.5 113.0,336.4 113.2,336.2 113.5,336.3 113.8,336.5 120.5,336.5 120.8,336.3 121.0,336.2 121.2,336.3 121.5,336.5 123.5,336.5 123.8,336.3 124.0,336.5 137.0,336.5 137.2,336.3 137.5,336.3 137.8,336.5 144.8,336.5 145.0,336.4 145.2,336.5 148.2,336.5 148.5,336.3 148.8,336.2 149.0,336.3 149.2,336.5 168.0,336.5 168.2,336.3 168.5,336.3 168.8,336.5 170.0,336.5 170.2,336.3 170.5,336.3 170.8,336.5 185.0,336.5 185.2,336.3 185.5,336.3 185.8,336.5 187.5,336.5 187.8,336.3 188.0,336.5 191.0,336.5 191.2,336.4 191.5,336.3 192.2,336.3 192.5,336.4 192.8,336.5 211.0,336.5 211.2,336.4 211.5,336.3 211.8,336.3 212.0,336.5 272.5,336.5 272.5,336.5" fill="#1f86c0" stroke="none"/>
<polygon points="65.5,348.8 65.5,348.8 66.2,348.8 66.5,348.7 66.8,348.8 74.5,348.8 74.8,348.7 75.0,348.6 75.2,348.6 75.5,348.8 92.8,348.8 93.0,348.7 93.2,348.8 99.5,348.8 99.8,348.7 100.0,348.6 100.2,348.8 108.2,348.8 108.5,348.7 108.8,348.3 109.0,348.0 109.2,348.3 109.5,348.7 109.8,348.8 111.2,348.8 111.5,348.7 111.8,348.3 112.0,348.0 112.2,348.3 112.5,348.7 112.8,348.8 116.8,348.8 117.0,348.6 117.2,348.5 117.5,348.6 117.8,348.8 141.0,348.8 141.2,348.6 141.5,348.6 141.8,348.8 155.2,348.8 155.5,348.7 155.8,348.6 156.0,348.8 156.5,348.8 156.8,348.6 157.0,348.6 157.2,348.7 157.5,348.8 168.0,348.8 168.2,348.7 168.5,348.7 168.8,348.8 186.2,348.8 186.5,348.6 186.8,348.7 187.0,348.8 199.5,348.8 199.8,348.7 200.0,348.6 200.2,348.7 200.5,348.8 213.8,348.8 214.0,348.7 214.2,348.6 214.5,348.7 214.8,348.8 215.5,348.8 215.8,348.6 216.0,348.6 216.2,348.8 223.8,348.8 224.0,348.7 224.2,348.6 224.5,348.6 224.8,348.8 232.2,348.8 232.5,348.6 232.8,348.5 233.0,348.6 233.2,348.8 233.5,348.8 233.8,348.7 234.0,348.6 234.2,348.8 268.5,348.8 268.8,348.6 269.0,348.5 269.2,348.6 269.5,348.8 272.5,348.8 272.5,348.8" fill="#1f86c0" stroke="none"/>
<line x1="227.80" y1="350.69" x2="227.80" y2="423.55" stroke="#b8d8c0" stroke-width="0.5" />
<polygon points="65.5,361.1 65.5,361.1 66.5,361.1 66.8,361.0 67.0,361.0 67.2,360.9 67.8,360.9 68.0,360.8 68.2,360.8 68.5,360.7 68.8,360.7 69.0,360.6 69.2,360.5 69.5,360.5 69.8,360.4 70.0,360.3 70.2,360.2 70.5,360.1 70.8,360.0 71.0,359.9 71.2,359.8 71.5,359.7 71.8,359.6 72.0,359.5 72.2,359.4 72.5,359.3 72.8,359.3 73.0,359.2 73.2,359.2 73.5,359.1 74.5,359.1 74.8,359.2 75.0,359.2 75.2,359.3 75.5,359.3 75.8,359.4 76.0,359.5 76.2,359.2 76.5,358.3 76.8,357.8 77.0,358.7 77.2,359.5 77.5,360.1 77.8,360.2 78.0,360.3 78.2,360.4 78.5,360.5 78.8,360.5 79.0,360.6 79.2,360.7 79.5,360.7 79.8,360.8 80.0,360.8 80.2,360.9 80.8,360.9 81.0,361.0 81.2,361.0 81.5,361.1 84.0,361.1 84.2,360.9 84.5,361.0 84.8,361.1 85.8,361.1 86.0,360.9 86.2,360.8 86.5,360.9 86.8,361.1 104.8,361.1 105.0,361.0 105.2,361.1 105.8,361.1 106.0,360.9 106.2,360.9 106.5,361.0 106.8,361.1 118.2,361.1 118.5,361.0 118.8,360.9 119.0,361.1 128.0,361.1 128.2,361.0 128.5,360.9 128.8,361.0 129.0,361.1 156.2,361.1 156.5,361.0 156.8,360.9 157.0,361.1 157.2,361.1 157.5,359.6 158.2,359.6 158.5,359.7 159.0,359.7 159.2,359.5 159.8,359.5 160.0,359.7 160.5,359.7 160.8,359.6 161.2,359.6 161.5,359.5 162.0,359.5 162.2,359.6 163.5,359.6 163.8,356.2 164.0,350.6 164.2,356.2 164.5,361.1 181.0,361.1 181.2,360.9 181.5,361.0 181.8,361.1 184.0,361.1 184.2,361.0 184.5,360.9 184.8,361.0 185.0,361.1 195.5,361.1 195.8,361.0 196.0,361.0 196.2,361.1 218.2,361.1 218.5,360.9 218.8,360.9 219.0,361.1 239.2,361.1 239.5,361.0 239.8,361.1 253.2,361.1 253.5,361.0 253.8,361.0 254.0,361.1 256.0,361.1 256.2,360.0 256.5,354.5 256.8,351.2 257.0,356.7 257.2,359.8 257.5,359.7 258.0,359.7 258.2,359.6 258.8,359.6 259.0,360.2 259.5,360.2 259.8,359.8 260.2,359.8 260.5,359.5 261.0,359.5 261.2,359.9 261.8,359.9 262.0,359.5 263.2,359.5 263.5,360.0 264.0,360.0 264.2,360.1 265.5,360.1 265.8,360.0 266.2,360.0 266.5,359.6 267.0,359.6 267.2,360.1 267.8,360.1 268.0,360.2 268.5,360.2 268.8,359.6 269.2,359.6 269.5,360.0 270.8,360.0 271.0,359.7 271.2,356.1 271.5,355.1 271.8,360.1 272.0,360.9 272.2,360.9 272.5,361.0 272.5,361.1" fill="#1e9a48" stroke="none"/>
<polygon points="65.5,373.4 65.5,373.4 66.5,373.4 66.8,373.3 67.2,373.3 67.5,373.2 67.8,373.2 68.0,373.1 68.2,373.1 68.5,373.0 68.8,373.0 69.0,372.9 69.2,372.8 69.5,372.8 69.8,372.7 70.0,372.6 70.2,372.5 70.5,372.4 70.8,372.3 71.0,372.2 71.2,372.1 71.5,372.0 71.8,371.9 72.0,371.8 72.2,371.7 72.5,371.6 72.8,371.6 73.0,371.5 73.2,371.5 73.5,371.4 74.5,371.4 74.8,371.5 75.0,371.5 75.2,371.6 75.5,371.3 75.8,368.6 76.0,365.9 76.2,366.4 76.5,369.1 76.8,371.8 77.0,372.2 77.2,372.3 77.5,372.4 77.8,372.5 78.0,372.6 78.2,372.7 78.5,372.8 78.8,372.8 79.0,372.9 79.2,373.0 79.5,373.0 79.8,373.1 80.0,373.1 80.2,373.2 80.5,373.2 80.8,373.3 81.2,373.3 81.5,373.4 90.2,373.4 90.5,372.6 91.5,372.6 91.8,372.5 92.2,372.5 92.5,372.6 93.0,372.6 93.2,372.5 93.8,372.5 94.0,372.6 94.5,372.6 94.8,372.8 95.2,372.8 95.5,372.7 99.0,372.7 99.2,372.8 99.8,372.8 100.0,372.6 101.2,372.6 101.5,372.5 102.0,372.5 102.2,372.7 103.5,372.7 103.8,372.6 104.2,372.6 104.5,372.7 105.8,372.7 106.0,372.5 107.2,372.5 107.5,372.6 108.0,372.6 108.2,372.7 108.8,372.7 109.0,372.8 109.5,372.8 109.8,372.6 110.2,372.6 110.5,372.8 111.0,372.8 111.2,372.4 111.8,372.4 112.0,372.5 114.0,372.5 114.2,372.7 114.5,372.7 114.8,373.4 119.5,373.4 119.8,373.2 120.0,373.2 120.2,373.3 120.5,373.4 122.0,373.4 122.2,373.3 122.5,373.4 122.8,373.4 123.0,373.2 123.2,373.2 123.5,373.4 125.5,373.4 125.8,373.2 126.0,373.3 126.2,373.4 132.0,373.4 132.2,373.3 132.5,373.4 145.5,373.4 145.8,373.3 146.0,373.3 146.2,373.4 155.2,373.4 155.5,373.2 155.8,373.2 156.0,373.3 156.2,373.4 163.8,373.4 164.0,373.2 164.2,373.2 164.5,373.3 164.8,373.3 165.0,373.2 165.2,373.2 165.5,373.4 215.5,373.4 215.8,373.2 216.0,373.2 216.2,373.3 216.5,373.4 220.0,373.4 220.2,373.3 220.5,373.2 220.8,373.3 221.0,373.4 255.5,373.4 255.8,373.3 256.0,373.2 256.2,373.2 256.5,367.9 256.8,363.8 257.0,370.7 257.2,372.4 257.5,372.3 258.0,372.3 258.2,372.2 258.8,372.2 259.0,372.8 259.5,372.8 259.8,372.4 260.2,372.4 260.5,372.1 261.0,372.1 261.2,372.5 261.8,372.5 262.0,372.1 263.2,372.1 263.5,372.6 264.0,372.6 264.2,372.7 264.8,372.7 265.0,372.8 265.5,372.8 265.8,372.3 266.0,369.4 266.2,372.3 266.5,372.2 267.0,372.2 267.2,372.7 267.8,372.7 268.0,372.8 268.5,372.8 268.8,372.2 269.2,372.2 269.5,372.6 270.0,372.6 270.2,372.7 270.8,372.7 271.0,372.3 271.2,367.8 271.5,366.7 271.8,372.3 272.0,373.4 272.5,373.4 272.5,373.4" fill="#1e9a48" stroke="none"/>
<polygon points="65.5,385.7 65.5,385.7 65.8,385.7 66.0,385.6 66.2,385.6 66.5,385.7 69.2,385.7 69.5,385.6 69.8,385.6 70.0,385.5 70.2,385.5 70.5,385.4 70.8,385.4 71.0,385.3 71.2,385.3 71.5,385.2 71.8,385.1 72.0,385.0 72.2,385.0 72.5,384.9 72.8,384.8 73.0,384.7 73.2,384.6 73.5,384.6 73.8,384.5 74.0,384.4 74.2,384.4 74.5,384.3 75.5,384.3 75.8,384.0 76.0,383.2 76.2,384.0 76.5,384.6 76.8,384.6 77.0,384.7 77.2,384.8 77.5,384.9 77.8,385.0 78.0,385.0 78.2,385.1 78.5,385.2 78.8,385.3 79.0,385.3 79.2,385.4 79.5,385.4 79.8,385.5 80.0,385.5 80.2,385.6 80.5,385.6 80.8,385.7 93.5,385.7 93.8,385.6 94.0,385.6 94.2,385.7 95.5,385.7 95.8,385.6 96.0,385.6 96.2,385.7 107.2,385.7 107.5,385.6 107.8,385.7 118.5,385.7 118.8,385.6 119.0,385.7 141.2,385.7 141.5,385.6 141.8,385.7 150.8,385.7 151.0,385.6 151.2,385.6 151.5,385.7 168.0,385.7 168.2,385.6 168.5,385.6 168.8,385.7 207.0,385.7 207.2,385.6 207.5,385.7 214.0,385.7 214.2,385.6 214.5,385.6 214.8,385.7 232.2,385.7 232.5,385.6 232.8,385.7 235.0,385.7 235.2,385.6 235.5,385.7 256.2,385.7 256.5,380.2 256.8,376.1 257.0,383.0 257.2,384.9 258.0,384.9 258.2,384.8 258.8,384.8 259.0,385.2 259.5,385.2 259.8,384.9 260.2,384.9 260.5,384.7 261.0,384.7 261.2,385.0 261.8,385.0 262.0,384.7 263.2,384.7 263.5,385.0 264.0,385.0 264.2,385.2 265.5,385.2 265.8,384.9 266.0,382.7 266.2,384.9 266.5,384.8 267.0,384.8 267.2,385.2 268.5,385.2 268.8,384.7 269.2,384.7 269.5,385.1 270.8,385.1 271.0,384.8 271.2,382.0 271.5,381.2 271.8,385.0 272.0,385.7 272.5,385.7 272.5,385.7" fill="#1e9a48" stroke="none"/>
<polygon points="65.5,398.0 65.5,398.0 256.2,398.0 256.5,392.5 256.8,388.4 257.0,395.3 257.2,398.0 267.5,398.0 267.8,397.2 268.0,395.0 268.2,397.2 268.5,398.0 271.0,398.0 271.2,395.5 271.5,395.0 271.8,397.5 272.0,398.0 272.5,398.0 272.5,398.0" fill="#1e9a48" stroke="none"/>
<polygon points="65.5,410.3 65.5,410.3 272.5,410.3 272.5,410.3" fill="#1e9a48" stroke="none"/>
<polygon points="65.5,422.7 65.5,422.7 272.5,422.7 272.5,422.7" fill="#1e9a48" stroke="none"/>
<polygon points="66.3,435.0 66.3,434.1 66.8,434.1 67.0,434.0 67.5,434.0 67.8,433.6 68.3,433.6 68.5,434.2 69.0,434.2 69.3,434.4 69.8,434.4 70.0,433.6 70.5,433.6 70.8,434.5 71.3,434.5 71.5,434.0 72.0,434.0 72.3,434.3 72.8,434.3 73.0,433.8 73.5,433.8 73.8,434.1 74.3,434.1 74.5,434.3 75.0,434.3 75.3,433.6 75.8,433.6 76.0,434.2 76.3,434.1 76.5,433.9 76.8,433.5 77.0,433.1 77.3,432.7 77.5,432.3 77.8,431.9 78.0,431.5 78.3,431.2 78.5,431.0 79.0,431.0 79.3,431.2 79.5,431.5 79.8,431.9 80.0,432.3 80.3,432.7 80.5,433.1 80.8,433.5 81.0,433.9 81.3,434.1 81.5,434.2 81.8,434.2 82.0,433.8 82.5,433.8 82.8,433.9 83.3,433.9 83.5,434.6 84.0,434.6 84.3,434.3 84.8,434.3 85.0,434.4 85.5,434.4 85.8,434.3 86.3,434.3 86.5,433.9 87.0,433.9 87.3,434.1 87.8,434.1 88.0,433.8 88.5,433.8 88.8,433.7 89.3,433.7 89.5,433.6 90.0,433.6 90.3,433.7 90.8,433.7 91.0,434.5 91.5,434.5 91.8,434.1 92.3,434.1 92.5,433.6 94.5,433.6 94.8,433.7 95.3,433.7 95.5,434.3 96.0,434.3 96.3,433.8 96.8,433.8 97.0,434.0 97.5,434.0 97.8,434.2 99.0,434.2 99.3,433.6 99.8,433.6 100.0,434.0 101.3,434.0 101.5,434.5 102.0,434.5 102.3,433.7 102.8,433.7 103.0,433.5 103.3,433.1 103.5,432.8 103.8,432.4 104.0,432.2 104.3,432.0 104.5,432.0 104.8,432.1 105.0,432.3 105.3,432.6 105.5,432.5 105.8,432.0 106.0,431.5 106.3,431.1 106.5,430.7 106.8,430.5 107.0,430.5 107.3,430.6 107.5,430.8 107.8,431.2 108.0,431.7 108.3,432.2 108.5,432.7 108.8,433.2 109.0,433.7 109.3,433.3 109.5,432.8 109.8,432.3 110.0,431.9 110.3,431.5 110.5,431.2 110.8,431.0 111.0,431.0 111.3,431.1 111.5,431.3 111.8,431.7 112.0,432.1 112.3,432.5 112.5,433.0 112.8,432.5 113.0,432.0 113.3,431.6 113.5,431.2 113.8,431.0 114.0,431.0 114.3,431.1 114.5,431.4 114.8,431.8 115.0,432.2 115.3,432.7 115.5,433.2 115.8,433.6 116.3,433.6 116.5,434.5 117.0,434.5 117.3,433.6 118.5,433.6 118.8,434.1 119.3,434.1 119.5,434.0 119.8,433.9 120.0,433.7 120.3,433.6 120.5,433.5 121.3,433.5 121.5,433.6 121.8,433.7 122.0,433.8 122.3,433.9 122.5,434.1 122.8,434.2 123.0,434.2 123.3,433.9 123.8,433.9 124.0,434.4 124.5,434.4 124.8,433.7 126.0,433.7 126.3,434.1 127.5,434.1 127.8,434.2 128.3,434.2 128.6,433.9 129.1,433.9 129.3,433.7 129.8,433.7 130.1,434.1 130.3,434.0 130.6,433.8 130.8,433.7 131.1,433.6 131.3,433.5 132.1,433.5 132.3,433.6 132.6,433.7 132.8,433.8 133.1,434.0 133.3,434.1 133.6,434.1 133.8,433.7 135.1,433.7 135.3,434.3 136.6,434.3 136.8,433.6 137.3,433.6 137.6,433.7 138.1,433.7 138.3,434.1 138.8,434.1 139.1,434.0 139.6,434.0 139.8,434.1 140.3,434.1 140.6,434.4 141.1,434.4 141.3,433.9 141.8,433.9 142.1,434.3 142.3,434.2 142.6,434.0 142.8,433.9 143.1,433.7 143.3,433.6 143.6,433.5 144.3,433.5 144.6,433.6 144.8,433.7 145.1,433.8 145.6,433.8 145.8,434.2 146.1,434.4 146.3,434.5 146.6,433.6 147.1,433.6 147.3,434.3 147.8,434.3 148.1,433.9 148.6,433.9 148.8,434.4 149.3,434.4 149.6,434.0 150.1,434.0 150.3,434.1 150.8,434.1 151.1,433.6 151.6,433.6 151.8,434.5 152.3,434.5 152.6,433.7 154.1,433.7 154.3,433.5 154.6,433.4 155.3,433.4 155.6,433.5 155.8,433.6 156.1,433.7 156.3,433.9 156.6,434.0 156.8,434.1 157.1,434.3 157.6,434.3 157.8,434.5 158.1,432.0 158.3,432.0 158.6,432.3 159.1,432.3 159.3,432.0 159.8,432.0 160.1,429.5 160.6,429.5 160.8,428.1 161.3,428.1 161.6,428.4 161.8,428.4 162.1,424.5 162.3,424.7 162.8,424.7 163.1,424.6 163.6,424.6 163.8,424.7 165.1,424.7 165.3,424.5 166.6,424.5 166.8,424.6 167.3,424.6 167.6,435.0 167.6,435.0" fill="#5c2388" stroke="none"/>
<polygon points="66.3,447.3 66.3,446.8 67.5,446.8 67.8,446.5 68.3,446.5 68.5,446.9 69.0,446.9 69.3,447.0 69.8,447.0 70.0,446.5 70.5,446.5 70.8,447.0 71.3,447.0 71.5,446.7 72.0,446.7 72.3,446.9 72.8,446.9 73.0,446.6 73.5,446.6 73.8,446.8 74.3,446.8 74.5,446.9 75.0,446.9 75.3,446.5 75.8,446.5 76.0,446.8 76.5,446.8 76.8,446.7 77.0,446.5 77.3,446.2 77.5,445.8 77.8,445.5 78.0,445.1 78.3,444.7 78.5,444.5 78.8,444.3 79.0,444.3 79.3,444.4 79.5,444.6 79.8,444.9 80.0,445.2 80.3,445.6 80.5,446.0 80.8,446.3 81.0,446.6 81.3,446.8 81.5,446.9 81.8,446.9 82.0,446.6 82.5,446.6 82.8,446.7 83.3,446.7 83.5,447.0 84.0,447.0 84.3,446.9 84.8,446.9 85.0,447.0 85.5,447.0 85.8,446.9 86.3,446.9 86.5,446.7 87.0,446.7 87.3,446.8 87.8,446.8 88.0,446.6 88.5,446.6 88.8,446.5 90.0,446.5 90.3,446.6 90.8,446.6 91.0,447.0 91.5,447.0 91.8,446.8 92.3,446.8 92.5,446.5 95.3,446.5 95.5,446.9 96.0,446.9 96.3,446.6 96.8,446.6 97.0,446.7 97.5,446.7 97.8,446.9 98.3,446.9 98.5,446.8 99.0,446.8 99.3,446.5 99.8,446.5 100.0,446.7 101.3,446.7 101.5,446.9 101.8,446.7 102.0,446.5 102.3,446.2 102.5,445.8 102.8,445.5 103.0,445.1 103.3,444.7 103.5,444.5 103.8,444.3 104.0,444.3 104.3,444.4 104.5,444.6 104.8,444.9 105.0,445.2 105.3,445.4 105.5,444.9 105.8,444.2 106.0,443.6 106.3,443.1 106.5,442.6 106.8,442.3 107.0,442.3 107.3,442.4 107.5,442.8 107.8,443.3 108.0,443.9 108.3,444.5 108.5,445.1 108.8,444.5 109.0,443.8 109.3,443.2 109.5,442.7 109.8,442.4 110.0,442.3 110.3,442.5 110.5,442.9 110.8,443.4 111.0,444.1 111.3,444.8 111.5,444.5 111.8,443.4 112.0,442.2 112.3,441.0 112.5,440.0 112.8,439.4 113.0,439.3 113.3,439.6 113.5,440.4 113.8,441.5 114.0,442.7 114.3,443.8 114.5,444.7 114.8,444.1 115.0,443.7 115.3,443.3 115.5,443.3 115.8,443.4 116.0,443.8 116.3,444.4 116.5,445.0 116.8,445.6 117.0,446.1 117.3,446.5 118.5,446.5 118.8,446.8 120.0,446.8 120.3,446.6 120.8,446.6 121.0,446.5 121.5,446.5 121.8,446.7 122.3,446.7 122.5,446.8 123.0,446.8 123.3,446.6 123.8,446.6 124.0,447.0 124.5,447.0 124.8,446.6 126.0,446.6 126.3,446.8 128.3,446.8 128.6,446.7 129.1,446.7 129.3,446.6 129.8,446.6 130.1,447.0 130.6,447.0 130.8,446.7 131.3,446.7 131.6,446.8 132.1,446.8 132.3,447.0 132.8,447.0 133.1,446.8 133.6,446.8 133.8,446.5 135.1,446.5 135.3,446.9 136.6,446.9 136.8,446.5 137.3,446.5 137.6,446.6 138.1,446.6 138.3,446.8 138.8,446.8 139.1,446.7 139.6,446.7 139.8,446.8 140.3,446.8 140.6,447.0 141.1,447.0 141.3,446.7 141.8,446.7 142.1,447.0 142.6,447.0 142.8,446.7 143.3,446.7 143.6,447.0 144.1,447.0 144.3,446.9 144.8,446.9 145.1,447.3 158.8,447.3 159.1,447.2 159.3,447.1 159.6,447.1 159.8,447.0 160.1,446.9 160.3,446.8 160.6,446.7 160.8,446.6 161.1,446.4 161.3,446.3 161.6,446.1 161.8,445.9 162.1,445.8 162.3,445.6 162.6,445.5 162.8,445.4 163.1,445.3 163.8,445.3 164.1,445.4 164.3,445.5 164.6,445.6 164.8,445.8 165.1,446.0 165.3,446.1 165.6,446.3 165.8,446.4 166.1,446.6 166.3,446.7 166.6,446.8 166.8,446.9 167.1,447.0 167.3,447.1 167.6,447.1 167.8,447.2 167.8,447.3" fill="#5c2388" stroke="none"/>
<polygon points="66.3,459.6 66.3,459.1 67.5,459.1 67.8,458.8 68.3,458.8 68.5,459.2 69.0,459.2 69.3,459.3 69.8,459.3 70.0,458.8 70.5,458.8 70.8,459.3 71.3,459.3 71.5,459.0 72.0,459.0 72.3,459.2 72.8,459.2 73.0,458.9 73.5,458.9 73.8,459.1 74.3,459.1 74.5,459.2 75.0,459.2 75.3,458.8 75.8,458.8 76.0,459.1 76.5,459.1 76.8,459.0 77.0,459.0 77.3,458.9 77.5,458.5 77.8,458.1 78.0,457.7 78.3,457.2 78.5,456.9 78.8,456.6 79.0,456.6 79.3,456.7 79.5,457.0 79.8,457.4 80.0,457.9 80.3,458.3 80.5,458.7 80.8,459.0 81.0,459.0 81.3,459.2 81.8,459.2 82.0,458.9 82.5,458.9 82.8,459.0 83.3,459.0 83.5,459.3 84.0,459.3 84.3,459.2 84.8,459.2 85.0,459.3 85.5,459.3 85.8,459.2 86.3,459.2 86.5,459.0 87.0,459.0 87.3,459.1 87.8,459.1 88.0,458.9 88.5,458.9 88.8,458.8 90.0,458.8 90.3,458.9 90.8,458.9 91.0,459.3 91.5,459.3 91.8,459.1 92.3,459.1 92.5,458.8 94.5,458.8 94.8,458.9 95.3,458.9 95.5,459.2 96.0,459.2 96.3,459.0 97.5,459.0 97.8,459.2 99.0,459.2 99.3,458.8 99.8,458.8 100.0,459.1 100.5,459.1 100.8,459.0 101.3,459.0 101.5,458.9 101.8,458.7 102.0,458.5 102.3,458.3 102.5,458.0 102.8,457.8 103.0,457.5 103.3,457.3 103.5,457.2 103.8,457.1 104.3,457.1 104.5,457.2 104.8,457.4 105.0,457.6 105.3,457.9 105.5,458.1 105.8,457.9 106.0,457.4 106.3,457.0 106.5,456.5 106.8,456.1 107.0,455.8 107.3,455.6 107.5,455.6 107.8,455.7 108.0,455.9 108.3,456.3 108.5,456.7 108.8,457.0 109.0,456.2 109.3,455.3 109.5,454.5 109.8,453.7 110.0,453.1 110.3,452.7 110.5,452.6 110.8,452.8 111.0,453.3 111.3,454.0 111.5,454.8 111.8,455.0 112.0,454.2 112.3,453.6 112.5,453.2 112.8,453.1 113.0,453.2 113.3,453.6 113.5,454.2 113.8,455.0 114.0,455.8 114.3,456.6 114.5,457.3 114.8,457.0 115.0,456.7 115.3,456.4 115.5,456.2 115.8,456.1 116.3,456.1 116.5,456.3 116.8,456.5 117.0,456.8 117.3,457.2 117.5,457.5 117.8,457.9 118.0,458.2 118.3,458.5 118.5,458.8 119.3,458.8 119.5,458.7 120.0,458.7 120.3,458.6 120.8,458.6 121.0,458.8 122.3,458.8 122.5,459.0 123.0,459.0 123.3,458.2 123.8,458.2 124.0,458.6 124.5,458.6 124.8,458.4 125.3,458.4 125.5,458.3 126.0,458.3 126.3,458.4 126.8,458.4 127.0,458.5 127.5,458.5 127.8,458.7 128.3,458.7 128.6,458.4 129.1,458.4 129.3,458.2 129.8,458.2 130.1,458.4 130.6,458.4 130.8,458.7 131.3,458.7 131.6,458.9 132.1,458.9 132.3,458.2 132.8,458.2 133.1,458.4 133.8,458.4 134.1,459.6 139.8,459.6 139.8,459.6" fill="#5c2388" stroke="none"/>
<polygon points="66.3,496.5 66.3,496.5 137.6,496.5 137.8,496.3 138.1,496.3 138.3,496.1 138.6,496.0 138.8,495.8 139.1,495.7 139.3,495.6 139.6,495.5 139.8,495.5 140.1,495.6 140.3,495.7 140.6,495.8 140.8,496.0 141.1,496.1 141.3,496.2 141.6,496.3 141.8,496.4 142.1,496.5 159.6,496.5 159.8,496.4 160.1,496.3 160.3,496.1 160.6,496.0 160.8,495.8 161.1,495.5 161.3,495.3 161.6,495.0 161.8,494.8 162.1,494.6 162.3,494.5 162.6,494.5 162.8,494.6 163.1,494.7 163.3,494.7 163.6,494.5 163.8,494.3 164.1,494.2 164.3,494.1 164.6,494.1 164.8,494.2 165.1,494.4 165.3,494.6 165.6,494.8 165.8,494.7 166.1,494.6 166.3,494.5 166.6,494.6 166.8,494.7 167.1,494.9 167.3,495.1 167.6,495.3 167.8,495.6 168.1,495.8 168.3,496.0 168.6,496.2 168.8,496.3 169.1,496.4 169.3,496.5 272.6,496.5 272.6,496.5" fill="#5c2388" stroke="none"/>
<path d="M166.00,424.25 L169.20,424.25 L167.60,428.45 Z" fill="#222"/>
<line x1="167.60" y1="427.25" x2="167.60" y2="435.26" stroke="#444" stroke-width="0.6" />
<path d="M143.80,436.56 L147.00,436.56 L145.40,440.76 Z" fill="#222"/>
<line x1="145.40" y1="439.56" x2="145.40" y2="447.57" stroke="#444" stroke-width="0.6" />
<path d="M133.20,448.87 L136.40,448.87 L134.80,453.07 Z" fill="#222"/>
<line x1="134.80" y1="451.87" x2="134.80" y2="459.88" stroke="#444" stroke-width="0.6" />
<text x="89.20" y="429.40" font-size="6.6" text-anchor="start" fill="#d8485a" stroke="#d8485a" stroke-width="0.12" style=""  textLength="57.8" lengthAdjust="spacingAndGlyphs">ectopic interactions</text>
<line x1="281.00" y1="237.80" x2="491.00" y2="237.80" stroke="#f6c6be" stroke-width="0.675" />
<polygon points="281.0,238.0 281.0,238.0 285.5,238.0 285.8,237.9 286.0,237.8 286.2,238.0 288.0,238.0 288.2,237.9 288.5,237.2 288.8,236.6 289.0,236.0 289.2,236.6 289.5,237.2 289.8,237.9 290.0,238.0 294.2,238.0 294.5,237.7 294.8,237.5 295.0,237.7 295.2,237.7 295.5,237.5 295.8,237.6 296.0,237.9 296.2,238.0 306.5,238.0 306.8,237.8 307.0,237.5 307.2,237.2 307.5,237.6 307.8,238.0 313.0,238.0 313.2,237.7 313.5,237.5 313.8,237.7 314.0,237.9 314.2,238.0 315.0,238.0 315.2,237.9 315.5,237.7 315.8,237.7 316.0,237.9 316.2,238.0 325.8,238.0 326.0,237.8 326.2,237.6 326.5,237.6 326.8,237.8 327.0,238.0 327.2,238.0 327.5,237.8 327.8,237.8 328.0,238.0 333.2,238.0 333.5,237.8 333.8,237.4 334.0,237.2 334.2,237.5 334.5,238.0 347.2,238.0 347.5,237.8 347.8,237.1 348.0,236.5 348.2,237.1 348.5,237.8 348.8,238.0 349.0,238.0 349.2,237.9 349.5,237.2 349.8,236.6 350.0,236.0 350.2,236.6 350.5,237.2 350.8,237.9 351.0,238.0 352.8,238.0 353.0,237.9 353.2,238.0 353.5,237.9 353.8,237.7 354.0,237.4 354.2,237.4 354.5,236.9 354.8,236.2 355.0,235.5 355.2,236.2 355.5,236.9 355.8,237.6 356.0,238.0 357.8,238.0 358.0,237.2 358.2,237.4 358.8,237.4 359.0,237.1 360.2,237.1 360.5,237.3 361.8,237.3 362.0,237.0 362.5,237.0 362.8,237.1 363.2,237.1 363.5,237.0 364.8,237.0 365.0,237.3 365.5,237.3 365.8,237.0 366.2,237.0 366.5,237.1 366.8,237.5 367.0,237.5 367.2,237.1 367.8,237.1 368.0,237.0 368.5,237.0 368.8,237.4 369.2,237.4 369.5,237.1 370.0,237.1 370.2,237.9 370.5,237.8 370.8,237.9 371.0,238.0 375.8,238.0 376.0,237.9 376.2,237.9 376.5,238.0 385.0,238.0 385.2,237.9 385.5,238.0 389.8,238.0 390.0,237.0 390.2,237.0 390.5,237.2 391.0,237.2 391.2,237.3 391.5,235.6 391.8,233.6 392.0,231.7 392.2,229.7 392.5,227.7 392.8,229.7 393.0,231.7 393.2,233.6 393.5,235.6 393.8,236.7 394.0,236.7 394.2,236.9 394.8,236.9 395.0,236.7 395.5,236.7 395.8,237.1 397.0,237.1 397.2,236.1 397.5,234.2 397.8,232.3 398.0,230.5 398.2,228.6 398.5,229.7 398.8,231.6 399.0,233.5 399.2,235.4 399.5,237.0 400.0,237.0 400.2,237.1 401.5,237.1 401.8,236.5 402.0,235.8 402.2,236.5 402.5,236.8 403.0,236.8 403.2,237.0 403.8,237.0 404.0,237.1 404.5,237.1 404.8,237.3 405.2,237.3 405.5,237.2 406.0,237.2 406.2,237.3 406.8,237.3 407.0,236.9 407.5,236.9 407.8,236.8 408.2,236.8 408.5,237.1 408.8,236.5 409.0,235.7 409.2,235.2 409.5,236.0 409.8,236.8 410.0,237.3 410.5,237.3 410.8,236.7 411.2,236.7 411.5,237.0 412.0,237.0 412.2,236.8 412.8,236.8 413.0,237.2 413.5,237.2 413.8,237.1 414.2,237.1 414.5,237.3 415.0,237.3 415.2,236.9 415.8,236.9 416.0,237.0 416.2,236.7 416.5,236.5 416.8,236.2 417.0,236.0 417.2,235.8 417.5,235.6 417.8,235.5 418.2,235.5 418.5,235.6 418.8,235.6 419.0,235.0 419.2,234.4 419.5,233.7 419.8,233.1 420.0,232.6 420.2,232.2 420.5,231.9 420.8,231.8 421.0,231.9 421.2,232.1 421.5,232.4 421.8,232.9 422.0,233.5 422.2,234.1 422.5,234.7 422.8,234.7 423.0,234.3 423.2,234.1 423.5,234.0 423.8,234.1 424.0,234.3 424.2,234.7 424.5,235.2 424.8,234.7 425.0,233.9 425.2,233.2 425.5,232.4 425.8,231.8 426.0,231.2 426.2,230.9 426.5,230.8 426.8,230.9 427.0,231.2 427.2,231.8 427.5,232.4 427.8,233.2 428.0,233.9 428.2,234.7 428.5,235.4 428.8,236.0 429.0,235.8 429.2,235.2 429.5,234.5 429.8,233.9 430.0,233.3 430.2,232.9 430.5,232.7 430.8,232.7 431.0,233.0 431.2,233.4 431.5,234.0 431.8,234.7 432.0,235.3 432.2,235.9 432.5,235.9 432.8,235.6 433.0,235.4 433.2,235.2 433.5,235.2 433.8,235.3 434.0,235.5 434.2,235.8 434.5,236.2 434.8,236.5 435.0,236.6 435.2,236.4 435.5,236.3 435.8,236.2 436.2,236.2 436.5,236.3 436.8,236.4 437.0,236.6 437.2,236.7 437.5,236.9 438.2,236.9 438.5,237.1 439.0,237.1 439.2,236.9 439.8,236.9 440.0,237.2 440.2,238.0 443.2,238.0 443.5,237.9 443.8,238.0 450.2,238.0 450.5,237.9 450.8,237.9 451.0,238.0 456.5,238.0 456.8,237.7 457.0,237.5 457.2,237.7 457.5,237.9 457.8,238.0 464.2,238.0 464.5,237.9 464.8,237.8 465.0,237.9 465.2,238.0 465.8,238.0 466.0,237.8 466.2,237.8 466.5,237.9 466.8,238.0 469.0,238.0 469.2,237.8 469.5,237.5 469.8,237.2 470.0,237.3 470.2,237.7 470.5,238.0 474.2,238.0 474.5,237.7 474.8,237.4 475.0,237.5 475.2,237.7 475.5,238.0 482.5,238.0 482.8,237.8 483.0,237.8 483.2,237.9 483.5,237.2 483.8,236.6 484.0,236.0 484.2,236.6 484.5,237.2 484.8,237.7 485.0,238.0 485.2,237.8 485.5,237.1 485.8,236.3 486.0,235.5 486.2,236.3 486.5,237.1 486.8,237.8 487.0,238.0 490.0,238.0 490.2,237.8 490.5,237.6 490.8,237.8 491.0,238.0 491.0,238.0" fill="#e0321c" stroke="none"/>
<line x1="281.00" y1="250.11" x2="491.00" y2="250.11" stroke="#f6c6be" stroke-width="0.675" />
<polygon points="281.0,250.3 281.0,250.3 284.5,250.3 284.8,250.2 285.0,250.2 285.2,250.3 285.5,250.0 285.8,249.5 286.0,249.2 286.2,249.7 286.5,250.2 286.8,250.3 287.0,250.3 287.2,250.2 287.5,249.8 287.8,249.4 288.0,249.3 288.2,249.7 288.5,250.1 288.8,250.3 289.0,250.3 289.2,250.2 289.5,249.8 289.8,249.3 290.0,249.6 290.2,250.1 290.5,250.3 291.0,250.3 291.2,250.1 291.5,250.2 291.8,250.3 298.8,250.3 299.0,250.1 299.2,249.6 299.5,249.1 299.8,249.6 300.0,250.1 300.2,250.3 310.2,250.3 310.5,250.0 310.8,249.8 311.0,249.8 311.2,250.1 311.5,250.3 316.5,250.3 316.8,250.1 317.0,249.9 317.2,250.1 317.5,250.3 323.2,250.3 323.5,250.2 323.8,250.2 324.0,250.3 332.0,250.3 332.2,250.2 332.5,250.1 332.8,250.0 333.0,249.9 333.2,249.8 333.5,249.6 333.8,249.4 334.0,249.2 334.2,249.0 334.5,248.8 334.8,248.7 335.2,248.7 335.5,248.8 335.8,249.0 336.0,249.1 336.2,249.0 336.5,248.9 336.8,249.0 337.0,249.1 337.2,249.3 337.5,249.5 337.8,249.7 338.0,249.9 338.2,250.0 338.5,250.1 338.8,250.2 339.0,250.3 343.0,250.3 343.2,250.1 343.5,250.1 343.8,250.2 344.0,250.3 346.0,250.3 346.2,250.1 346.5,249.9 346.8,249.9 347.0,250.1 347.2,250.3 352.8,250.3 353.0,250.0 353.2,249.8 353.5,250.0 353.8,250.3 359.0,250.3 359.2,250.2 359.5,250.1 359.8,250.2 360.0,250.3 360.8,250.3 361.0,250.1 361.2,249.9 361.5,250.0 361.8,250.2 362.0,250.3 365.0,250.3 365.2,249.9 365.5,249.5 365.8,249.6 366.0,250.0 366.2,250.3 366.5,250.3 366.8,250.1 367.0,249.9 367.2,249.6 367.5,249.9 367.8,250.2 368.0,250.3 379.8,250.3 380.0,250.1 380.2,249.9 380.5,250.0 380.8,250.2 381.0,250.3 387.0,250.3 387.2,250.2 387.5,250.2 387.8,250.3 389.0,250.3 389.2,250.2 389.5,250.1 389.8,250.1 390.0,249.9 390.2,249.8 390.5,249.6 390.8,249.4 391.0,249.3 391.2,249.1 391.5,248.9 391.8,248.8 392.2,248.8 392.5,248.9 392.8,249.1 393.0,249.3 393.2,249.4 393.5,249.6 393.8,249.8 394.0,249.9 394.2,250.1 394.5,250.1 394.8,250.2 395.0,250.3 406.5,250.3 406.8,250.1 407.0,249.7 407.2,249.4 407.5,249.8 407.8,250.2 408.0,250.3 408.2,250.2 408.5,249.7 408.8,249.3 409.0,249.7 409.2,250.1 409.5,250.3 422.0,250.3 422.2,250.2 422.5,250.2 422.8,250.3 424.2,250.3 424.5,250.0 424.8,249.6 425.0,249.5 425.2,249.9 425.5,250.3 427.2,250.3 427.5,250.1 427.8,250.1 428.0,250.2 428.5,250.2 428.8,250.1 429.0,250.0 429.2,249.8 429.5,249.7 429.8,249.5 430.0,249.3 430.2,249.2 430.5,249.0 430.8,248.9 431.2,248.9 431.5,249.0 431.8,249.2 432.0,249.3 432.2,249.5 432.5,249.7 432.8,249.8 433.0,250.0 433.2,250.1 433.5,250.2 433.8,250.2 434.0,250.3 445.0,250.3 445.2,250.1 445.5,249.8 445.8,249.7 446.0,250.0 446.2,250.3 458.5,250.3 458.8,250.2 459.0,250.3 459.2,250.2 459.5,250.1 459.8,250.2 460.0,250.3 465.5,250.3 465.8,250.2 466.0,250.1 466.2,250.1 466.5,250.3 474.2,250.3 474.5,250.2 474.8,250.2 475.0,249.9 475.2,249.6 475.5,249.9 475.8,250.2 476.0,250.3 477.2,250.3 477.5,250.2 477.8,250.0 478.0,249.8 478.2,250.0 478.5,250.3 480.5,250.3 480.8,250.2 481.0,250.2 481.2,250.1 481.5,250.0 481.8,250.1 482.0,250.3 482.5,250.3 482.8,250.1 483.0,250.1 483.2,250.3 488.5,250.3 488.8,250.2 489.0,250.0 489.2,249.9 489.5,250.1 489.8,250.3 491.0,250.3 491.0,250.3" fill="#e0321c" stroke="none"/>
<line x1="281.00" y1="262.42" x2="491.00" y2="262.42" stroke="#f6c6be" stroke-width="0.675" />
<polygon points="281.0,262.6 281.0,262.6 284.2,262.6 284.5,262.5 284.8,262.4 285.0,262.3 285.2,262.1 285.5,261.8 285.8,261.5 286.0,261.1 286.2,260.7 286.5,260.4 286.8,260.2 287.0,260.1 287.2,260.2 287.5,260.4 287.8,260.7 288.0,261.0 288.2,260.7 288.5,260.6 288.8,260.7 289.0,261.0 289.2,261.3 289.5,261.7 289.8,262.0 290.0,262.3 290.2,262.4 290.5,262.6 303.2,262.6 303.5,262.5 303.8,262.3 304.0,262.4 304.2,262.6 310.2,262.6 310.5,262.2 310.8,261.9 311.0,262.1 311.2,262.4 311.5,262.6 315.5,262.6 315.8,262.2 316.0,261.7 316.2,261.7 316.5,262.2 316.8,262.6 318.8,262.6 319.0,261.6 320.5,261.6 320.8,261.4 321.2,261.4 321.5,261.3 322.0,261.3 322.2,261.4 322.8,261.4 323.0,261.7 323.5,261.7 323.8,261.4 324.2,261.4 324.5,261.8 325.0,261.8 325.2,261.6 325.8,261.6 326.0,261.4 326.2,262.6 330.0,262.6 330.2,262.4 330.5,262.5 330.8,262.6 336.2,262.6 336.5,262.5 336.8,262.4 337.0,262.3 337.2,262.2 337.5,262.1 337.8,261.9 338.0,261.8 338.2,261.6 338.5,261.5 338.8,261.4 339.2,261.4 339.5,261.5 339.8,261.6 340.0,261.8 340.2,261.9 340.5,262.1 340.8,262.2 341.0,262.3 341.2,262.4 341.5,262.5 341.8,262.6 343.8,262.6 344.0,261.9 344.5,261.9 344.8,261.6 345.2,261.6 345.5,262.0 346.0,262.0 346.2,261.7 346.8,261.7 347.0,261.8 348.2,261.8 348.5,261.6 349.0,261.6 349.2,261.8 349.8,261.8 350.0,261.9 350.2,262.6 350.5,262.6 350.8,262.4 351.0,262.5 351.2,262.6 352.2,262.6 352.5,262.5 352.8,262.1 353.0,261.8 353.2,262.1 353.5,262.5 353.8,262.6 359.5,262.6 359.8,262.5 360.0,262.2 360.2,262.1 360.5,262.3 360.8,262.6 380.0,262.6 380.2,262.4 380.5,262.2 380.8,262.3 381.0,262.5 381.2,262.6 388.0,262.6 388.2,262.5 388.5,262.3 388.8,262.2 389.0,262.4 389.2,262.6 390.0,262.6 390.2,262.5 390.5,262.4 390.8,262.2 391.0,262.1 391.2,261.9 391.5,261.6 391.8,261.3 392.0,261.1 392.2,260.8 392.5,260.6 392.8,260.5 393.0,260.4 393.2,260.5 393.5,260.6 393.8,260.8 394.0,261.1 394.2,261.3 394.5,261.6 394.8,261.9 395.0,262.1 395.2,262.1 395.5,261.8 395.8,262.0 396.0,262.4 396.2,262.2 396.5,262.0 396.8,262.2 397.0,262.6 398.5,262.6 398.8,262.5 399.0,262.4 399.2,262.5 399.5,262.6 400.5,262.6 400.8,262.5 401.0,262.3 401.2,262.0 401.5,262.2 401.8,262.5 402.0,262.6 404.8,262.6 405.0,262.4 405.2,262.0 405.5,261.7 405.8,262.1 406.0,262.5 406.2,262.6 418.8,262.6 419.0,262.4 419.2,262.4 419.5,262.5 419.8,262.6 424.8,262.6 425.0,262.1 425.2,261.6 425.5,261.9 425.8,262.3 426.0,262.6 426.2,262.3 426.5,262.0 426.8,262.2 427.0,262.5 427.2,262.6 427.8,262.6 428.0,262.5 428.2,262.6 442.5,262.6 442.8,262.5 443.0,262.4 443.2,262.5 443.5,262.6 443.8,262.6 444.0,262.5 444.2,262.4 444.5,262.5 444.8,262.6 445.0,262.6 445.2,262.4 445.5,262.3 445.8,262.3 446.0,262.5 446.2,262.6 449.5,262.6 449.8,262.1 450.0,261.7 450.2,261.9 450.5,262.4 450.8,262.6 451.2,262.6 451.5,262.3 451.8,262.0 452.0,261.9 452.2,262.3 452.5,262.6 474.5,262.6 474.8,262.4 475.0,262.0 475.2,261.6 475.5,262.1 475.8,262.5 476.0,262.6 476.5,262.6 476.8,262.1 477.0,261.7 477.2,261.9 477.5,262.4 477.8,262.6 491.0,262.6 491.0,262.6" fill="#e0321c" stroke="none"/>
<line x1="281.00" y1="274.73" x2="491.00" y2="274.73" stroke="#f6c6be" stroke-width="0.675" />
<polygon points="281.0,274.9 281.0,274.9 288.2,274.9 288.5,274.6 288.8,274.2 289.0,274.2 289.2,274.6 289.5,274.9 290.5,274.9 290.8,274.8 291.0,274.6 291.2,274.4 291.5,274.3 291.8,274.4 292.0,274.2 292.2,274.5 292.5,274.9 294.8,274.9 295.0,274.7 295.2,274.5 295.5,274.6 295.8,274.8 296.0,274.9 298.2,274.9 298.5,274.8 298.8,274.6 299.0,274.6 299.2,274.8 299.5,274.9 299.8,274.9 300.0,274.7 300.2,274.5 300.5,274.7 300.8,274.8 301.0,274.9 312.2,274.9 312.5,274.7 312.8,274.6 313.0,274.7 313.2,274.9 318.8,274.9 319.0,274.5 319.2,274.1 319.5,274.2 319.8,274.6 320.0,274.9 321.2,274.9 321.5,274.8 321.8,274.6 322.0,274.7 322.2,274.9 331.5,274.9 331.8,274.8 332.0,274.7 332.2,274.8 332.5,274.9 335.2,274.9 335.5,274.8 335.8,274.7 336.0,274.8 336.2,274.8 336.5,274.9 344.2,274.9 344.5,274.7 344.8,274.4 345.0,274.1 345.2,274.5 345.5,274.9 346.8,274.9 347.0,274.7 347.2,274.4 347.5,274.3 347.8,274.6 348.0,274.9 373.0,274.9 373.2,274.8 373.5,274.5 373.8,274.3 374.0,274.6 374.2,274.9 374.8,274.9 375.0,274.7 375.2,274.5 375.5,274.7 375.8,274.9 378.8,274.9 379.0,274.8 379.2,274.6 379.5,274.4 379.8,274.6 380.0,274.9 381.2,274.9 381.5,274.7 381.8,274.7 382.0,274.8 382.2,274.9 386.5,274.9 386.8,274.6 387.0,274.2 387.2,274.1 387.5,274.5 387.8,274.9 389.0,274.9 389.2,274.5 389.5,274.1 389.8,274.3 390.0,274.7 390.2,274.9 393.8,274.9 394.0,274.8 394.2,274.8 394.5,274.9 397.2,274.9 397.5,274.8 397.8,274.7 398.0,274.6 398.2,274.8 398.5,274.9 400.0,274.9 400.2,274.8 400.5,274.8 400.8,274.7 401.0,274.6 401.2,274.4 401.5,274.2 401.8,274.1 402.0,273.9 402.2,273.7 402.5,273.6 402.8,273.5 403.0,273.4 403.2,273.5 403.5,273.6 403.8,273.7 404.0,273.9 404.2,274.0 404.5,273.9 404.8,273.8 405.0,273.7 405.2,273.8 405.5,273.9 405.8,274.0 406.0,274.2 406.2,274.4 406.5,274.5 406.8,274.7 407.0,274.8 407.2,274.9 413.2,274.9 413.5,274.6 413.8,274.3 414.0,274.4 414.2,274.7 414.5,274.9 420.0,274.9 420.2,274.8 420.5,274.6 420.8,274.5 421.0,274.7 421.2,274.9 429.8,274.9 430.0,274.8 430.2,274.5 430.5,274.4 430.8,274.5 431.0,274.7 431.2,274.9 432.5,274.9 432.8,274.8 433.0,274.6 433.2,274.6 433.5,274.8 433.8,274.9 436.2,274.9 436.5,274.8 436.8,274.4 437.0,274.2 437.2,274.5 437.5,274.8 437.8,274.9 441.2,274.9 441.5,274.8 441.8,274.8 442.0,274.9 448.5,274.9 448.8,274.8 449.0,274.9 452.2,274.9 452.5,274.8 452.8,274.4 453.0,274.0 453.2,274.3 453.5,274.7 453.8,274.9 458.2,274.9 458.5,274.8 458.8,274.9 468.0,274.9 468.2,274.7 468.5,274.4 468.8,274.2 469.0,274.6 469.2,274.9 471.0,274.9 471.2,274.6 471.5,274.4 471.8,274.6 472.0,274.9 488.2,274.9 488.5,274.7 488.8,274.4 489.0,274.5 489.2,274.7 489.5,274.9 491.0,274.9 491.0,274.9" fill="#e0321c" stroke="none"/>
<line x1="281.00" y1="287.04" x2="491.00" y2="287.04" stroke="#8fcbe6" stroke-width="1.0499999999999998" />
<polygon points="281.0,287.2 281.0,287.2 283.8,287.2 284.0,287.1 284.2,287.0 284.5,287.0 284.8,287.1 285.0,287.2 287.5,287.2 287.8,287.1 288.0,287.2 289.2,287.2 289.5,287.0 289.8,286.7 290.0,286.7 290.2,286.9 290.5,287.2 292.5,287.2 292.8,287.1 293.0,286.9 293.2,286.9 293.5,287.1 293.8,287.2 296.0,287.2 296.2,287.1 296.5,286.9 296.8,286.7 297.0,286.9 297.2,287.2 300.0,287.2 300.2,287.1 300.5,287.0 300.8,287.1 301.0,287.2 302.2,287.2 302.5,286.9 302.8,286.6 303.0,286.7 303.2,287.0 303.5,287.2 303.8,287.2 304.0,287.0 304.2,286.9 304.5,287.0 304.8,287.2 306.8,287.2 307.0,287.0 307.2,287.0 307.5,286.9 307.8,286.8 308.0,287.0 308.2,287.2 314.8,287.2 315.0,287.0 315.2,286.8 315.5,286.9 315.8,287.1 316.2,287.1 316.5,287.2 337.2,287.2 337.5,287.0 337.8,286.8 338.0,286.7 338.2,287.0 338.5,287.2 341.2,287.2 341.5,287.0 341.8,286.8 342.0,287.0 342.2,287.2 355.0,287.2 355.2,286.8 355.5,286.5 355.8,286.8 356.0,287.1 356.2,287.2 359.5,287.2 359.8,287.0 360.0,286.8 360.2,286.7 360.5,287.0 360.8,287.2 366.2,287.2 366.5,286.9 366.8,286.6 367.0,286.7 367.2,287.0 367.5,287.2 368.0,287.2 368.2,287.1 368.5,286.9 368.8,286.9 369.0,287.1 369.2,287.2 369.8,287.2 370.0,287.1 370.2,287.1 370.5,287.2 387.8,287.2 388.0,287.1 388.2,287.0 388.5,286.9 388.8,282.8 389.0,282.7 389.5,282.7 389.8,283.1 390.2,283.1 390.5,282.7 391.0,282.7 391.2,282.3 391.8,282.3 392.0,282.2 392.2,282.3 392.5,282.3 392.8,282.8 393.0,283.1 393.2,283.1 393.5,282.4 394.0,282.4 394.2,282.5 394.8,282.5 395.0,282.6 395.2,282.3 395.5,281.9 395.8,281.7 396.0,281.6 396.2,281.7 396.5,281.9 396.8,282.3 397.0,282.4 397.2,283.3 397.5,283.4 397.8,283.4 398.0,282.5 398.5,282.5 398.8,282.3 399.2,282.3 399.5,282.5 399.8,282.5 400.0,282.3 400.2,282.0 400.5,281.8 400.8,282.0 401.0,282.3 401.2,282.8 401.5,283.0 401.8,283.2 402.2,283.2 402.5,282.9 402.8,286.3 403.0,286.3 403.2,286.0 403.8,286.0 404.0,285.7 404.2,285.3 404.5,284.9 404.8,284.6 405.0,284.2 405.2,283.9 405.5,283.6 405.8,283.5 406.0,283.4 406.2,283.5 406.5,283.6 406.8,283.9 407.0,284.2 407.2,284.6 407.5,284.9 407.8,285.3 408.0,285.7 408.2,285.2 408.5,284.6 408.8,283.9 409.0,283.2 409.2,282.5 409.5,281.9 409.8,281.4 410.0,281.1 410.2,281.0 410.5,281.2 410.8,281.6 411.0,282.1 411.2,282.8 411.5,283.5 411.8,284.2 412.0,284.9 412.2,285.5 412.5,285.9 412.8,285.6 413.0,285.3 413.2,285.0 413.5,284.7 413.8,284.4 414.0,284.2 414.2,284.1 414.5,284.0 414.8,284.1 415.0,284.2 415.2,284.4 415.5,284.7 415.8,285.0 416.0,285.3 416.2,285.6 416.5,285.9 416.8,286.2 417.0,286.3 417.2,286.1 417.5,285.8 417.8,285.6 418.0,285.4 418.2,285.2 418.5,285.1 418.8,285.0 419.0,284.9 419.2,285.0 419.5,285.1 419.8,285.2 420.0,285.4 420.2,285.6 420.5,285.8 420.8,286.1 421.0,286.3 421.5,286.3 421.8,286.2 422.0,286.0 422.2,285.9 422.5,285.8 422.8,285.8 423.0,285.7 423.2,285.8 423.5,285.8 423.8,285.9 424.0,286.0 424.2,286.1 424.8,286.1 425.0,286.0 425.5,286.0 425.8,286.5 426.2,286.5 426.5,286.2 427.0,286.2 427.2,286.5 427.8,286.5 428.0,286.3 428.5,286.3 428.8,286.4 429.2,286.4 429.5,286.0 430.0,286.0 430.2,286.4 430.8,286.4 431.0,286.0 432.0,286.0 432.2,287.2 436.5,287.2 436.8,287.0 437.0,286.7 437.2,286.6 437.5,286.9 437.8,287.2 447.5,287.2 447.8,287.1 448.0,287.1 448.2,287.2 451.0,287.2 451.2,287.1 451.5,287.1 451.8,287.2 455.5,287.2 455.8,287.1 456.0,287.2 463.5,287.2 463.8,287.1 464.2,287.1 464.5,287.2 465.8,287.2 466.0,287.0 466.2,286.9 466.5,287.0 466.8,287.2 483.0,287.2 483.2,286.9 483.5,286.4 483.8,285.8 484.0,285.2 484.2,285.8 484.5,286.4 484.8,286.9 485.0,287.2 485.2,287.0 485.5,286.6 485.8,286.2 486.0,285.7 486.2,286.2 486.5,286.6 486.8,287.0 487.0,287.2 491.0,287.2 491.0,287.2" fill="#1f86c0" stroke="none"/>
<polygon points="281.0,299.6 281.0,299.6 282.2,299.6 282.5,299.4 282.8,299.4 283.0,299.6 285.2,299.6 285.5,299.3 285.8,299.1 286.0,299.2 286.2,299.4 286.5,299.6 286.8,299.6 287.0,299.4 287.2,299.2 287.5,299.0 287.8,299.3 288.0,299.6 290.0,299.6 290.2,299.4 290.5,299.6 292.5,299.6 292.8,299.3 293.0,299.3 293.2,299.4 293.5,299.6 301.5,299.6 301.8,299.4 302.0,299.6 308.0,299.6 308.2,299.4 308.5,299.6 308.8,299.3 309.0,299.1 309.2,299.2 309.5,299.4 309.8,299.6 323.8,299.6 324.0,299.4 324.2,299.6 353.5,299.6 353.8,299.3 354.0,299.2 354.2,299.2 354.5,299.4 354.8,299.0 355.0,298.6 355.2,299.0 355.5,299.4 355.8,299.6 357.0,299.6 357.2,299.4 357.5,299.2 357.8,299.4 358.0,299.6 358.2,299.6 358.5,299.4 358.8,299.3 359.0,299.4 359.2,299.6 364.8,299.6 365.0,299.4 365.2,299.3 365.5,299.3 365.8,299.4 366.0,299.6 373.2,299.6 373.5,299.3 373.8,298.7 374.0,298.1 374.2,298.7 374.5,299.3 374.8,299.6 380.8,299.6 381.0,299.4 381.2,299.6 383.5,299.6 383.8,299.3 384.0,299.1 384.2,299.2 384.5,299.4 384.8,299.6 385.8,299.6 386.0,299.4 386.5,299.4 386.8,299.3 387.0,298.7 387.2,298.7 387.5,298.8 388.0,298.8 388.2,298.4 388.8,298.4 389.0,298.5 389.2,298.3 389.5,298.2 389.8,298.1 390.0,298.0 390.2,297.8 390.5,297.7 390.8,297.6 391.0,297.5 391.2,297.4 392.8,297.4 393.0,297.5 393.2,297.6 393.5,297.7 393.8,297.8 394.0,298.0 394.2,298.1 394.5,297.9 394.8,297.4 395.0,296.9 395.2,296.2 395.5,295.6 395.8,294.9 396.0,294.2 396.2,293.5 396.5,292.9 396.8,292.5 397.0,292.2 397.2,292.1 397.5,292.1 397.8,292.3 398.0,292.7 398.2,293.3 398.5,293.9 398.8,294.6 399.0,295.3 399.2,295.7 399.5,295.2 399.8,294.8 400.0,294.6 400.2,294.6 400.5,294.7 400.8,295.0 401.0,295.4 401.2,295.9 401.5,296.5 401.8,297.1 402.0,297.6 402.2,298.1 402.5,298.5 402.8,298.6 403.2,298.6 403.5,298.5 403.8,298.1 404.0,297.8 404.2,297.3 404.5,296.9 404.8,296.6 405.0,296.3 405.2,296.1 405.8,296.1 406.0,296.3 406.2,296.6 406.5,296.9 406.8,297.3 407.0,296.8 407.2,296.0 407.5,295.1 407.8,294.3 408.0,293.5 408.2,292.9 408.5,292.4 408.8,292.3 409.0,292.3 409.2,292.7 409.5,293.2 409.8,294.0 410.0,294.8 410.2,294.3 410.5,293.8 410.8,293.6 411.0,293.6 411.2,294.0 411.5,294.6 411.8,295.4 412.0,296.2 412.2,297.0 412.5,297.7 412.8,298.2 413.0,297.8 413.2,297.4 413.5,296.9 413.8,296.4 414.0,295.9 414.2,295.5 414.5,295.1 414.8,294.8 415.0,294.6 415.5,294.6 415.8,294.9 416.0,295.2 416.2,295.6 416.5,296.1 416.8,296.6 417.0,297.1 417.2,297.6 417.5,298.0 417.8,298.4 418.0,298.7 418.2,298.5 418.5,298.2 418.8,297.8 419.0,297.4 419.2,297.1 419.5,296.7 419.8,296.4 420.0,296.2 420.2,296.1 420.5,296.1 420.8,296.2 421.0,296.4 421.2,296.6 421.5,297.0 421.8,297.4 422.0,297.3 422.2,297.0 422.5,296.8 422.8,296.6 423.2,296.6 423.5,296.8 423.8,297.0 424.0,297.3 424.2,297.7 424.5,298.0 424.8,298.3 425.0,298.5 425.2,298.3 425.5,298.1 425.8,298.0 426.0,297.8 426.2,297.7 426.5,297.6 427.5,297.6 427.8,297.7 428.0,297.8 428.2,298.0 428.5,298.1 428.8,298.3 429.0,298.5 429.2,298.5 429.5,298.8 429.8,298.7 430.0,298.6 430.2,298.5 430.5,298.4 431.5,298.4 431.8,298.5 433.0,298.5 433.2,298.4 433.8,298.4 434.0,298.9 434.2,299.4 434.5,299.6 440.2,299.6 440.5,299.4 440.8,299.3 441.0,299.4 441.2,299.6 445.0,299.6 445.2,299.3 445.5,299.1 445.8,299.2 446.0,299.4 446.2,299.6 456.5,299.6 456.8,299.4 457.0,299.2 457.2,299.1 457.5,299.3 457.8,299.6 458.0,299.4 458.2,299.3 458.5,299.4 458.8,299.6 472.2,299.6 472.5,299.4 473.2,299.4 473.5,299.6 491.0,299.6 491.0,299.6" fill="#1f86c0" stroke="none"/>
<polygon points="281.0,311.9 281.0,311.9 281.2,311.9 281.5,311.6 281.8,311.4 282.0,311.6 282.2,311.9 292.5,311.9 292.8,311.7 293.0,311.6 293.2,311.6 293.5,311.9 294.2,311.9 294.5,311.7 294.8,311.5 295.0,311.7 295.2,311.9 295.5,311.9 295.8,311.6 296.0,311.4 296.2,311.6 296.5,311.9 298.8,311.9 299.0,311.6 299.2,311.4 299.5,311.6 299.8,311.9 307.0,311.9 307.2,311.7 307.5,311.9 316.2,311.9 316.5,311.7 316.8,311.6 317.0,311.7 317.2,311.9 320.8,311.9 321.0,311.7 321.2,311.5 321.5,311.6 321.8,311.9 326.0,311.9 326.2,311.7 326.5,311.6 326.8,311.7 327.0,311.9 333.8,311.9 334.0,311.7 334.2,311.8 334.5,311.9 343.0,311.9 343.2,311.7 343.5,311.9 344.0,311.9 344.2,311.7 344.5,311.6 344.8,311.7 345.0,311.4 345.2,311.4 345.5,311.6 346.0,311.6 346.2,311.1 346.8,311.1 347.0,311.2 347.5,311.2 347.8,311.3 348.2,311.3 348.5,311.5 349.0,311.5 349.2,311.4 349.8,311.4 350.0,311.5 350.5,311.5 350.8,311.6 352.0,311.6 352.2,311.3 352.8,311.3 353.0,311.6 353.5,311.6 353.8,311.5 354.2,311.5 354.5,311.4 355.0,311.4 355.2,311.6 357.2,311.6 357.5,311.4 358.0,311.4 358.2,311.2 358.8,311.2 359.0,311.4 359.5,311.4 359.8,311.1 360.2,311.1 360.5,311.2 362.5,311.2 362.8,311.6 363.2,311.6 363.5,311.3 364.8,311.3 365.0,311.6 365.5,311.6 365.8,311.1 368.5,311.1 368.8,311.2 369.2,311.2 369.5,311.5 370.8,311.5 371.0,311.3 371.5,311.3 371.8,311.4 372.2,311.4 372.5,311.5 373.0,311.5 373.2,311.1 373.8,311.1 374.0,311.6 374.5,311.6 374.8,311.1 375.2,311.1 375.5,311.4 376.0,311.4 376.2,311.3 377.5,311.3 377.8,311.6 378.2,311.6 378.5,311.1 379.0,311.1 379.2,311.6 379.8,311.6 380.0,311.4 380.5,311.4 380.8,311.3 381.2,311.3 381.5,311.2 382.0,311.2 382.2,311.6 382.8,311.6 383.0,311.3 383.5,311.3 383.8,311.6 384.0,311.6 384.2,311.9 385.0,311.9 385.2,311.0 385.8,311.0 386.0,311.1 387.2,311.1 387.5,311.0 387.8,311.0 388.0,310.9 388.2,310.7 388.5,310.6 388.8,310.4 389.0,310.3 389.2,310.2 389.5,310.1 390.5,310.1 390.8,310.2 391.0,310.3 391.2,310.4 391.5,310.6 391.8,310.7 392.0,310.9 392.2,310.6 392.5,310.0 392.8,309.3 393.0,308.6 393.2,307.8 393.5,307.0 393.8,306.2 394.0,305.7 394.2,305.4 394.5,305.4 394.8,305.6 395.0,306.1 395.2,306.8 395.5,307.6 395.8,308.3 396.0,308.0 396.2,307.9 396.5,307.9 396.8,308.1 397.0,308.5 397.2,308.9 397.5,309.4 397.8,309.9 398.0,310.4 398.2,310.8 398.5,311.1 400.0,311.1 400.2,310.9 400.8,310.9 401.0,311.1 401.5,311.1 401.8,310.9 402.0,310.6 402.2,310.3 402.5,309.9 402.8,309.5 403.0,309.2 403.2,309.0 403.5,308.9 403.8,308.9 404.0,309.0 404.2,309.3 404.5,309.6 404.8,309.9 405.0,309.6 405.2,309.4 405.5,309.3 405.8,309.3 406.0,309.4 406.2,309.7 406.5,310.0 406.8,310.4 407.0,310.7 407.2,311.0 407.5,311.2 407.8,311.2 408.0,311.0 408.2,310.8 408.5,310.7 408.8,310.5 409.0,310.3 409.8,310.3 410.0,310.4 410.2,310.6 410.5,310.8 410.8,311.0 411.2,311.0 411.5,310.9 411.8,310.7 412.0,310.6 412.5,310.6 412.8,310.7 413.0,310.8 413.2,311.0 413.5,311.2 413.8,311.0 414.0,311.0 414.2,311.7 414.5,311.7 414.8,311.9 416.8,311.9 417.0,311.7 417.2,311.7 417.5,311.9 425.8,311.9 426.0,311.6 426.2,311.4 426.5,311.6 426.8,311.9 430.5,311.9 430.8,311.7 431.0,311.5 431.2,311.3 431.5,311.5 431.8,311.9 436.0,311.9 436.2,311.7 436.5,311.7 436.8,311.9 456.5,311.9 456.8,311.7 457.0,311.6 457.2,311.6 457.5,311.9 457.8,311.9 458.0,311.7 458.2,311.6 458.5,311.7 458.8,311.9 476.0,311.9 476.2,311.7 476.5,311.6 476.8,311.7 477.0,311.9 478.0,311.9 478.2,311.7 478.5,311.5 478.8,311.5 479.0,311.6 479.2,311.9 485.2,311.9 485.5,311.7 485.8,311.7 486.0,311.9 491.0,311.9 491.0,311.9" fill="#1f86c0" stroke="none"/>
<line x1="281.00" y1="323.97" x2="491.00" y2="323.97" stroke="#bfe0f0" stroke-width="0.675" />
<polygon points="281.0,324.2 281.0,324.2 281.2,323.9 281.5,323.3 281.8,322.7 282.0,323.3 282.2,323.9 282.5,324.2 287.2,324.2 287.5,323.9 287.8,323.6 288.0,323.6 288.2,323.9 288.5,324.2 292.5,324.2 292.8,323.8 293.0,323.5 293.2,323.5 293.5,323.9 293.8,324.2 295.5,324.2 295.8,323.9 296.0,323.6 296.2,323.6 296.5,323.9 296.8,324.2 299.8,324.2 300.0,323.7 300.2,323.7 300.5,323.8 300.8,323.1 301.0,322.8 301.2,323.4 301.5,323.5 301.8,323.5 302.0,323.9 303.2,323.9 303.5,323.4 304.8,323.4 305.0,323.7 305.5,323.7 305.8,323.9 306.2,323.9 306.5,323.5 307.8,323.5 308.0,323.3 308.2,323.1 308.5,323.4 309.2,323.4 309.5,323.8 310.0,323.8 310.2,323.7 310.8,323.7 311.0,323.9 312.2,323.9 312.5,323.5 313.0,323.5 313.2,323.7 313.8,323.7 314.0,323.4 314.5,323.4 314.8,323.9 315.2,323.9 315.5,323.4 316.0,323.4 316.2,323.6 316.8,323.6 317.0,323.7 317.2,323.5 317.5,323.8 317.8,323.4 318.2,323.4 318.5,323.6 319.0,323.6 319.2,323.8 320.5,323.8 320.8,323.5 321.2,323.5 321.5,323.7 321.8,323.4 322.0,323.6 322.2,323.5 322.5,323.0 322.8,323.4 323.0,323.9 324.2,323.9 324.5,323.8 325.0,323.8 325.2,323.9 325.8,323.9 326.0,323.4 326.5,323.4 326.8,323.9 327.2,323.9 327.5,323.5 328.0,323.5 328.2,323.7 329.8,323.7 330.0,323.8 330.2,323.8 330.5,323.7 331.8,323.7 332.0,323.4 332.2,323.3 332.5,323.6 332.8,323.9 333.2,323.9 333.5,323.5 334.0,323.5 334.2,323.4 334.8,323.4 335.0,323.7 335.5,323.7 335.8,323.8 336.2,323.8 336.5,323.6 337.0,323.6 337.2,323.9 337.8,323.9 338.0,323.8 338.5,323.8 338.8,323.4 339.2,323.4 339.5,323.6 340.0,323.6 340.2,323.7 340.8,323.7 341.0,323.9 341.5,323.9 341.8,323.6 342.2,323.6 342.5,323.8 343.0,323.8 343.2,323.5 343.8,323.5 344.0,323.6 344.5,323.6 344.8,323.5 345.0,323.4 345.2,323.8 345.5,323.5 346.0,323.5 346.2,323.4 346.8,323.4 347.0,322.8 347.2,323.1 347.5,323.6 347.8,323.9 348.2,323.9 348.5,323.4 349.0,323.4 349.2,323.9 349.8,323.9 350.0,323.5 350.2,323.4 350.5,323.5 350.8,323.7 351.2,323.7 351.5,323.4 352.0,323.4 352.2,323.8 352.8,323.8 353.0,323.7 353.5,323.7 353.8,323.6 354.2,323.6 354.5,323.7 355.8,323.7 356.0,323.6 356.5,323.6 356.8,323.8 357.2,323.8 357.5,323.6 358.0,323.6 358.2,323.8 358.8,323.8 359.0,323.4 359.5,323.4 359.8,323.6 360.2,323.6 360.5,323.5 361.0,323.5 361.2,323.7 361.8,323.7 362.0,323.8 362.5,323.8 362.8,323.4 363.0,323.4 363.2,323.2 363.5,323.6 364.0,323.6 364.2,323.7 365.0,323.7 365.2,323.8 365.5,323.8 365.8,323.7 366.2,323.7 366.5,323.4 367.0,323.4 367.2,323.9 367.8,323.9 368.0,323.7 368.5,323.7 368.8,323.4 369.2,323.4 369.5,323.8 370.0,323.8 370.2,323.6 370.8,323.6 371.0,323.7 373.0,323.7 373.2,323.4 373.5,323.5 373.8,323.8 374.0,323.5 374.5,323.5 374.8,323.7 375.2,323.7 375.5,323.4 376.0,323.4 376.2,323.7 376.8,323.7 377.0,323.4 377.5,323.4 377.8,323.3 378.0,323.5 378.2,323.7 378.5,323.5 379.0,323.5 379.2,323.8 379.8,323.8 380.0,323.6 380.5,323.6 380.8,323.8 381.2,323.8 381.5,323.5 382.0,323.5 382.2,323.7 382.8,323.7 383.0,323.6 383.5,323.6 383.8,323.5 384.2,323.5 384.5,323.8 385.0,323.8 385.2,323.7 385.5,323.7 385.8,323.3 386.0,323.5 386.5,323.5 386.8,323.9 387.0,323.9 387.2,323.7 387.5,323.8 387.8,323.9 388.0,323.9 388.2,323.6 388.8,323.6 389.0,323.5 389.5,323.5 389.8,323.7 390.2,323.7 390.5,323.4 391.8,323.4 392.0,323.5 392.5,323.5 392.8,323.9 393.2,323.9 393.5,323.8 394.0,323.8 394.2,323.4 394.8,323.4 395.0,323.9 395.5,323.9 395.8,323.4 396.2,323.4 396.5,323.5 397.0,323.5 397.2,323.8 397.8,323.8 398.0,323.7 399.2,323.7 399.5,323.8 400.0,323.8 400.2,323.9 400.8,323.9 401.0,323.6 402.2,323.6 402.5,323.7 403.0,323.7 403.2,323.4 403.8,323.4 404.0,323.5 404.5,323.5 404.8,323.7 405.2,323.7 405.5,323.5 406.0,323.5 406.2,323.9 407.5,323.9 407.8,323.4 408.2,323.4 408.5,323.9 409.0,323.9 409.2,323.6 409.8,323.6 410.0,323.7 410.5,323.7 410.8,323.9 411.2,323.9 411.5,323.4 412.0,323.4 412.2,323.9 413.5,323.9 413.8,323.5 414.2,323.5 414.5,323.4 415.0,323.4 415.2,323.6 416.5,323.6 416.8,323.9 417.2,323.9 417.5,323.7 418.8,323.7 419.0,323.5 419.5,323.5 419.8,323.6 420.2,323.6 420.5,323.5 421.0,323.5 421.2,323.7 421.8,323.7 422.0,323.4 422.5,323.4 422.8,323.7 424.0,323.7 424.2,323.8 425.5,323.8 425.8,323.6 426.2,323.6 426.5,323.9 427.0,323.9 427.2,323.5 427.8,323.5 428.0,323.9 428.5,323.9 428.8,323.6 431.5,323.6 431.8,323.8 432.2,323.8 432.5,323.4 433.0,323.4 433.2,323.8 433.8,323.8 434.0,323.7 435.2,323.7 435.5,323.6 436.0,323.6 436.2,323.9 436.8,323.9 437.0,323.5 437.5,323.5 437.8,323.4 438.2,323.4 438.5,323.8 438.8,323.9 439.0,323.9 439.2,323.6 439.8,323.6 440.0,323.8 441.2,323.8 441.5,323.6 442.0,323.6 442.2,323.9 442.8,323.9 443.0,323.8 443.2,323.9 444.2,323.9 444.5,323.5 445.0,323.5 445.2,323.4 447.2,323.4 447.5,323.9 448.0,323.9 448.2,323.8 448.8,323.8 449.0,323.9 449.5,323.9 449.8,323.4 450.2,323.4 450.5,323.9 451.0,323.9 451.2,323.4 451.8,323.4 452.0,323.6 452.5,323.6 452.8,323.5 453.2,323.5 453.5,323.7 454.0,323.7 454.2,323.4 454.8,323.4 455.0,323.5 455.5,323.5 455.8,323.4 456.2,323.4 456.5,323.8 457.0,323.8 457.2,323.4 457.5,323.4 457.8,323.1 458.0,323.5 458.2,323.6 458.5,323.6 458.8,323.9 459.2,323.9 459.5,323.4 461.5,323.4 461.8,323.6 462.2,323.6 462.5,323.4 463.0,323.4 463.2,323.6 463.8,323.6 464.0,323.8 464.5,323.8 464.8,323.5 465.2,323.5 465.5,323.7 469.5,323.7 469.8,323.3 470.0,322.7 470.2,323.3 470.5,323.9 470.8,323.8 471.2,323.8 471.5,323.5 472.8,323.5 473.0,323.9 474.2,323.9 474.5,323.5 475.0,323.5 475.2,323.9 476.5,323.9 476.8,323.6 477.2,323.6 477.5,323.7 478.0,323.7 478.2,323.9 478.8,323.9 479.0,323.8 480.0,323.8 480.2,324.2 480.8,324.2 481.0,323.7 481.2,323.2 481.5,323.4 481.8,323.9 482.0,324.2 491.0,324.2 491.0,324.2" fill="#1f86c0" stroke="none"/>
<line x1="281.00" y1="336.28" x2="491.00" y2="336.28" stroke="#bfe0f0" stroke-width="0.675" />
<polygon points="281.0,336.5 281.0,336.5 285.0,336.5 285.2,336.0 285.5,335.5 285.8,335.7 286.0,336.1 286.2,336.5 287.0,336.5 287.2,336.3 287.5,336.2 287.8,336.2 288.0,335.9 288.2,336.0 288.5,336.3 288.8,336.5 291.8,336.5 292.0,336.3 292.2,336.3 292.5,336.5 299.8,336.5 300.0,336.1 300.2,336.1 300.5,336.2 301.0,336.2 301.2,335.9 301.5,335.9 301.8,335.5 302.0,335.7 302.2,336.1 302.5,336.2 303.2,336.2 303.5,335.8 304.8,335.8 305.0,336.1 305.5,336.1 305.8,336.2 306.2,336.2 306.5,335.9 308.5,335.9 308.8,335.8 309.2,335.8 309.5,336.2 310.0,336.2 310.2,336.1 310.8,336.1 311.0,336.2 312.0,336.2 312.2,336.1 312.5,335.7 312.8,335.6 313.0,335.9 313.2,336.1 313.8,336.1 314.0,335.8 314.5,335.8 314.8,336.2 315.2,336.2 315.5,335.9 316.0,335.9 316.2,336.0 316.8,336.0 317.0,336.2 317.2,336.2 317.5,336.1 317.8,335.8 318.2,335.8 318.5,336.0 319.0,336.0 319.2,336.2 320.5,336.2 320.8,335.9 321.2,335.9 321.5,336.2 322.0,336.2 322.2,335.9 322.8,335.9 323.0,336.2 325.8,336.2 326.0,335.8 326.5,335.8 326.8,336.2 327.2,336.2 327.5,336.0 328.0,336.0 328.2,336.1 328.8,336.1 329.0,336.2 329.5,336.2 329.8,336.1 330.0,335.7 330.2,335.6 330.5,336.0 330.8,336.1 331.8,336.1 332.0,336.0 332.5,336.0 332.8,336.2 333.2,336.2 333.5,335.9 334.0,335.9 334.2,335.8 334.8,335.8 335.0,336.1 335.5,336.1 335.8,336.2 336.2,336.2 336.5,336.0 337.0,336.0 337.2,336.2 338.5,336.2 338.8,335.8 339.0,335.8 339.2,335.6 339.5,335.3 339.8,335.8 340.0,336.0 340.2,336.1 340.8,336.1 341.0,336.2 341.2,336.2 341.5,336.1 341.8,336.0 342.5,336.0 342.8,335.6 343.0,335.8 343.2,335.9 343.8,335.9 344.0,336.0 344.5,336.0 344.8,336.2 345.2,336.2 345.5,335.9 346.0,335.9 346.2,335.8 346.8,335.8 347.0,336.0 347.5,336.0 347.8,336.2 348.2,336.2 348.5,335.8 349.0,335.8 349.2,336.2 349.8,336.2 350.0,335.9 350.5,335.9 350.8,336.1 351.2,336.1 351.5,335.8 352.0,335.8 352.2,336.2 352.8,336.2 353.0,336.1 353.5,336.1 353.8,336.0 354.2,336.0 354.5,336.1 355.8,336.1 356.0,336.0 356.5,336.0 356.8,336.2 357.2,336.2 357.5,336.0 358.0,336.0 358.2,336.2 358.8,336.2 359.0,335.8 359.5,335.8 359.8,336.0 360.2,336.0 360.5,335.9 361.0,335.9 361.2,336.2 362.5,336.2 362.8,335.9 363.2,335.9 363.5,336.0 364.0,336.0 364.2,336.1 364.8,336.1 365.0,336.2 365.5,336.2 365.8,336.1 366.2,336.1 366.5,335.8 367.2,335.8 367.5,336.1 367.8,336.2 368.0,335.7 368.2,335.2 368.5,335.7 368.8,335.8 369.2,335.8 369.5,336.2 370.0,336.2 370.2,336.0 370.8,336.0 371.0,336.1 373.0,336.1 373.2,336.2 373.8,336.2 374.0,335.9 374.5,335.9 374.8,336.1 375.2,336.1 375.5,335.8 376.0,335.8 376.2,336.1 376.8,336.1 377.0,335.9 377.5,335.9 377.8,336.1 378.2,336.1 378.5,335.9 378.8,335.8 379.0,335.4 379.2,335.8 379.5,336.2 379.8,336.2 380.0,336.0 380.5,336.0 380.8,336.2 381.2,336.2 381.5,336.0 382.0,336.0 382.2,336.1 382.8,336.1 383.0,336.0 383.5,336.0 383.8,335.9 384.2,335.9 384.5,336.2 385.0,336.2 385.2,336.1 385.5,336.1 385.8,335.9 386.0,335.5 386.2,335.9 386.5,335.9 386.8,336.2 388.0,336.2 388.2,336.0 388.8,336.0 389.0,335.9 389.5,335.9 389.8,336.2 390.2,336.2 390.5,335.8 391.8,335.8 392.0,335.9 392.5,335.9 392.8,336.2 394.0,336.2 394.2,335.8 394.8,335.8 395.0,336.2 395.5,336.2 395.8,335.8 396.2,335.8 396.5,335.9 397.0,335.9 397.2,335.5 397.5,335.1 397.8,334.7 398.0,334.3 398.2,334.1 398.5,334.0 398.8,334.1 399.0,334.3 399.2,334.7 399.5,335.1 399.8,335.5 400.0,335.9 400.2,336.1 400.5,336.2 400.8,336.2 401.0,336.0 402.2,336.0 402.5,336.1 403.0,336.1 403.2,335.8 403.8,335.8 404.0,336.0 404.5,336.0 404.8,336.2 405.2,336.2 405.5,335.9 406.0,335.9 406.2,336.2 407.5,336.2 407.8,335.8 408.2,335.8 408.5,336.2 409.0,336.2 409.2,336.0 409.8,336.0 410.0,336.1 410.5,336.1 410.8,335.8 411.0,336.1 411.2,336.0 411.5,335.8 412.0,335.8 412.2,336.2 412.5,336.1 412.8,335.7 413.0,335.8 413.2,336.2 413.5,336.2 413.8,335.9 414.0,335.8 414.2,335.7 414.5,335.9 415.0,335.9 415.2,336.1 415.8,336.1 416.0,336.0 416.5,336.0 416.8,336.2 417.2,336.2 417.5,336.1 418.8,336.1 419.0,335.9 419.5,335.9 419.8,336.0 420.2,336.0 420.5,335.9 421.0,335.9 421.2,336.1 421.8,336.1 422.0,335.8 422.5,335.8 422.8,336.1 424.0,336.1 424.2,336.2 424.5,336.2 424.8,336.0 425.0,335.9 425.2,336.2 425.5,336.2 425.8,336.0 426.2,336.0 426.5,336.2 427.0,336.2 427.2,335.9 427.8,335.9 428.0,336.2 428.5,336.2 428.8,336.0 430.0,336.0 430.2,336.1 430.8,336.1 431.0,336.0 431.5,336.0 431.8,336.2 432.2,336.2 432.5,335.8 433.0,335.8 433.2,336.0 433.5,336.2 434.5,336.2 434.8,336.1 435.2,336.1 435.5,336.0 436.0,336.0 436.2,336.2 436.8,336.2 437.0,335.9 437.5,335.9 437.8,335.8 438.2,335.8 438.5,336.0 438.8,335.9 439.0,335.8 439.2,335.7 439.5,335.6 439.8,335.5 440.2,335.5 440.5,335.6 440.8,335.7 441.0,335.8 441.2,335.9 441.5,336.0 442.0,336.0 442.2,336.2 444.2,336.2 444.5,335.9 445.0,335.9 445.2,335.8 447.2,335.8 447.5,336.2 449.5,336.2 449.8,335.8 450.2,335.8 450.5,336.2 451.0,336.2 451.2,335.8 451.8,335.8 452.0,336.0 452.5,336.0 452.8,335.9 453.2,335.9 453.5,336.1 454.0,336.1 454.2,335.8 454.8,335.8 455.0,335.9 455.5,335.9 455.8,335.8 456.2,335.8 456.5,336.2 457.0,336.2 457.2,335.8 457.8,335.8 458.0,336.0 458.5,336.0 458.8,336.2 459.2,336.2 459.5,335.8 461.5,335.8 461.8,336.0 462.2,336.0 462.5,335.8 463.0,335.8 463.2,336.1 463.8,336.1 464.0,336.2 464.5,336.2 464.8,335.9 465.2,335.9 465.5,336.2 465.8,336.2 466.0,336.0 466.2,336.0 466.5,336.1 469.8,336.1 470.0,336.2 471.2,336.2 471.5,335.9 472.8,335.9 473.0,336.2 474.2,336.2 474.5,335.9 475.0,335.9 475.2,336.2 476.5,336.2 476.8,336.0 477.2,336.0 477.5,336.1 478.0,336.1 478.2,335.7 478.5,335.6 478.8,336.0 479.0,336.2 480.0,336.2 480.2,336.3 480.5,336.4 480.8,336.5 482.0,336.5 482.2,336.0 482.5,335.6 482.8,335.9 483.0,336.3 483.2,336.5 483.5,336.4 483.8,336.3 484.0,336.1 484.2,336.0 484.5,336.0 484.8,335.9 485.0,335.8 485.2,335.7 485.5,335.6 485.8,335.5 486.2,335.5 486.5,335.6 486.8,335.7 487.0,335.8 487.2,335.9 487.5,336.0 487.8,336.1 488.0,336.2 488.2,336.3 488.5,336.4 488.8,336.5 491.0,336.5 491.0,336.5" fill="#1f86c0" stroke="none"/>
<line x1="281.00" y1="348.59" x2="491.00" y2="348.59" stroke="#bfe0f0" stroke-width="0.675" />
<polygon points="281.0,348.8 281.0,348.8 281.8,348.8 282.0,348.5 282.2,348.2 282.5,348.1 282.8,348.5 283.0,348.8 285.2,348.8 285.5,348.6 285.8,348.3 286.0,348.1 286.2,348.4 286.5,348.8 286.8,348.8 287.0,348.6 287.2,348.4 287.5,348.5 287.8,348.6 288.0,348.6 288.2,348.8 288.5,348.8 288.8,348.7 289.0,348.8 294.8,348.8 295.0,348.3 295.2,347.8 295.5,348.0 295.8,348.4 296.0,348.8 299.8,348.8 300.0,348.4 300.2,348.4 300.5,348.5 301.0,348.5 301.2,348.2 301.8,348.2 302.0,348.5 303.2,348.5 303.5,348.1 304.8,348.1 305.0,348.4 305.5,348.4 305.8,348.5 306.2,348.5 306.5,348.2 308.5,348.2 308.8,348.1 309.2,348.1 309.5,348.5 309.8,348.4 310.0,348.0 310.2,348.1 310.5,348.4 310.8,348.4 311.0,348.5 312.2,348.5 312.5,348.2 313.0,348.2 313.2,348.4 313.8,348.4 314.0,348.2 314.2,348.2 314.5,348.1 314.8,348.2 315.0,348.5 315.2,348.5 315.5,348.2 316.0,348.2 316.2,348.3 316.8,348.3 317.0,348.5 317.5,348.5 317.8,348.1 318.2,348.1 318.5,348.3 319.0,348.3 319.2,348.5 320.5,348.5 320.8,348.2 321.2,348.2 321.5,348.5 322.0,348.5 322.2,348.2 322.8,348.2 323.0,348.5 325.8,348.5 326.0,348.1 326.5,348.1 326.8,348.5 327.2,348.5 327.5,348.3 328.0,348.3 328.2,348.4 328.8,348.4 329.0,348.5 331.0,348.5 331.2,348.4 331.8,348.4 332.0,348.3 332.5,348.3 332.8,348.5 333.2,348.5 333.5,348.2 334.0,348.2 334.2,348.1 334.8,348.1 335.0,348.4 335.5,348.4 335.8,348.5 336.0,348.5 336.2,348.4 336.5,348.1 336.8,348.2 337.0,348.4 337.2,348.5 338.5,348.5 338.8,348.2 339.2,348.2 339.5,348.3 340.0,348.3 340.2,348.4 340.8,348.4 341.0,348.5 341.5,348.5 341.8,348.3 342.2,348.3 342.5,348.5 343.0,348.5 343.2,348.2 343.8,348.2 344.0,348.3 344.5,348.3 344.8,348.5 345.2,348.5 345.5,348.2 345.8,348.2 346.0,348.1 346.8,348.1 347.0,348.2 347.2,348.3 347.5,348.3 347.8,348.5 348.0,348.5 348.2,348.4 348.5,348.1 349.0,348.1 349.2,348.5 349.8,348.5 350.0,348.3 350.5,348.3 350.8,348.4 351.2,348.4 351.5,348.1 352.0,348.1 352.2,348.5 352.8,348.5 353.0,348.4 353.5,348.4 353.8,348.3 354.2,348.3 354.5,348.4 355.8,348.4 356.0,348.3 356.5,348.3 356.8,348.5 357.2,348.5 357.5,348.3 358.0,348.3 358.2,348.5 358.8,348.5 359.0,348.1 359.5,348.1 359.8,348.3 360.2,348.3 360.5,348.2 361.0,348.2 361.2,348.5 362.5,348.5 362.8,348.2 363.2,348.2 363.5,348.3 364.0,348.3 364.2,348.4 364.8,348.4 365.0,348.5 365.5,348.5 365.8,348.4 366.2,348.4 366.5,348.1 367.0,348.1 367.2,348.4 367.5,348.5 367.8,348.5 368.0,348.4 368.5,348.4 368.8,348.1 369.2,348.1 369.5,348.5 369.8,348.5 370.0,348.2 370.2,347.6 370.5,347.9 370.8,348.3 371.0,348.4 373.0,348.4 373.2,348.5 373.8,348.5 374.0,348.2 374.5,348.2 374.8,348.4 375.2,348.4 375.5,348.1 376.0,348.1 376.2,348.4 376.8,348.4 377.0,348.2 377.5,348.2 377.8,348.5 378.2,348.5 378.5,348.2 379.0,348.2 379.2,348.5 379.8,348.5 380.0,348.4 380.5,348.4 380.8,348.5 381.2,348.5 381.5,348.3 382.0,348.3 382.2,348.4 382.5,348.4 382.8,348.1 383.0,347.7 383.2,348.2 383.5,348.3 383.8,348.2 384.2,348.2 384.5,348.5 384.8,348.5 385.0,348.3 385.2,347.9 385.5,348.3 385.8,348.4 386.0,348.2 386.5,348.2 386.8,348.5 388.0,348.5 388.2,348.3 388.5,348.3 388.8,347.9 389.0,348.2 389.5,348.2 389.8,348.3 390.0,348.5 390.2,348.5 390.5,348.1 391.8,348.1 392.0,348.2 392.5,348.2 392.8,348.5 394.0,348.5 394.2,348.2 394.8,348.2 395.0,348.5 395.5,348.5 395.8,348.1 396.2,348.1 396.5,348.2 397.0,348.2 397.2,348.5 397.8,348.5 398.0,348.4 399.2,348.4 399.5,348.5 399.8,348.4 400.0,348.5 400.8,348.5 401.0,348.3 402.2,348.3 402.5,348.4 403.0,348.4 403.2,348.1 403.8,348.1 404.0,348.3 404.5,348.3 404.8,348.5 405.2,348.5 405.5,348.2 406.0,348.2 406.2,348.5 406.5,348.4 406.8,348.0 407.0,347.9 407.2,348.3 407.5,348.5 407.8,348.1 408.2,348.1 408.5,348.5 409.0,348.5 409.2,348.3 409.5,347.9 409.8,348.1 410.0,348.5 411.2,348.5 411.5,348.1 412.0,348.1 412.2,348.5 413.5,348.5 413.8,348.2 414.8,348.2 415.0,348.0 415.2,348.0 415.5,348.4 416.5,348.4 416.8,348.5 417.2,348.5 417.5,348.4 418.8,348.4 419.0,348.2 419.5,348.2 419.8,348.3 420.2,348.3 420.5,348.2 421.0,348.2 421.2,348.4 421.8,348.4 422.0,348.1 422.5,348.1 422.8,348.4 424.0,348.4 424.2,348.5 424.5,348.5 424.8,348.4 425.0,348.1 425.2,348.2 425.5,348.5 425.8,348.3 426.2,348.3 426.5,348.5 426.8,348.5 427.0,348.4 427.2,348.2 427.8,348.2 428.0,348.5 428.5,348.5 428.8,348.3 430.0,348.3 430.2,348.4 430.8,348.4 431.0,348.3 431.5,348.3 431.8,348.5 432.2,348.5 432.5,348.1 433.0,348.1 433.2,348.5 434.5,348.5 434.8,348.4 435.2,348.4 435.5,348.3 436.0,348.3 436.2,348.5 436.8,348.5 437.0,348.2 437.5,348.2 437.8,348.1 438.2,348.1 438.5,348.5 439.0,348.5 439.2,348.3 439.8,348.3 440.0,348.5 440.2,348.4 440.5,348.2 440.8,348.3 441.0,348.5 441.2,348.5 441.5,348.3 442.0,348.3 442.2,348.5 444.2,348.5 444.5,348.2 445.8,348.2 446.0,348.1 447.2,348.1 447.5,348.5 449.5,348.5 449.8,348.1 450.2,348.1 450.5,348.5 451.0,348.5 451.2,348.2 451.8,348.2 452.0,348.3 452.5,348.3 452.8,348.2 453.2,348.2 453.5,348.4 454.0,348.4 454.2,348.1 454.8,348.1 455.0,348.2 455.5,348.2 455.8,348.1 456.2,348.1 456.5,348.5 457.0,348.5 457.2,348.1 457.8,348.1 458.0,348.3 458.5,348.3 458.8,348.5 459.2,348.5 459.5,348.1 461.5,348.1 461.8,348.3 462.2,348.3 462.5,348.2 463.0,348.2 463.2,348.4 463.8,348.4 464.0,348.5 464.5,348.5 464.8,348.2 465.2,348.2 465.5,348.5 466.0,348.5 466.2,348.4 467.5,348.4 467.8,348.5 468.2,348.5 468.5,348.4 469.8,348.4 470.0,348.5 471.2,348.5 471.5,348.2 473.0,348.2 473.2,348.1 473.5,348.4 473.8,348.5 474.2,348.5 474.5,348.2 475.0,348.2 475.2,348.5 476.5,348.5 476.8,348.3 477.2,348.3 477.5,348.4 478.0,348.4 478.2,348.5 480.0,348.5 480.2,348.6 480.5,348.8 481.5,348.8 481.8,348.6 482.0,348.6 482.2,348.8 484.5,348.8 484.8,348.7 485.0,348.5 485.2,348.5 485.5,348.6 485.8,348.8 488.2,348.8 488.5,348.7 488.8,348.7 489.0,348.8 489.2,348.3 489.5,347.7 489.8,347.7 490.0,348.3 490.2,348.8 491.0,348.8 491.0,348.8" fill="#1f86c0" stroke="none"/>
<polygon points="281.0,361.1 281.0,361.1 301.2,361.1 301.5,360.9 301.8,360.8 302.0,360.9 302.2,361.1 306.5,361.1 306.8,361.0 307.0,361.0 307.2,360.9 307.5,361.0 307.8,361.1 309.8,361.1 310.0,361.0 310.2,361.1 311.8,361.1 312.0,361.0 312.2,361.1 315.5,361.1 315.8,361.0 316.0,360.9 316.2,361.1 321.0,361.1 321.2,361.0 321.5,360.9 321.8,361.0 322.0,361.1 326.5,361.1 326.8,361.0 327.0,361.0 327.2,361.1 329.5,361.1 329.8,361.0 330.0,361.1 357.2,361.1 357.5,360.9 357.8,360.9 358.0,361.1 367.0,361.1 367.2,361.0 367.5,360.9 367.8,360.9 368.0,361.0 368.2,361.1 374.0,361.1 374.2,361.0 374.5,361.0 374.8,361.1 376.2,361.1 376.5,360.9 376.8,361.1 385.2,361.1 385.5,361.0 385.8,361.0 386.0,361.1 388.8,361.1 389.0,360.0 389.5,360.0 389.8,359.6 390.0,359.8 390.2,360.2 390.5,360.4 391.0,360.4 391.2,360.3 392.5,360.3 392.8,360.2 393.0,360.0 393.2,359.1 393.5,358.2 393.8,357.4 394.0,356.5 394.2,356.6 394.5,357.5 394.8,358.4 395.0,359.3 395.2,360.2 395.5,360.3 397.2,360.3 397.5,359.4 397.8,358.3 398.0,357.3 398.2,356.2 398.5,356.0 398.8,357.1 399.0,358.1 399.2,359.2 399.5,360.1 400.0,360.1 400.2,360.2 401.0,360.2 401.2,359.2 401.5,357.3 401.8,355.3 402.0,353.4 402.2,351.5 402.5,352.6 402.8,354.6 403.0,356.5 403.2,358.4 403.5,358.7 403.8,357.7 404.0,357.5 404.2,358.5 404.5,359.5 404.8,360.3 405.2,360.3 405.5,360.1 405.8,360.1 406.0,359.7 406.2,359.2 406.5,359.5 406.8,360.0 407.0,360.2 407.5,360.2 407.8,360.1 408.2,360.1 408.5,360.2 409.2,360.2 409.5,359.9 409.8,360.2 410.0,360.2 410.2,361.1 415.5,361.1 415.8,360.5 416.0,360.3 416.5,360.3 416.8,360.4 417.2,360.4 417.5,360.3 418.0,360.3 418.2,360.6 420.2,360.6 420.5,360.4 421.0,360.4 421.2,360.5 422.5,360.5 422.8,360.4 424.0,360.4 424.2,360.3 425.5,360.3 425.8,360.5 426.2,360.5 426.5,360.7 427.0,360.7 427.2,360.4 427.8,360.4 428.0,360.3 428.5,360.3 428.8,360.5 429.0,360.5 429.2,361.1 437.0,361.1 437.2,360.9 437.5,360.9 437.8,361.0 438.0,361.1 441.2,361.1 441.5,360.9 441.8,360.8 442.0,360.9 442.2,361.1 456.2,361.1 456.5,360.9 456.8,360.9 457.0,361.0 457.2,361.1 481.0,361.1 481.2,360.9 481.5,361.0 481.8,361.1 482.2,361.1 482.5,361.0 482.8,360.9 483.0,360.9 483.2,361.0 483.5,361.1 489.2,361.1 489.5,361.0 489.8,361.0 490.0,361.1 491.0,361.1 491.0,361.1" fill="#1e9a48" stroke="none"/>
<polygon points="281.0,373.4 281.0,373.4 281.2,373.4 281.5,373.3 281.8,373.2 282.0,373.3 282.2,373.2 282.5,373.2 282.8,373.3 283.0,373.3 283.2,373.4 286.2,373.4 286.5,373.3 286.8,373.2 287.0,373.3 287.2,373.4 315.8,373.4 316.0,373.3 316.2,373.3 316.5,373.4 319.2,373.4 319.5,373.3 319.8,373.1 320.0,373.2 320.2,373.4 325.0,373.4 325.2,373.3 325.5,373.4 344.2,373.4 344.5,373.2 344.8,373.2 345.0,373.4 345.5,373.4 345.8,373.3 346.0,373.2 346.2,373.3 346.5,373.4 364.5,373.4 364.8,373.3 365.0,373.2 365.2,373.2 365.5,373.3 365.8,373.4 375.2,373.4 375.5,373.2 375.8,373.2 376.0,373.4 380.8,373.4 381.0,373.3 381.2,373.3 381.5,373.4 383.8,373.4 384.0,373.3 384.2,373.2 384.5,373.3 384.8,373.4 385.0,373.4 385.2,373.3 385.5,373.4 388.8,373.4 389.0,372.5 389.5,372.5 389.8,372.9 390.2,372.9 390.5,373.0 391.0,373.0 391.2,372.9 391.8,372.9 392.0,372.8 392.5,372.8 392.8,372.7 393.2,372.7 393.5,372.5 394.0,372.5 394.2,372.9 394.8,372.9 395.0,372.8 395.2,373.4 396.8,373.4 397.0,372.6 397.2,372.7 397.5,372.7 397.8,372.6 398.0,371.3 398.2,370.0 398.5,368.6 398.8,367.3 399.0,367.0 399.2,368.4 399.5,369.7 399.8,371.0 400.0,372.3 400.2,372.5 400.8,372.5 401.0,372.8 401.2,371.7 401.5,369.9 401.8,368.2 402.0,366.5 402.2,364.8 402.5,365.8 402.8,367.5 403.0,369.3 403.2,371.0 403.5,372.5 405.0,372.5 405.2,371.5 405.5,370.4 405.8,369.4 406.0,368.3 406.2,368.5 406.5,369.6 406.8,370.7 407.0,371.7 407.2,372.6 407.5,372.6 407.8,372.7 408.2,372.7 408.5,372.4 408.8,371.9 409.0,371.4 409.2,371.9 409.5,372.4 409.8,372.4 410.0,372.6 410.2,373.4 417.8,373.4 418.0,372.8 418.2,372.6 418.8,372.6 419.0,372.7 420.2,372.7 420.5,372.6 421.0,372.6 421.2,372.8 422.5,372.8 422.8,372.5 423.2,372.5 423.5,372.6 424.0,372.6 424.2,373.0 424.8,373.0 425.0,372.7 425.5,372.7 425.8,372.6 426.0,372.6 426.2,373.4 430.2,373.4 430.5,373.3 430.8,373.1 431.0,373.2 431.2,373.4 457.5,373.4 457.8,373.3 458.0,373.2 458.2,373.3 458.5,373.4 479.0,373.4 479.2,373.3 479.5,373.2 479.8,373.4 480.8,373.4 481.0,373.3 481.2,373.1 481.5,373.2 481.8,373.4 483.8,373.4 484.0,373.2 484.2,373.2 484.5,373.4 484.8,373.4 485.0,373.2 485.2,373.3 485.5,373.4 491.0,373.4 491.0,373.4" fill="#1e9a48" stroke="none"/>
<polygon points="281.0,385.7 281.0,385.7 282.0,385.7 282.2,385.6 282.5,385.6 282.8,385.7 287.8,385.7 288.0,385.6 288.2,385.7 292.2,385.7 292.5,385.6 292.8,385.5 293.0,385.6 293.2,385.7 295.8,385.7 296.0,385.6 296.2,385.7 320.2,385.7 320.5,385.6 320.8,385.6 321.0,385.7 347.0,385.7 347.2,385.6 347.5,385.7 367.5,385.7 367.8,385.6 368.0,385.6 368.2,385.7 370.2,385.7 370.5,385.6 370.8,385.7 386.2,385.7 386.5,385.6 386.8,385.6 387.0,385.7 388.2,385.7 388.5,385.6 388.8,385.7 389.0,385.2 391.0,385.2 391.2,385.1 391.8,385.1 392.0,385.2 393.2,385.2 393.5,385.1 394.0,385.1 394.2,385.2 394.8,385.2 395.0,385.1 396.2,385.1 396.5,385.2 397.0,385.2 397.2,385.1 397.8,385.1 398.0,384.7 398.2,384.7 398.5,383.5 398.8,381.6 399.0,379.7 399.2,377.8 399.5,377.5 399.8,379.3 400.0,381.2 400.2,383.1 400.5,384.7 400.8,384.7 401.0,384.5 401.2,383.5 401.5,382.0 401.8,380.4 402.0,380.1 402.2,381.7 402.5,383.2 402.8,384.6 403.0,384.6 403.2,384.9 403.8,384.9 404.0,384.8 404.5,384.8 404.8,384.7 405.0,384.7 405.2,383.1 405.5,381.2 405.8,379.3 406.0,377.5 406.2,377.8 406.5,379.7 406.8,381.6 407.0,383.5 407.2,384.9 407.5,384.9 407.8,385.7 417.5,385.7 417.8,385.6 418.0,385.6 418.2,385.7 464.8,385.7 465.0,385.6 465.2,385.6 465.5,385.7 475.0,385.7 475.2,385.6 475.5,385.7 491.0,385.7 491.0,385.7" fill="#1e9a48" stroke="none"/>
<polygon points="281.0,398.0 281.0,398.0 491.0,398.0 491.0,398.0" fill="#1e9a48" stroke="none"/>
<polygon points="281.0,410.3 281.0,410.3 350.2,410.3 350.5,410.2 350.8,409.8 351.0,409.3 351.2,409.8 351.5,410.2 351.8,410.3 354.2,410.3 354.5,410.2 354.8,409.8 355.0,409.3 355.2,409.8 355.5,410.2 355.8,410.3 365.2,410.3 365.5,410.2 365.8,409.8 366.0,409.3 366.2,409.8 366.5,410.2 366.8,410.3 380.2,410.3 380.5,410.2 380.8,409.8 381.0,409.3 381.2,409.8 381.5,410.2 381.8,410.3 491.0,410.3 491.0,410.3" fill="#1e9a48" stroke="none"/>
<polygon points="281.0,422.7 281.0,422.7 491.0,422.7 491.0,422.7" fill="#1e9a48" stroke="none"/>
<rect x="281.00" y="433.39" width="1.00" height="1.57" fill="#9a6cc4"/>
<rect x="282.25" y="433.80" width="1.00" height="1.16" fill="#5c2388"/>
<rect x="287.40" y="433.67" width="0.60" height="1.29" fill="#9a6cc4"/>
<rect x="288.40" y="433.84" width="1.00" height="1.12" fill="#5c2388"/>
<rect x="290.00" y="433.48" width="0.80" height="1.48" fill="#9a6cc4"/>
<rect x="291.40" y="433.19" width="0.60" height="1.77" fill="#5c2388"/>
<rect x="298.00" y="433.59" width="1.00" height="1.37" fill="#5c2388"/>
<rect x="299.25" y="433.50" width="1.00" height="1.46" fill="#5c2388"/>
<rect x="301.00" y="433.67" width="1.00" height="1.29" fill="#9a6cc4"/>
<rect x="302.40" y="433.87" width="0.80" height="1.09" fill="#9a6cc4"/>
<rect x="303.45" y="433.31" width="0.80" height="1.65" fill="#9a6cc4"/>
<rect x="304.50" y="433.26" width="0.80" height="1.70" fill="#9a6cc4"/>
<rect x="305.55" y="433.31" width="0.60" height="1.65" fill="#5c2388"/>
<rect x="306.40" y="433.49" width="0.80" height="1.47" fill="#5c2388"/>
<rect x="309.60" y="433.26" width="0.80" height="1.70" fill="#9a6cc4"/>
<rect x="310.80" y="433.81" width="0.80" height="1.15" fill="#9a6cc4"/>
<rect x="315.00" y="433.63" width="0.60" height="1.33" fill="#9a6cc4"/>
<rect x="315.85" y="433.08" width="0.80" height="1.88" fill="#5c2388"/>
<rect x="317.05" y="433.52" width="1.00" height="1.44" fill="#9a6cc4"/>
<rect x="318.30" y="433.71" width="0.80" height="1.25" fill="#9a6cc4"/>
<rect x="319.50" y="433.28" width="0.80" height="1.68" fill="#9a6cc4"/>
<rect x="323.00" y="433.57" width="1.00" height="1.39" fill="#5c2388"/>
<rect x="324.40" y="433.87" width="1.00" height="1.09" fill="#9a6cc4"/>
<rect x="325.65" y="433.36" width="0.60" height="1.60" fill="#5c2388"/>
<rect x="326.65" y="433.60" width="0.60" height="1.36" fill="#5c2388"/>
<rect x="329.70" y="433.67" width="1.00" height="1.29" fill="#5c2388"/>
<rect x="331.10" y="433.66" width="0.80" height="1.30" fill="#5c2388"/>
<rect x="334.00" y="433.85" width="0.60" height="1.11" fill="#5c2388"/>
<rect x="335.20" y="433.72" width="1.00" height="1.24" fill="#5c2388"/>
<rect x="336.60" y="433.26" width="0.60" height="1.70" fill="#9a6cc4"/>
<rect x="337.60" y="433.44" width="0.80" height="1.52" fill="#5c2388"/>
<rect x="338.65" y="433.87" width="1.00" height="1.09" fill="#5c2388"/>
<rect x="343.40" y="432.87" width="0.80" height="2.09" fill="#5c2388"/>
<rect x="344.45" y="432.47" width="0.60" height="2.49" fill="#9a6cc4"/>
<rect x="345.30" y="432.32" width="0.60" height="2.64" fill="#5c2388"/>
<rect x="346.50" y="432.72" width="1.00" height="2.24" fill="#5c2388"/>
<rect x="350.80" y="432.34" width="0.80" height="2.62" fill="#5c2388"/>
<rect x="351.85" y="433.22" width="1.00" height="1.74" fill="#9a6cc4"/>
<rect x="356.00" y="433.14" width="0.60" height="1.82" fill="#5c2388"/>
<rect x="356.85" y="432.90" width="0.60" height="2.06" fill="#9a6cc4"/>
<rect x="357.70" y="433.03" width="1.00" height="1.93" fill="#5c2388"/>
<rect x="358.95" y="432.32" width="0.80" height="2.64" fill="#9a6cc4"/>
<rect x="361.40" y="432.36" width="1.00" height="2.60" fill="#5c2388"/>
<rect x="362.65" y="431.46" width="0.80" height="3.50" fill="#5c2388"/>
<rect x="364.05" y="431.59" width="0.80" height="3.37" fill="#9a6cc4"/>
<rect x="365.10" y="432.36" width="1.00" height="2.60" fill="#5c2388"/>
<rect x="366.70" y="432.75" width="0.80" height="2.21" fill="#5c2388"/>
<rect x="367.75" y="431.34" width="0.60" height="3.62" fill="#9a6cc4"/>
<rect x="368.60" y="432.39" width="1.00" height="2.57" fill="#9a6cc4"/>
<rect x="375.00" y="429.92" width="1.00" height="5.04" fill="#9a6cc4"/>
<rect x="376.40" y="430.47" width="0.80" height="4.49" fill="#9a6cc4"/>
<rect x="377.45" y="430.06" width="0.80" height="4.90" fill="#5c2388"/>
<rect x="378.65" y="431.27" width="1.00" height="3.69" fill="#9a6cc4"/>
<rect x="379.90" y="430.65" width="1.00" height="4.31" fill="#5c2388"/>
<rect x="384.60" y="430.73" width="1.00" height="4.23" fill="#5c2388"/>
<rect x="386.00" y="430.55" width="0.60" height="4.41" fill="#5c2388"/>
<rect x="386.85" y="429.62" width="0.60" height="5.34" fill="#5c2388"/>
<rect x="388.05" y="430.48" width="1.00" height="4.48" fill="#9a6cc4"/>
<rect x="396.30" y="430.73" width="1.00" height="4.23" fill="#9a6cc4"/>
<rect x="400.40" y="430.89" width="1.00" height="4.07" fill="#9a6cc4"/>
<rect x="402.00" y="431.03" width="0.60" height="3.93" fill="#5c2388"/>
<rect x="402.85" y="432.00" width="0.80" height="2.96" fill="#9a6cc4"/>
<rect x="403.90" y="431.49" width="1.00" height="3.47" fill="#9a6cc4"/>
<rect x="405.15" y="431.35" width="0.80" height="3.61" fill="#5c2388"/>
<rect x="410.70" y="430.29" width="0.80" height="4.67" fill="#9a6cc4"/>
<rect x="411.90" y="429.85" width="0.60" height="5.11" fill="#9a6cc4"/>
<rect x="412.90" y="431.30" width="0.60" height="3.66" fill="#5c2388"/>
<rect x="418.00" y="431.90" width="0.80" height="3.06" fill="#5c2388"/>
<rect x="419.05" y="431.96" width="0.80" height="3.00" fill="#9a6cc4"/>
<rect x="420.10" y="432.07" width="0.80" height="2.89" fill="#9a6cc4"/>
<rect x="421.15" y="430.86" width="0.80" height="4.10" fill="#5c2388"/>
<rect x="422.55" y="430.02" width="0.80" height="4.94" fill="#5c2388"/>
<rect x="423.60" y="431.00" width="0.80" height="3.96" fill="#9a6cc4"/>
<rect x="427.00" y="430.19" width="0.60" height="4.77" fill="#9a6cc4"/>
<rect x="428.20" y="430.54" width="0.60" height="4.42" fill="#5c2388"/>
<rect x="429.05" y="430.20" width="0.60" height="4.76" fill="#5c2388"/>
<rect x="430.25" y="431.87" width="0.60" height="3.09" fill="#9a6cc4"/>
<rect x="431.25" y="431.27" width="0.60" height="3.69" fill="#9a6cc4"/>
<rect x="432.10" y="431.92" width="0.80" height="3.04" fill="#9a6cc4"/>
<rect x="433.15" y="431.80" width="1.00" height="3.16" fill="#5c2388"/>
<rect x="437.50" y="431.90" width="1.00" height="3.06" fill="#9a6cc4"/>
<rect x="438.90" y="432.33" width="1.00" height="2.63" fill="#5c2388"/>
<rect x="440.50" y="432.49" width="0.60" height="2.47" fill="#5c2388"/>
<rect x="441.35" y="432.68" width="0.60" height="2.28" fill="#5c2388"/>
<rect x="442.55" y="431.69" width="0.80" height="3.27" fill="#5c2388"/>
<rect x="443.60" y="431.52" width="1.00" height="3.44" fill="#9a6cc4"/>
<rect x="445.00" y="432.22" width="0.60" height="2.74" fill="#5c2388"/>
<rect x="446.00" y="432.82" width="1.00" height="2.14" fill="#5c2388"/>
<rect x="449.80" y="431.71" width="0.80" height="3.25" fill="#5c2388"/>
<rect x="451.00" y="431.56" width="0.80" height="3.40" fill="#5c2388"/>
<rect x="452.05" y="431.95" width="0.80" height="3.01" fill="#9a6cc4"/>
<rect x="455.00" y="431.51" width="0.80" height="3.45" fill="#9a6cc4"/>
<rect x="456.40" y="431.38" width="0.80" height="3.58" fill="#9a6cc4"/>
<rect x="457.60" y="431.45" width="0.80" height="3.51" fill="#5c2388"/>
<rect x="458.65" y="431.52" width="1.00" height="3.44" fill="#9a6cc4"/>
<rect x="460.25" y="432.75" width="0.60" height="2.21" fill="#9a6cc4"/>
<rect x="464.20" y="433.23" width="0.80" height="1.73" fill="#5c2388"/>
<rect x="465.25" y="433.54" width="0.80" height="1.42" fill="#9a6cc4"/>
<rect x="466.30" y="433.65" width="1.00" height="1.31" fill="#5c2388"/>
<rect x="467.90" y="433.17" width="1.00" height="1.79" fill="#5c2388"/>
<rect x="469.30" y="433.18" width="0.60" height="1.78" fill="#5c2388"/>
<rect x="470.50" y="433.52" width="1.00" height="1.44" fill="#9a6cc4"/>
<rect x="471.75" y="433.49" width="0.80" height="1.47" fill="#5c2388"/>
<rect x="472.95" y="433.76" width="1.00" height="1.20" fill="#5c2388"/>
<rect x="474.55" y="433.49" width="0.80" height="1.47" fill="#9a6cc4"/>
<rect x="475.95" y="433.47" width="0.80" height="1.49" fill="#5c2388"/>
<line x1="281.00" y1="435.16" x2="491.00" y2="435.16" stroke="#c8b0dc" stroke-width="0.6" />
<rect x="281.00" y="446.06" width="0.60" height="1.21" fill="#5c2388"/>
<rect x="281.85" y="445.86" width="1.00" height="1.41" fill="#5c2388"/>
<rect x="287.40" y="445.93" width="1.00" height="1.34" fill="#5c2388"/>
<rect x="289.00" y="446.10" width="0.60" height="1.17" fill="#5c2388"/>
<rect x="289.85" y="445.84" width="0.60" height="1.43" fill="#9a6cc4"/>
<rect x="290.85" y="446.08" width="0.60" height="1.19" fill="#5c2388"/>
<rect x="298.00" y="445.57" width="1.00" height="1.70" fill="#9a6cc4"/>
<rect x="299.25" y="445.59" width="0.80" height="1.68" fill="#5c2388"/>
<rect x="301.00" y="446.06" width="0.60" height="1.21" fill="#5c2388"/>
<rect x="301.85" y="445.68" width="1.00" height="1.59" fill="#5c2388"/>
<rect x="303.25" y="445.86" width="0.80" height="1.41" fill="#5c2388"/>
<rect x="304.45" y="445.73" width="0.80" height="1.54" fill="#9a6cc4"/>
<rect x="305.85" y="445.40" width="0.60" height="1.87" fill="#5c2388"/>
<rect x="306.85" y="445.44" width="1.00" height="1.83" fill="#5c2388"/>
<rect x="309.60" y="445.99" width="0.60" height="1.28" fill="#9a6cc4"/>
<rect x="310.80" y="445.58" width="0.80" height="1.69" fill="#9a6cc4"/>
<rect x="315.00" y="445.51" width="1.00" height="1.76" fill="#9a6cc4"/>
<rect x="316.60" y="445.97" width="1.00" height="1.30" fill="#5c2388"/>
<rect x="318.00" y="446.11" width="0.60" height="1.16" fill="#5c2388"/>
<rect x="319.20" y="445.97" width="0.80" height="1.30" fill="#9a6cc4"/>
<rect x="323.00" y="445.51" width="0.80" height="1.76" fill="#5c2388"/>
<rect x="324.40" y="445.99" width="0.60" height="1.28" fill="#9a6cc4"/>
<rect x="325.40" y="445.52" width="0.60" height="1.75" fill="#9a6cc4"/>
<rect x="326.60" y="446.16" width="0.80" height="1.11" fill="#9a6cc4"/>
<rect x="329.70" y="445.62" width="1.00" height="1.65" fill="#5c2388"/>
<rect x="331.10" y="446.18" width="0.80" height="1.09" fill="#9a6cc4"/>
<rect x="334.00" y="445.93" width="1.00" height="1.34" fill="#5c2388"/>
<rect x="335.60" y="445.57" width="0.60" height="1.70" fill="#5c2388"/>
<rect x="336.80" y="445.72" width="1.00" height="1.55" fill="#5c2388"/>
<rect x="338.40" y="445.71" width="0.80" height="1.56" fill="#5c2388"/>
<rect x="339.60" y="445.90" width="0.60" height="1.37" fill="#9a6cc4"/>
<rect x="343.40" y="445.36" width="0.80" height="1.91" fill="#5c2388"/>
<rect x="344.45" y="444.82" width="0.80" height="2.45" fill="#5c2388"/>
<rect x="345.50" y="445.42" width="0.60" height="1.85" fill="#5c2388"/>
<rect x="346.50" y="444.64" width="0.80" height="2.63" fill="#5c2388"/>
<rect x="350.80" y="445.67" width="1.00" height="1.60" fill="#5c2388"/>
<rect x="352.20" y="445.38" width="0.60" height="1.89" fill="#5c2388"/>
<rect x="356.00" y="445.58" width="1.00" height="1.69" fill="#5c2388"/>
<rect x="357.25" y="444.83" width="0.80" height="2.44" fill="#5c2388"/>
<rect x="358.65" y="445.06" width="1.00" height="2.21" fill="#9a6cc4"/>
<rect x="361.40" y="444.27" width="1.00" height="3.00" fill="#5c2388"/>
<rect x="363.00" y="445.14" width="0.60" height="2.13" fill="#5c2388"/>
<rect x="363.85" y="443.66" width="0.80" height="3.61" fill="#9a6cc4"/>
<rect x="364.90" y="443.56" width="0.80" height="3.71" fill="#5c2388"/>
<rect x="366.70" y="445.09" width="0.80" height="2.18" fill="#9a6cc4"/>
<rect x="368.10" y="445.11" width="1.00" height="2.16" fill="#9a6cc4"/>
<rect x="375.00" y="441.90" width="0.80" height="5.37" fill="#9a6cc4"/>
<rect x="376.40" y="442.60" width="0.80" height="4.67" fill="#5c2388"/>
<rect x="377.45" y="442.52" width="1.00" height="4.75" fill="#9a6cc4"/>
<rect x="378.70" y="442.79" width="0.80" height="4.48" fill="#5c2388"/>
<rect x="380.10" y="442.67" width="0.60" height="4.60" fill="#9a6cc4"/>
<rect x="384.60" y="443.53" width="1.00" height="3.74" fill="#9a6cc4"/>
<rect x="385.85" y="441.06" width="0.80" height="6.21" fill="#5c2388"/>
<rect x="387.25" y="441.94" width="0.80" height="5.33" fill="#5c2388"/>
<rect x="388.45" y="442.11" width="0.80" height="5.16" fill="#5c2388"/>
<rect x="396.30" y="442.88" width="0.60" height="4.39" fill="#9a6cc4"/>
<rect x="400.40" y="442.18" width="1.00" height="5.09" fill="#9a6cc4"/>
<rect x="401.65" y="443.74" width="0.60" height="3.53" fill="#5c2388"/>
<rect x="402.85" y="442.62" width="1.00" height="4.65" fill="#9a6cc4"/>
<rect x="404.45" y="443.47" width="0.80" height="3.80" fill="#5c2388"/>
<rect x="410.70" y="442.36" width="0.60" height="4.91" fill="#5c2388"/>
<rect x="411.90" y="442.40" width="0.80" height="4.87" fill="#5c2388"/>
<rect x="413.10" y="443.89" width="0.60" height="3.38" fill="#5c2388"/>
<rect x="418.00" y="444.40" width="1.00" height="2.87" fill="#9a6cc4"/>
<rect x="419.40" y="443.19" width="0.60" height="4.08" fill="#5c2388"/>
<rect x="420.60" y="442.53" width="0.80" height="4.74" fill="#5c2388"/>
<rect x="421.80" y="442.77" width="0.80" height="4.50" fill="#5c2388"/>
<rect x="423.20" y="443.22" width="0.60" height="4.05" fill="#5c2388"/>
<rect x="427.00" y="442.32" width="0.60" height="4.95" fill="#9a6cc4"/>
<rect x="427.85" y="442.76" width="1.00" height="4.51" fill="#5c2388"/>
<rect x="429.10" y="443.50" width="0.60" height="3.77" fill="#5c2388"/>
<rect x="430.10" y="442.97" width="0.60" height="4.30" fill="#5c2388"/>
<rect x="430.95" y="442.14" width="0.60" height="5.13" fill="#5c2388"/>
<rect x="431.80" y="444.28" width="0.60" height="2.99" fill="#5c2388"/>
<rect x="432.65" y="443.70" width="0.60" height="3.57" fill="#9a6cc4"/>
<rect x="437.50" y="444.16" width="0.60" height="3.11" fill="#9a6cc4"/>
<rect x="438.35" y="444.56" width="1.00" height="2.71" fill="#9a6cc4"/>
<rect x="439.95" y="444.25" width="0.60" height="3.02" fill="#5c2388"/>
<rect x="441.15" y="444.75" width="0.60" height="2.52" fill="#9a6cc4"/>
<rect x="442.35" y="444.49" width="0.80" height="2.78" fill="#5c2388"/>
<rect x="443.55" y="443.69" width="0.60" height="3.58" fill="#9a6cc4"/>
<rect x="444.55" y="444.78" width="0.60" height="2.49" fill="#9a6cc4"/>
<rect x="445.55" y="445.14" width="0.60" height="2.13" fill="#9a6cc4"/>
<rect x="449.80" y="444.45" width="0.60" height="2.82" fill="#5c2388"/>
<rect x="451.00" y="444.40" width="0.60" height="2.87" fill="#9a6cc4"/>
<rect x="452.20" y="445.06" width="1.00" height="2.21" fill="#9a6cc4"/>
<rect x="455.00" y="444.77" width="0.60" height="2.50" fill="#9a6cc4"/>
<rect x="455.85" y="443.98" width="0.60" height="3.29" fill="#9a6cc4"/>
<rect x="456.85" y="444.84" width="0.80" height="2.43" fill="#5c2388"/>
<rect x="458.05" y="445.02" width="1.00" height="2.25" fill="#9a6cc4"/>
<rect x="459.65" y="443.71" width="1.00" height="3.56" fill="#5c2388"/>
<rect x="464.20" y="445.41" width="0.60" height="1.86" fill="#5c2388"/>
<rect x="465.40" y="445.41" width="1.00" height="1.86" fill="#9a6cc4"/>
<rect x="467.00" y="446.03" width="0.80" height="1.24" fill="#5c2388"/>
<rect x="468.40" y="445.68" width="0.80" height="1.59" fill="#9a6cc4"/>
<rect x="469.80" y="446.17" width="1.00" height="1.10" fill="#5c2388"/>
<rect x="471.05" y="445.59" width="0.60" height="1.68" fill="#9a6cc4"/>
<rect x="472.05" y="445.94" width="1.00" height="1.33" fill="#5c2388"/>
<rect x="473.30" y="445.48" width="0.60" height="1.79" fill="#9a6cc4"/>
<rect x="474.15" y="445.44" width="0.80" height="1.83" fill="#9a6cc4"/>
<rect x="475.20" y="445.85" width="0.80" height="1.42" fill="#5c2388"/>
<rect x="476.40" y="445.84" width="0.60" height="1.43" fill="#9a6cc4"/>
<line x1="281.00" y1="447.47" x2="491.00" y2="447.47" stroke="#c8b0dc" stroke-width="0.6" />
<rect x="281.00" y="457.98" width="1.00" height="1.60" fill="#5c2388"/>
<rect x="282.60" y="458.27" width="0.80" height="1.31" fill="#5c2388"/>
<rect x="287.40" y="458.00" width="0.60" height="1.58" fill="#5c2388"/>
<rect x="288.60" y="458.03" width="0.80" height="1.55" fill="#5c2388"/>
<rect x="290.00" y="457.90" width="1.00" height="1.68" fill="#9a6cc4"/>
<rect x="291.25" y="458.41" width="1.00" height="1.17" fill="#9a6cc4"/>
<rect x="298.00" y="457.87" width="0.80" height="1.71" fill="#5c2388"/>
<rect x="299.05" y="457.81" width="1.00" height="1.77" fill="#9a6cc4"/>
<rect x="301.00" y="458.13" width="1.00" height="1.45" fill="#5c2388"/>
<rect x="302.25" y="457.78" width="0.80" height="1.80" fill="#9a6cc4"/>
<rect x="303.30" y="458.46" width="0.80" height="1.12" fill="#5c2388"/>
<rect x="304.35" y="458.21" width="0.60" height="1.37" fill="#9a6cc4"/>
<rect x="305.20" y="458.37" width="0.60" height="1.21" fill="#9a6cc4"/>
<rect x="306.20" y="458.45" width="0.60" height="1.13" fill="#9a6cc4"/>
<rect x="307.40" y="457.86" width="0.60" height="1.72" fill="#9a6cc4"/>
<rect x="309.60" y="457.69" width="0.60" height="1.89" fill="#5c2388"/>
<rect x="310.80" y="457.98" width="0.60" height="1.60" fill="#5c2388"/>
<rect x="315.00" y="458.41" width="0.60" height="1.17" fill="#5c2388"/>
<rect x="316.00" y="457.73" width="0.60" height="1.85" fill="#9a6cc4"/>
<rect x="317.20" y="457.84" width="0.60" height="1.74" fill="#9a6cc4"/>
<rect x="318.05" y="458.39" width="0.60" height="1.19" fill="#9a6cc4"/>
<rect x="319.25" y="457.87" width="0.60" height="1.71" fill="#9a6cc4"/>
<rect x="323.00" y="458.14" width="1.00" height="1.44" fill="#9a6cc4"/>
<rect x="324.60" y="458.27" width="0.60" height="1.31" fill="#5c2388"/>
<rect x="325.60" y="457.88" width="0.60" height="1.70" fill="#5c2388"/>
<rect x="326.80" y="458.32" width="0.60" height="1.26" fill="#5c2388"/>
<rect x="329.70" y="458.49" width="0.80" height="1.09" fill="#5c2388"/>
<rect x="330.90" y="457.75" width="0.60" height="1.83" fill="#9a6cc4"/>
<rect x="334.00" y="458.15" width="0.60" height="1.43" fill="#5c2388"/>
<rect x="335.20" y="457.80" width="1.00" height="1.78" fill="#5c2388"/>
<rect x="336.60" y="458.16" width="0.80" height="1.42" fill="#9a6cc4"/>
<rect x="337.80" y="458.19" width="1.00" height="1.39" fill="#9a6cc4"/>
<rect x="339.40" y="458.00" width="0.80" height="1.58" fill="#9a6cc4"/>
<rect x="343.40" y="457.85" width="0.80" height="1.73" fill="#5c2388"/>
<rect x="344.80" y="457.99" width="0.80" height="1.59" fill="#9a6cc4"/>
<rect x="345.85" y="457.30" width="1.00" height="2.28" fill="#9a6cc4"/>
<rect x="347.45" y="456.74" width="1.00" height="2.84" fill="#9a6cc4"/>
<rect x="350.80" y="457.65" width="0.80" height="1.93" fill="#9a6cc4"/>
<rect x="351.85" y="457.34" width="0.60" height="2.24" fill="#5c2388"/>
<rect x="352.70" y="457.60" width="0.80" height="1.98" fill="#5c2388"/>
<rect x="356.00" y="456.78" width="0.60" height="2.80" fill="#5c2388"/>
<rect x="357.20" y="457.81" width="0.60" height="1.77" fill="#9a6cc4"/>
<rect x="358.40" y="457.20" width="0.80" height="2.38" fill="#5c2388"/>
<rect x="361.40" y="456.13" width="1.00" height="3.45" fill="#5c2388"/>
<rect x="362.80" y="456.01" width="0.80" height="3.57" fill="#9a6cc4"/>
<rect x="363.85" y="456.36" width="1.00" height="3.22" fill="#9a6cc4"/>
<rect x="365.25" y="457.17" width="0.80" height="2.41" fill="#9a6cc4"/>
<rect x="366.70" y="456.18" width="0.60" height="3.40" fill="#9a6cc4"/>
<rect x="367.70" y="456.41" width="0.80" height="3.17" fill="#5c2388"/>
<rect x="368.75" y="456.14" width="1.00" height="3.44" fill="#5c2388"/>
<rect x="375.00" y="455.07" width="0.60" height="4.51" fill="#5c2388"/>
<rect x="375.85" y="456.30" width="1.00" height="3.28" fill="#5c2388"/>
<rect x="377.45" y="455.91" width="0.60" height="3.67" fill="#9a6cc4"/>
<rect x="378.45" y="455.68" width="0.60" height="3.90" fill="#5c2388"/>
<rect x="379.65" y="455.60" width="0.60" height="3.98" fill="#5c2388"/>
<rect x="384.60" y="453.73" width="0.80" height="5.85" fill="#9a6cc4"/>
<rect x="385.80" y="454.61" width="0.60" height="4.97" fill="#9a6cc4"/>
<rect x="387.00" y="455.70" width="0.80" height="3.88" fill="#5c2388"/>
<rect x="388.20" y="454.46" width="0.80" height="5.12" fill="#5c2388"/>
<rect x="396.30" y="456.15" width="0.60" height="3.43" fill="#5c2388"/>
<rect x="400.40" y="456.15" width="1.00" height="3.43" fill="#9a6cc4"/>
<rect x="401.80" y="455.44" width="1.00" height="4.14" fill="#9a6cc4"/>
<rect x="403.40" y="456.06" width="0.80" height="3.52" fill="#9a6cc4"/>
<rect x="404.45" y="454.49" width="0.60" height="5.09" fill="#9a6cc4"/>
<rect x="405.30" y="455.84" width="0.60" height="3.74" fill="#5c2388"/>
<rect x="410.70" y="454.53" width="0.80" height="5.05" fill="#5c2388"/>
<rect x="411.75" y="456.46" width="0.80" height="3.12" fill="#5c2388"/>
<rect x="412.95" y="455.65" width="0.60" height="3.93" fill="#5c2388"/>
<rect x="418.00" y="455.75" width="1.00" height="3.83" fill="#5c2388"/>
<rect x="419.40" y="456.08" width="0.80" height="3.50" fill="#5c2388"/>
<rect x="420.80" y="454.62" width="0.60" height="4.96" fill="#9a6cc4"/>
<rect x="422.00" y="455.07" width="1.00" height="4.51" fill="#5c2388"/>
<rect x="423.25" y="454.77" width="1.00" height="4.81" fill="#5c2388"/>
<rect x="427.00" y="455.82" width="0.60" height="3.76" fill="#5c2388"/>
<rect x="428.20" y="454.69" width="0.60" height="4.89" fill="#9a6cc4"/>
<rect x="429.20" y="454.77" width="0.80" height="4.81" fill="#5c2388"/>
<rect x="430.25" y="455.50" width="0.80" height="4.08" fill="#5c2388"/>
<rect x="431.65" y="456.30" width="0.80" height="3.28" fill="#9a6cc4"/>
<rect x="433.05" y="454.74" width="0.80" height="4.84" fill="#5c2388"/>
<rect x="437.50" y="456.66" width="0.80" height="2.92" fill="#9a6cc4"/>
<rect x="438.70" y="457.16" width="0.60" height="2.42" fill="#5c2388"/>
<rect x="439.55" y="457.34" width="0.80" height="2.24" fill="#5c2388"/>
<rect x="440.75" y="457.06" width="1.00" height="2.52" fill="#9a6cc4"/>
<rect x="442.00" y="456.23" width="0.80" height="3.35" fill="#5c2388"/>
<rect x="443.40" y="456.09" width="0.60" height="3.49" fill="#5c2388"/>
<rect x="444.60" y="456.76" width="0.60" height="2.82" fill="#9a6cc4"/>
<rect x="445.45" y="457.45" width="1.00" height="2.13" fill="#5c2388"/>
<rect x="449.80" y="456.88" width="0.60" height="2.70" fill="#5c2388"/>
<rect x="450.65" y="457.59" width="0.60" height="1.99" fill="#5c2388"/>
<rect x="451.50" y="457.26" width="1.00" height="2.32" fill="#5c2388"/>
<rect x="455.00" y="456.49" width="0.80" height="3.09" fill="#5c2388"/>
<rect x="456.05" y="457.13" width="0.60" height="2.45" fill="#5c2388"/>
<rect x="457.05" y="456.30" width="0.80" height="3.28" fill="#5c2388"/>
<rect x="458.25" y="456.95" width="1.00" height="2.63" fill="#9a6cc4"/>
<rect x="459.65" y="456.18" width="0.60" height="3.40" fill="#5c2388"/>
<rect x="460.65" y="457.51" width="1.00" height="2.07" fill="#5c2388"/>
<rect x="464.20" y="458.07" width="1.00" height="1.51" fill="#5c2388"/>
<rect x="465.80" y="458.30" width="1.00" height="1.28" fill="#5c2388"/>
<rect x="467.20" y="458.20" width="0.80" height="1.38" fill="#9a6cc4"/>
<rect x="468.40" y="458.38" width="1.00" height="1.20" fill="#5c2388"/>
<rect x="469.65" y="457.76" width="1.00" height="1.82" fill="#5c2388"/>
<rect x="471.05" y="457.93" width="0.80" height="1.65" fill="#9a6cc4"/>
<rect x="472.10" y="457.92" width="0.60" height="1.66" fill="#9a6cc4"/>
<rect x="473.30" y="457.78" width="0.80" height="1.80" fill="#9a6cc4"/>
<rect x="474.35" y="457.87" width="0.80" height="1.71" fill="#5c2388"/>
<rect x="475.75" y="458.34" width="0.60" height="1.24" fill="#5c2388"/>
<line x1="281.00" y1="459.78" x2="491.00" y2="459.78" stroke="#c8b0dc" stroke-width="0.6" />
<rect x="281.00" y="468.10" width="0.80" height="3.79" fill="#9a6cc4"/>
<rect x="282.40" y="465.95" width="1.00" height="5.94" fill="#5c2388"/>
<rect x="287.40" y="468.38" width="0.60" height="3.51" fill="#5c2388"/>
<rect x="288.25" y="467.91" width="0.60" height="3.98" fill="#9a6cc4"/>
<rect x="289.10" y="467.02" width="0.80" height="4.87" fill="#5c2388"/>
<rect x="290.30" y="466.57" width="0.80" height="5.32" fill="#5c2388"/>
<rect x="298.00" y="468.03" width="0.80" height="3.86" fill="#5c2388"/>
<rect x="299.40" y="466.63" width="1.00" height="5.26" fill="#9a6cc4"/>
<rect x="301.00" y="467.95" width="0.60" height="3.94" fill="#9a6cc4"/>
<rect x="302.00" y="467.14" width="0.80" height="4.75" fill="#9a6cc4"/>
<rect x="303.40" y="468.09" width="1.00" height="3.80" fill="#5c2388"/>
<rect x="304.65" y="468.29" width="1.00" height="3.60" fill="#5c2388"/>
<rect x="305.90" y="466.56" width="0.80" height="5.33" fill="#5c2388"/>
<rect x="307.30" y="468.04" width="0.80" height="3.85" fill="#5c2388"/>
<rect x="309.60" y="467.46" width="0.60" height="4.43" fill="#5c2388"/>
<rect x="310.60" y="466.86" width="1.00" height="5.03" fill="#5c2388"/>
<rect x="315.00" y="468.51" width="0.80" height="3.38" fill="#5c2388"/>
<rect x="316.40" y="466.08" width="1.00" height="5.81" fill="#9a6cc4"/>
<rect x="317.80" y="467.18" width="1.00" height="4.71" fill="#5c2388"/>
<rect x="319.20" y="467.65" width="0.60" height="4.24" fill="#5c2388"/>
<rect x="323.00" y="466.86" width="0.80" height="5.03" fill="#5c2388"/>
<rect x="324.40" y="468.22" width="0.80" height="3.67" fill="#9a6cc4"/>
<rect x="325.45" y="466.36" width="0.60" height="5.53" fill="#5c2388"/>
<rect x="326.65" y="466.30" width="0.60" height="5.59" fill="#9a6cc4"/>
<rect x="329.70" y="468.15" width="1.00" height="3.74" fill="#5c2388"/>
<rect x="331.30" y="468.03" width="1.00" height="3.86" fill="#5c2388"/>
<rect x="334.00" y="467.25" width="0.60" height="4.64" fill="#9a6cc4"/>
<rect x="335.00" y="467.35" width="0.60" height="4.54" fill="#5c2388"/>
<rect x="336.20" y="466.29" width="1.00" height="5.60" fill="#9a6cc4"/>
<rect x="337.60" y="467.97" width="0.60" height="3.92" fill="#9a6cc4"/>
<rect x="338.45" y="467.88" width="0.60" height="4.01" fill="#9a6cc4"/>
<rect x="339.30" y="467.26" width="0.60" height="4.63" fill="#5c2388"/>
<rect x="343.40" y="466.89" width="1.00" height="5.00" fill="#5c2388"/>
<rect x="344.65" y="468.59" width="0.80" height="3.30" fill="#5c2388"/>
<rect x="345.70" y="466.92" width="0.80" height="4.97" fill="#5c2388"/>
<rect x="346.75" y="466.43" width="0.80" height="5.46" fill="#5c2388"/>
<rect x="350.80" y="466.26" width="0.80" height="5.63" fill="#5c2388"/>
<rect x="352.20" y="466.21" width="1.00" height="5.68" fill="#9a6cc4"/>
<rect x="356.00" y="468.38" width="0.60" height="3.51" fill="#9a6cc4"/>
<rect x="357.00" y="467.68" width="0.80" height="4.21" fill="#5c2388"/>
<rect x="358.20" y="467.78" width="1.00" height="4.11" fill="#9a6cc4"/>
<rect x="361.40" y="464.71" width="0.80" height="7.18" fill="#5c2388"/>
<rect x="362.45" y="464.21" width="0.80" height="7.68" fill="#9a6cc4"/>
<rect x="363.85" y="465.31" width="0.80" height="6.58" fill="#5c2388"/>
<rect x="365.25" y="465.97" width="0.80" height="5.92" fill="#5c2388"/>
<rect x="366.70" y="465.31" width="1.00" height="6.58" fill="#9a6cc4"/>
<rect x="368.30" y="464.19" width="0.80" height="7.70" fill="#9a6cc4"/>
<rect x="375.00" y="466.76" width="0.80" height="5.13" fill="#9a6cc4"/>
<rect x="376.05" y="464.91" width="1.00" height="6.98" fill="#5c2388"/>
<rect x="377.65" y="466.40" width="1.00" height="5.49" fill="#9a6cc4"/>
<rect x="378.90" y="464.05" width="0.80" height="7.84" fill="#5c2388"/>
<rect x="379.95" y="465.64" width="0.60" height="6.25" fill="#5c2388"/>
<rect x="384.60" y="463.51" width="1.00" height="8.38" fill="#5c2388"/>
<rect x="385.85" y="462.75" width="0.60" height="9.14" fill="#5c2388"/>
<rect x="387.05" y="465.71" width="0.60" height="6.18" fill="#5c2388"/>
<rect x="388.25" y="463.24" width="0.80" height="8.65" fill="#9a6cc4"/>
<rect x="396.30" y="466.28" width="1.00" height="5.61" fill="#9a6cc4"/>
<rect x="400.40" y="464.89" width="0.80" height="7.00" fill="#9a6cc4"/>
<rect x="401.60" y="467.01" width="0.80" height="4.88" fill="#5c2388"/>
<rect x="403.00" y="467.69" width="0.60" height="4.20" fill="#5c2388"/>
<rect x="403.85" y="467.85" width="1.00" height="4.04" fill="#5c2388"/>
<rect x="405.45" y="467.67" width="0.60" height="4.22" fill="#9a6cc4"/>
<rect x="410.70" y="466.50" width="1.00" height="5.39" fill="#5c2388"/>
<rect x="412.10" y="466.22" width="0.60" height="5.67" fill="#9a6cc4"/>
<rect x="413.10" y="465.76" width="1.00" height="6.13" fill="#5c2388"/>
<rect x="418.00" y="465.62" width="1.00" height="6.27" fill="#9a6cc4"/>
<rect x="419.40" y="466.36" width="0.60" height="5.53" fill="#5c2388"/>
<rect x="420.40" y="467.17" width="0.80" height="4.72" fill="#9a6cc4"/>
<rect x="421.60" y="465.28" width="0.60" height="6.61" fill="#5c2388"/>
<rect x="422.45" y="467.66" width="0.60" height="4.23" fill="#5c2388"/>
<rect x="423.65" y="465.62" width="1.00" height="6.27" fill="#5c2388"/>
<rect x="427.00" y="464.86" width="0.80" height="7.03" fill="#5c2388"/>
<rect x="428.05" y="465.42" width="0.60" height="6.47" fill="#5c2388"/>
<rect x="429.25" y="465.26" width="0.80" height="6.63" fill="#5c2388"/>
<rect x="430.45" y="465.83" width="0.80" height="6.06" fill="#9a6cc4"/>
<rect x="431.50" y="466.88" width="0.60" height="5.01" fill="#9a6cc4"/>
<rect x="432.50" y="465.50" width="1.00" height="6.39" fill="#5c2388"/>
<rect x="437.50" y="468.01" width="1.00" height="3.88" fill="#9a6cc4"/>
<rect x="438.75" y="468.77" width="0.80" height="3.12" fill="#5c2388"/>
<rect x="439.95" y="467.37" width="0.60" height="4.52" fill="#5c2388"/>
<rect x="441.15" y="467.83" width="0.60" height="4.06" fill="#5c2388"/>
<rect x="442.15" y="468.48" width="0.80" height="3.41" fill="#5c2388"/>
<rect x="443.35" y="468.72" width="0.60" height="3.17" fill="#5c2388"/>
<rect x="444.55" y="468.52" width="0.80" height="3.37" fill="#9a6cc4"/>
<rect x="445.75" y="468.67" width="0.60" height="3.22" fill="#5c2388"/>
<rect x="449.80" y="468.87" width="0.60" height="3.02" fill="#5c2388"/>
<rect x="450.65" y="468.31" width="0.80" height="3.58" fill="#5c2388"/>
<rect x="451.85" y="469.06" width="0.60" height="2.83" fill="#9a6cc4"/>
<rect x="455.00" y="467.73" width="1.00" height="4.16" fill="#5c2388"/>
<rect x="456.40" y="469.25" width="0.80" height="2.64" fill="#5c2388"/>
<rect x="457.60" y="468.57" width="0.60" height="3.32" fill="#5c2388"/>
<rect x="458.60" y="468.70" width="0.80" height="3.19" fill="#9a6cc4"/>
<rect x="460.00" y="467.89" width="0.60" height="4.00" fill="#9a6cc4"/>
<rect x="460.85" y="468.42" width="1.00" height="3.47" fill="#9a6cc4"/>
<rect x="464.20" y="470.01" width="1.00" height="1.88" fill="#5c2388"/>
<rect x="465.60" y="469.69" width="0.80" height="2.20" fill="#5c2388"/>
<rect x="466.65" y="470.07" width="0.60" height="1.82" fill="#5c2388"/>
<rect x="467.50" y="470.07" width="1.00" height="1.82" fill="#5c2388"/>
<rect x="469.10" y="470.07" width="0.60" height="1.82" fill="#9a6cc4"/>
<rect x="469.95" y="469.54" width="0.80" height="2.35" fill="#9a6cc4"/>
<rect x="471.00" y="470.34" width="1.00" height="1.55" fill="#5c2388"/>
<rect x="472.25" y="470.36" width="1.00" height="1.53" fill="#9a6cc4"/>
<rect x="473.85" y="470.43" width="1.00" height="1.46" fill="#5c2388"/>
<rect x="475.25" y="469.83" width="0.60" height="2.06" fill="#5c2388"/>
<rect x="476.10" y="470.28" width="1.00" height="1.61" fill="#5c2388"/>
<line x1="281.00" y1="472.09" x2="491.00" y2="472.09" stroke="#c8b0dc" stroke-width="0.6" />
<rect x="281.00" y="480.63" width="1.00" height="3.57" fill="#9a6cc4"/>
<rect x="282.60" y="479.80" width="1.00" height="4.40" fill="#9a6cc4"/>
<rect x="287.40" y="479.30" width="0.80" height="4.90" fill="#5c2388"/>
<rect x="288.60" y="480.45" width="1.00" height="3.75" fill="#9a6cc4"/>
<rect x="289.85" y="479.60" width="1.00" height="4.60" fill="#5c2388"/>
<rect x="291.25" y="480.52" width="0.80" height="3.68" fill="#5c2388"/>
<rect x="298.00" y="480.95" width="1.00" height="3.25" fill="#5c2388"/>
<rect x="299.25" y="481.16" width="1.00" height="3.04" fill="#5c2388"/>
<rect x="301.00" y="480.27" width="0.80" height="3.93" fill="#9a6cc4"/>
<rect x="302.40" y="479.05" width="0.80" height="5.15" fill="#9a6cc4"/>
<rect x="303.80" y="481.02" width="0.80" height="3.18" fill="#5c2388"/>
<rect x="305.00" y="480.53" width="1.00" height="3.67" fill="#9a6cc4"/>
<rect x="306.60" y="480.89" width="0.60" height="3.31" fill="#5c2388"/>
<rect x="309.60" y="480.06" width="0.80" height="4.14" fill="#5c2388"/>
<rect x="311.00" y="480.55" width="0.80" height="3.65" fill="#9a6cc4"/>
<rect x="315.00" y="480.01" width="0.80" height="4.19" fill="#9a6cc4"/>
<rect x="316.20" y="479.04" width="0.60" height="5.16" fill="#5c2388"/>
<rect x="317.40" y="480.42" width="0.60" height="3.78" fill="#9a6cc4"/>
<rect x="318.40" y="479.90" width="0.60" height="4.30" fill="#9a6cc4"/>
<rect x="319.25" y="479.66" width="0.60" height="4.54" fill="#5c2388"/>
<rect x="323.00" y="480.91" width="0.60" height="3.29" fill="#9a6cc4"/>
<rect x="323.85" y="480.88" width="1.00" height="3.32" fill="#5c2388"/>
<rect x="325.10" y="481.16" width="0.80" height="3.04" fill="#5c2388"/>
<rect x="326.15" y="479.91" width="0.60" height="4.29" fill="#5c2388"/>
<rect x="327.15" y="479.36" width="0.60" height="4.84" fill="#5c2388"/>
<rect x="329.70" y="479.75" width="1.00" height="4.45" fill="#5c2388"/>
<rect x="330.95" y="480.27" width="1.00" height="3.93" fill="#5c2388"/>
<rect x="334.00" y="480.84" width="0.80" height="3.36" fill="#5c2388"/>
<rect x="335.40" y="480.50" width="1.00" height="3.70" fill="#5c2388"/>
<rect x="336.80" y="480.66" width="0.80" height="3.54" fill="#9a6cc4"/>
<rect x="338.20" y="480.01" width="0.60" height="4.19" fill="#5c2388"/>
<rect x="339.40" y="480.10" width="0.80" height="4.10" fill="#9a6cc4"/>
<rect x="343.40" y="477.66" width="1.00" height="6.54" fill="#5c2388"/>
<rect x="344.65" y="475.41" width="0.60" height="8.79" fill="#9a6cc4"/>
<rect x="345.50" y="478.89" width="0.60" height="5.31" fill="#5c2388"/>
<rect x="346.70" y="478.89" width="1.00" height="5.31" fill="#5c2388"/>
<rect x="350.80" y="478.39" width="0.60" height="5.81" fill="#9a6cc4"/>
<rect x="352.00" y="478.54" width="0.80" height="5.66" fill="#5c2388"/>
<rect x="356.00" y="477.82" width="0.80" height="6.38" fill="#5c2388"/>
<rect x="357.40" y="477.68" width="0.80" height="6.52" fill="#5c2388"/>
<rect x="358.60" y="477.48" width="1.00" height="6.72" fill="#5c2388"/>
<rect x="361.40" y="476.40" width="0.80" height="7.80" fill="#9a6cc4"/>
<rect x="362.60" y="476.57" width="0.60" height="7.63" fill="#9a6cc4"/>
<rect x="363.45" y="478.51" width="0.80" height="5.69" fill="#9a6cc4"/>
<rect x="364.50" y="476.50" width="0.80" height="7.70" fill="#9a6cc4"/>
<rect x="366.70" y="475.44" width="0.60" height="8.76" fill="#9a6cc4"/>
<rect x="367.55" y="475.93" width="1.00" height="8.27" fill="#5c2388"/>
<rect x="375.00" y="477.87" width="0.60" height="6.33" fill="#9a6cc4"/>
<rect x="376.00" y="474.83" width="0.60" height="9.37" fill="#5c2388"/>
<rect x="376.85" y="477.08" width="0.80" height="7.12" fill="#5c2388"/>
<rect x="378.25" y="476.04" width="1.00" height="8.16" fill="#5c2388"/>
<rect x="379.50" y="474.64" width="0.80" height="9.56" fill="#5c2388"/>
<rect x="384.60" y="478.61" width="1.00" height="5.59" fill="#9a6cc4"/>
<rect x="385.85" y="476.12" width="0.80" height="8.08" fill="#9a6cc4"/>
<rect x="386.90" y="475.92" width="0.80" height="8.28" fill="#9a6cc4"/>
<rect x="388.10" y="476.50" width="1.00" height="7.70" fill="#5c2388"/>
<rect x="396.30" y="476.86" width="0.60" height="7.34" fill="#9a6cc4"/>
<rect x="397.15" y="476.39" width="1.00" height="7.81" fill="#5c2388"/>
<rect x="400.40" y="477.58" width="0.80" height="6.62" fill="#9a6cc4"/>
<rect x="401.80" y="474.38" width="0.60" height="9.82" fill="#5c2388"/>
<rect x="402.80" y="475.78" width="0.60" height="8.42" fill="#9a6cc4"/>
<rect x="403.65" y="475.16" width="1.00" height="9.04" fill="#5c2388"/>
<rect x="405.05" y="474.58" width="0.80" height="9.62" fill="#5c2388"/>
<rect x="410.70" y="473.84" width="1.00" height="10.36" fill="#9a6cc4"/>
<rect x="412.30" y="476.60" width="0.60" height="7.60" fill="#5c2388"/>
<rect x="413.15" y="475.93" width="1.00" height="8.27" fill="#5c2388"/>
<rect x="418.00" y="477.23" width="1.00" height="6.97" fill="#5c2388"/>
<rect x="419.25" y="477.97" width="1.00" height="6.23" fill="#5c2388"/>
<rect x="420.65" y="477.62" width="0.80" height="6.58" fill="#5c2388"/>
<rect x="421.85" y="476.13" width="0.60" height="8.07" fill="#5c2388"/>
<rect x="422.85" y="474.43" width="0.60" height="9.77" fill="#5c2388"/>
<rect x="427.00" y="474.11" width="1.00" height="10.09" fill="#5c2388"/>
<rect x="428.60" y="475.90" width="0.80" height="8.30" fill="#5c2388"/>
<rect x="429.65" y="474.64" width="0.60" height="9.56" fill="#5c2388"/>
<rect x="430.50" y="473.70" width="0.60" height="10.50" fill="#5c2388"/>
<rect x="431.50" y="476.33" width="0.60" height="7.87" fill="#9a6cc4"/>
<rect x="432.35" y="475.64" width="0.60" height="8.56" fill="#9a6cc4"/>
<rect x="433.35" y="476.62" width="1.00" height="7.58" fill="#5c2388"/>
<rect x="437.50" y="478.70" width="1.00" height="5.50" fill="#5c2388"/>
<rect x="438.90" y="479.86" width="0.80" height="4.34" fill="#5c2388"/>
<rect x="440.30" y="480.29" width="0.80" height="3.91" fill="#5c2388"/>
<rect x="441.35" y="478.29" width="0.80" height="5.91" fill="#5c2388"/>
<rect x="442.55" y="479.32" width="1.00" height="4.88" fill="#5c2388"/>
<rect x="443.95" y="479.38" width="1.00" height="4.82" fill="#9a6cc4"/>
<rect x="445.55" y="478.37" width="0.60" height="5.83" fill="#9a6cc4"/>
<rect x="449.80" y="479.68" width="0.60" height="4.52" fill="#5c2388"/>
<rect x="450.80" y="480.55" width="1.00" height="3.65" fill="#5c2388"/>
<rect x="452.40" y="479.98" width="0.80" height="4.22" fill="#5c2388"/>
<rect x="455.00" y="479.98" width="1.00" height="4.22" fill="#5c2388"/>
<rect x="456.25" y="479.25" width="0.60" height="4.95" fill="#5c2388"/>
<rect x="457.10" y="480.14" width="0.80" height="4.06" fill="#9a6cc4"/>
<rect x="458.30" y="479.22" width="0.60" height="4.98" fill="#9a6cc4"/>
<rect x="459.50" y="480.61" width="1.00" height="3.59" fill="#5c2388"/>
<rect x="464.20" y="481.79" width="0.60" height="2.41" fill="#5c2388"/>
<rect x="465.05" y="481.68" width="0.80" height="2.52" fill="#5c2388"/>
<rect x="466.10" y="481.87" width="0.60" height="2.33" fill="#9a6cc4"/>
<rect x="467.10" y="481.72" width="1.00" height="2.48" fill="#5c2388"/>
<rect x="468.70" y="482.39" width="1.00" height="1.81" fill="#5c2388"/>
<rect x="470.30" y="482.23" width="0.60" height="1.97" fill="#5c2388"/>
<rect x="471.15" y="481.90" width="0.60" height="2.30" fill="#9a6cc4"/>
<rect x="472.15" y="482.11" width="1.00" height="2.09" fill="#5c2388"/>
<rect x="473.75" y="482.12" width="0.60" height="2.08" fill="#9a6cc4"/>
<rect x="474.75" y="481.76" width="1.00" height="2.44" fill="#5c2388"/>
<rect x="476.15" y="481.86" width="0.80" height="2.34" fill="#9a6cc4"/>
<line x1="281.00" y1="484.40" x2="491.00" y2="484.40" stroke="#c8b0dc" stroke-width="0.6" />
<rect x="281.00" y="494.33" width="0.60" height="2.18" fill="#9a6cc4"/>
<rect x="282.20" y="493.73" width="0.60" height="2.78" fill="#5c2388"/>
<rect x="287.40" y="494.38" width="0.80" height="2.13" fill="#9a6cc4"/>
<rect x="288.45" y="493.56" width="1.00" height="2.95" fill="#9a6cc4"/>
<rect x="290.05" y="493.44" width="0.80" height="3.07" fill="#5c2388"/>
<rect x="291.25" y="493.98" width="0.80" height="2.53" fill="#5c2388"/>
<rect x="298.00" y="494.01" width="0.60" height="2.50" fill="#5c2388"/>
<rect x="298.85" y="494.02" width="1.00" height="2.49" fill="#5c2388"/>
<rect x="301.00" y="494.49" width="0.80" height="2.02" fill="#5c2388"/>
<rect x="302.20" y="494.11" width="0.80" height="2.40" fill="#9a6cc4"/>
<rect x="303.60" y="493.81" width="0.60" height="2.70" fill="#9a6cc4"/>
<rect x="304.45" y="494.27" width="1.00" height="2.24" fill="#5c2388"/>
<rect x="306.05" y="494.33" width="0.60" height="2.18" fill="#9a6cc4"/>
<rect x="307.25" y="494.65" width="0.60" height="1.86" fill="#9a6cc4"/>
<rect x="309.60" y="493.92" width="0.60" height="2.59" fill="#5c2388"/>
<rect x="310.80" y="493.45" width="0.60" height="3.06" fill="#5c2388"/>
<rect x="311.65" y="494.35" width="1.00" height="2.16" fill="#5c2388"/>
<rect x="315.00" y="493.62" width="0.80" height="2.89" fill="#9a6cc4"/>
<rect x="316.20" y="493.78" width="1.00" height="2.73" fill="#9a6cc4"/>
<rect x="317.60" y="493.76" width="0.80" height="2.75" fill="#5c2388"/>
<rect x="318.80" y="494.08" width="0.80" height="2.43" fill="#9a6cc4"/>
<rect x="320.00" y="493.57" width="0.80" height="2.94" fill="#5c2388"/>
<rect x="323.00" y="493.91" width="1.00" height="2.60" fill="#9a6cc4"/>
<rect x="324.40" y="494.54" width="0.60" height="1.97" fill="#9a6cc4"/>
<rect x="325.25" y="493.64" width="0.60" height="2.87" fill="#5c2388"/>
<rect x="326.25" y="493.95" width="0.80" height="2.56" fill="#9a6cc4"/>
<rect x="329.70" y="494.45" width="0.80" height="2.06" fill="#5c2388"/>
<rect x="331.10" y="494.32" width="0.80" height="2.19" fill="#9a6cc4"/>
<rect x="334.00" y="494.55" width="0.60" height="1.96" fill="#9a6cc4"/>
<rect x="335.00" y="493.55" width="1.00" height="2.96" fill="#9a6cc4"/>
<rect x="336.60" y="494.12" width="0.60" height="2.39" fill="#9a6cc4"/>
<rect x="337.45" y="494.26" width="1.00" height="2.25" fill="#5c2388"/>
<rect x="338.70" y="494.10" width="1.00" height="2.41" fill="#9a6cc4"/>
<rect x="343.40" y="490.99" width="1.00" height="5.52" fill="#5c2388"/>
<rect x="345.00" y="491.42" width="1.00" height="5.09" fill="#9a6cc4"/>
<rect x="346.60" y="490.35" width="1.00" height="6.16" fill="#5c2388"/>
<rect x="350.80" y="491.11" width="0.60" height="5.40" fill="#9a6cc4"/>
<rect x="352.00" y="491.18" width="0.60" height="5.33" fill="#5c2388"/>
<rect x="352.85" y="491.10" width="0.80" height="5.41" fill="#5c2388"/>
<rect x="356.00" y="490.91" width="0.60" height="5.60" fill="#9a6cc4"/>
<rect x="357.00" y="489.23" width="1.00" height="7.28" fill="#9a6cc4"/>
<rect x="358.60" y="489.56" width="0.60" height="6.95" fill="#5c2388"/>
<rect x="361.40" y="488.37" width="0.60" height="8.14" fill="#5c2388"/>
<rect x="362.25" y="488.61" width="0.80" height="7.90" fill="#5c2388"/>
<rect x="363.45" y="489.40" width="0.60" height="7.11" fill="#9a6cc4"/>
<rect x="364.30" y="489.64" width="0.80" height="6.87" fill="#9a6cc4"/>
<rect x="365.50" y="489.10" width="0.60" height="7.41" fill="#5c2388"/>
<rect x="366.70" y="491.57" width="1.00" height="4.94" fill="#5c2388"/>
<rect x="368.30" y="488.56" width="0.60" height="7.95" fill="#5c2388"/>
<rect x="375.00" y="491.79" width="0.60" height="4.72" fill="#9a6cc4"/>
<rect x="376.00" y="490.23" width="1.00" height="6.28" fill="#9a6cc4"/>
<rect x="377.40" y="488.41" width="0.60" height="8.10" fill="#9a6cc4"/>
<rect x="378.25" y="488.20" width="0.80" height="8.31" fill="#5c2388"/>
<rect x="379.65" y="490.68" width="1.00" height="5.83" fill="#9a6cc4"/>
<rect x="384.60" y="486.91" width="0.60" height="9.60" fill="#9a6cc4"/>
<rect x="385.45" y="490.88" width="0.80" height="5.63" fill="#5c2388"/>
<rect x="386.65" y="488.25" width="1.00" height="8.26" fill="#9a6cc4"/>
<rect x="387.90" y="489.03" width="0.60" height="7.48" fill="#5c2388"/>
<rect x="388.75" y="489.22" width="1.00" height="7.29" fill="#5c2388"/>
<rect x="396.30" y="491.13" width="0.80" height="5.38" fill="#5c2388"/>
<rect x="400.40" y="488.07" width="0.80" height="8.44" fill="#9a6cc4"/>
<rect x="401.80" y="488.97" width="1.00" height="7.54" fill="#5c2388"/>
<rect x="403.05" y="490.67" width="0.80" height="5.84" fill="#9a6cc4"/>
<rect x="404.25" y="491.55" width="0.60" height="4.96" fill="#9a6cc4"/>
<rect x="405.25" y="488.80" width="0.60" height="7.71" fill="#5c2388"/>
<rect x="410.70" y="489.84" width="1.00" height="6.67" fill="#5c2388"/>
<rect x="412.30" y="490.30" width="0.80" height="6.21" fill="#5c2388"/>
<rect x="413.70" y="488.66" width="0.60" height="7.85" fill="#5c2388"/>
<rect x="418.00" y="488.31" width="0.80" height="8.20" fill="#9a6cc4"/>
<rect x="419.40" y="489.54" width="1.00" height="6.97" fill="#5c2388"/>
<rect x="420.80" y="491.23" width="1.00" height="5.28" fill="#9a6cc4"/>
<rect x="422.05" y="489.85" width="0.80" height="6.66" fill="#5c2388"/>
<rect x="423.25" y="491.37" width="0.60" height="5.14" fill="#5c2388"/>
<rect x="427.00" y="487.74" width="1.00" height="8.77" fill="#9a6cc4"/>
<rect x="428.60" y="487.78" width="1.00" height="8.73" fill="#9a6cc4"/>
<rect x="429.85" y="491.22" width="0.60" height="5.29" fill="#5c2388"/>
<rect x="430.70" y="488.87" width="1.00" height="7.64" fill="#9a6cc4"/>
<rect x="432.10" y="488.10" width="1.00" height="8.41" fill="#5c2388"/>
<rect x="437.50" y="491.96" width="0.80" height="4.55" fill="#5c2388"/>
<rect x="438.90" y="493.81" width="1.00" height="2.70" fill="#5c2388"/>
<rect x="440.15" y="493.36" width="0.60" height="3.15" fill="#9a6cc4"/>
<rect x="441.15" y="493.05" width="1.00" height="3.46" fill="#9a6cc4"/>
<rect x="442.75" y="492.25" width="0.60" height="4.26" fill="#5c2388"/>
<rect x="443.95" y="492.74" width="1.00" height="3.77" fill="#5c2388"/>
<rect x="445.55" y="491.85" width="0.60" height="4.66" fill="#5c2388"/>
<rect x="446.55" y="493.71" width="1.00" height="2.80" fill="#5c2388"/>
<rect x="449.80" y="492.26" width="1.00" height="4.25" fill="#5c2388"/>
<rect x="451.20" y="493.11" width="0.80" height="3.40" fill="#5c2388"/>
<rect x="452.25" y="491.96" width="0.80" height="4.55" fill="#9a6cc4"/>
<rect x="455.00" y="493.30" width="0.60" height="3.21" fill="#5c2388"/>
<rect x="456.00" y="493.65" width="0.60" height="2.86" fill="#9a6cc4"/>
<rect x="456.85" y="492.58" width="0.60" height="3.93" fill="#5c2388"/>
<rect x="457.85" y="493.31" width="0.60" height="3.20" fill="#9a6cc4"/>
<rect x="458.70" y="492.45" width="0.60" height="4.06" fill="#5c2388"/>
<rect x="459.70" y="492.21" width="1.00" height="4.30" fill="#9a6cc4"/>
<rect x="464.20" y="494.96" width="0.60" height="1.55" fill="#5c2388"/>
<rect x="465.05" y="494.64" width="0.80" height="1.87" fill="#9a6cc4"/>
<rect x="466.25" y="495.35" width="1.00" height="1.16" fill="#5c2388"/>
<rect x="467.50" y="495.24" width="1.00" height="1.27" fill="#9a6cc4"/>
<rect x="469.10" y="494.65" width="1.00" height="1.86" fill="#5c2388"/>
<rect x="470.35" y="494.95" width="1.00" height="1.56" fill="#5c2388"/>
<rect x="471.60" y="495.44" width="0.60" height="1.07" fill="#9a6cc4"/>
<rect x="472.80" y="495.21" width="1.00" height="1.30" fill="#5c2388"/>
<rect x="474.05" y="495.09" width="0.60" height="1.42" fill="#5c2388"/>
<rect x="475.25" y="495.33" width="0.60" height="1.18" fill="#9a6cc4"/>
<rect x="476.45" y="495.42" width="0.60" height="1.09" fill="#9a6cc4"/>
<line x1="281.00" y1="496.71" x2="491.00" y2="496.71" stroke="#c8b0dc" stroke-width="0.6" />
<path d="M389.70,424.25 L392.90,424.25 L391.30,428.45 Z" fill="#222"/>
<path d="M418.20,436.56 L421.40,436.56 L419.80,440.76 Z" fill="#222"/>
<line x1="65.50" y1="238.90" x2="272.60" y2="238.90" stroke="#858585" stroke-width="1.25" />
<line x1="281.00" y1="238.90" x2="491.00" y2="238.90" stroke="#858585" stroke-width="1.25" />
<line x1="65.50" y1="251.21" x2="272.60" y2="251.21" stroke="#858585" stroke-width="1.25" />
<line x1="281.00" y1="251.21" x2="491.00" y2="251.21" stroke="#858585" stroke-width="1.25" />
<line x1="65.50" y1="263.52" x2="272.60" y2="263.52" stroke="#858585" stroke-width="1.25" />
<line x1="281.00" y1="263.52" x2="491.00" y2="263.52" stroke="#858585" stroke-width="1.25" />
<line x1="65.50" y1="275.83" x2="272.60" y2="275.83" stroke="#858585" stroke-width="1.25" />
<line x1="281.00" y1="275.83" x2="491.00" y2="275.83" stroke="#858585" stroke-width="1.25" />
<line x1="65.50" y1="288.14" x2="272.60" y2="288.14" stroke="#858585" stroke-width="1.25" />
<line x1="281.00" y1="288.14" x2="491.00" y2="288.14" stroke="#858585" stroke-width="1.25" />
<line x1="65.50" y1="300.45" x2="272.60" y2="300.45" stroke="#858585" stroke-width="1.25" />
<line x1="281.00" y1="300.45" x2="491.00" y2="300.45" stroke="#858585" stroke-width="1.25" />
<line x1="65.50" y1="312.76" x2="272.60" y2="312.76" stroke="#858585" stroke-width="1.25" />
<line x1="281.00" y1="312.76" x2="491.00" y2="312.76" stroke="#858585" stroke-width="1.25" />
<line x1="65.50" y1="325.07" x2="272.60" y2="325.07" stroke="#858585" stroke-width="1.25" />
<line x1="281.00" y1="325.07" x2="491.00" y2="325.07" stroke="#858585" stroke-width="1.25" />
<line x1="65.50" y1="337.38" x2="272.60" y2="337.38" stroke="#858585" stroke-width="1.25" />
<line x1="281.00" y1="337.38" x2="491.00" y2="337.38" stroke="#858585" stroke-width="1.25" />
<line x1="65.50" y1="349.69" x2="272.60" y2="349.69" stroke="#858585" stroke-width="1.25" />
<line x1="281.00" y1="349.69" x2="491.00" y2="349.69" stroke="#858585" stroke-width="1.25" />
<line x1="65.50" y1="362.00" x2="272.60" y2="362.00" stroke="#858585" stroke-width="1.25" />
<line x1="281.00" y1="362.00" x2="491.00" y2="362.00" stroke="#858585" stroke-width="1.25" />
<line x1="65.50" y1="374.31" x2="272.60" y2="374.31" stroke="#858585" stroke-width="1.25" />
<line x1="281.00" y1="374.31" x2="491.00" y2="374.31" stroke="#858585" stroke-width="1.25" />
<line x1="65.50" y1="386.62" x2="272.60" y2="386.62" stroke="#858585" stroke-width="1.25" />
<line x1="281.00" y1="386.62" x2="491.00" y2="386.62" stroke="#858585" stroke-width="1.25" />
<line x1="65.50" y1="398.93" x2="272.60" y2="398.93" stroke="#858585" stroke-width="1.25" />
<line x1="281.00" y1="398.93" x2="491.00" y2="398.93" stroke="#858585" stroke-width="1.25" />
<line x1="65.50" y1="411.24" x2="272.60" y2="411.24" stroke="#858585" stroke-width="1.25" />
<line x1="281.00" y1="411.24" x2="491.00" y2="411.24" stroke="#858585" stroke-width="1.25" />
<line x1="65.50" y1="423.55" x2="272.60" y2="423.55" stroke="#858585" stroke-width="1.25" />
<line x1="281.00" y1="423.55" x2="491.00" y2="423.55" stroke="#858585" stroke-width="1.25" />
<line x1="65.50" y1="435.86" x2="272.60" y2="435.86" stroke="#858585" stroke-width="1.25" />
<line x1="281.00" y1="435.86" x2="491.00" y2="435.86" stroke="#858585" stroke-width="1.25" />
<line x1="65.50" y1="448.17" x2="272.60" y2="448.17" stroke="#858585" stroke-width="1.25" />
<line x1="281.00" y1="448.17" x2="491.00" y2="448.17" stroke="#858585" stroke-width="1.25" />
<line x1="65.50" y1="460.48" x2="272.60" y2="460.48" stroke="#858585" stroke-width="1.25" />
<line x1="281.00" y1="460.48" x2="491.00" y2="460.48" stroke="#858585" stroke-width="1.25" />
<line x1="65.50" y1="472.79" x2="272.60" y2="472.79" stroke="#858585" stroke-width="1.25" />
<line x1="281.00" y1="472.79" x2="491.00" y2="472.79" stroke="#858585" stroke-width="1.25" />
<line x1="65.50" y1="485.10" x2="272.60" y2="485.10" stroke="#858585" stroke-width="1.25" />
<line x1="281.00" y1="485.10" x2="491.00" y2="485.10" stroke="#858585" stroke-width="1.25" />
<line x1="65.50" y1="497.41" x2="272.60" y2="497.41" stroke="#858585" stroke-width="1.25" />
<line x1="281.00" y1="497.41" x2="491.00" y2="497.41" stroke="#858585" stroke-width="1.25" />
<line x1="272.60" y1="423.55" x2="272.60" y2="435.86" stroke="#8a8a8a" stroke-width="0.9" />
<line x1="272.60" y1="435.86" x2="272.60" y2="448.17" stroke="#8a8a8a" stroke-width="0.9" />
<line x1="272.60" y1="448.17" x2="272.60" y2="460.48" stroke="#8a8a8a" stroke-width="0.9" />
<line x1="272.60" y1="460.48" x2="272.60" y2="472.79" stroke="#8a8a8a" stroke-width="0.9" />
<line x1="272.60" y1="472.79" x2="272.60" y2="485.10" stroke="#8a8a8a" stroke-width="0.9" />
<line x1="272.60" y1="485.10" x2="272.60" y2="497.41" stroke="#8a8a8a" stroke-width="0.9" />
<line x1="491.00" y1="349.69" x2="491.00" y2="362.00" stroke="#8a8a8a" stroke-width="0.9" />
<line x1="491.00" y1="362.00" x2="491.00" y2="374.31" stroke="#8a8a8a" stroke-width="0.9" />
<line x1="491.00" y1="374.31" x2="491.00" y2="386.62" stroke="#8a8a8a" stroke-width="0.9" />
<line x1="491.00" y1="386.62" x2="491.00" y2="398.93" stroke="#8a8a8a" stroke-width="0.9" />
<line x1="491.00" y1="398.93" x2="491.00" y2="411.24" stroke="#8a8a8a" stroke-width="0.9" />
<line x1="491.00" y1="411.24" x2="491.00" y2="423.55" stroke="#8a8a8a" stroke-width="0.9" />
<line x1="491.00" y1="423.55" x2="491.00" y2="435.86" stroke="#8a8a8a" stroke-width="0.9" />
<line x1="491.00" y1="435.86" x2="491.00" y2="448.17" stroke="#8a8a8a" stroke-width="0.9" />
<line x1="491.00" y1="448.17" x2="491.00" y2="460.48" stroke="#8a8a8a" stroke-width="0.9" />
<line x1="491.00" y1="460.48" x2="491.00" y2="472.79" stroke="#8a8a8a" stroke-width="0.9" />
<line x1="491.00" y1="472.79" x2="491.00" y2="485.10" stroke="#8a8a8a" stroke-width="0.9" />
<line x1="491.00" y1="485.10" x2="491.00" y2="497.41" stroke="#8a8a8a" stroke-width="0.9" />
<text x="68.20" y="233.19" font-size="6.6" text-anchor="start" fill="#333" stroke="#333" stroke-width="0.12" style="" >0 - 75</text>
<text x="283.60" y="233.19" font-size="6.6" text-anchor="start" fill="#333" stroke="#333" stroke-width="0.12" style="" >0 - 100</text>
<text x="68.20" y="245.50" font-size="6.6" text-anchor="start" fill="#333" stroke="#333" stroke-width="0.12" style="" >0 - 50</text>
<text x="283.60" y="245.50" font-size="6.6" text-anchor="start" fill="#333" stroke="#333" stroke-width="0.12" style="" >0 - 50</text>
<text x="68.20" y="257.81" font-size="6.6" text-anchor="start" fill="#333" stroke="#333" stroke-width="0.12" style="" >0 - 75</text>
<text x="283.60" y="257.81" font-size="6.6" text-anchor="start" fill="#333" stroke="#333" stroke-width="0.12" style="" >0 - 50</text>
<text x="68.20" y="270.12" font-size="6.6" text-anchor="start" fill="#333" stroke="#333" stroke-width="0.12" style="" >0 - 75</text>
<text x="283.60" y="270.12" font-size="6.6" text-anchor="start" fill="#333" stroke="#333" stroke-width="0.12" style="" >0 - 50</text>
<text x="68.20" y="282.43" font-size="6.6" text-anchor="start" fill="#333" stroke="#333" stroke-width="0.12" style="" >0 - 30</text>
<text x="283.60" y="282.43" font-size="6.6" text-anchor="start" fill="#333" stroke="#333" stroke-width="0.12" style="" >0 - 50</text>
<text x="68.20" y="294.74" font-size="6.6" text-anchor="start" fill="#333" stroke="#333" stroke-width="0.12" style="" >0 - 75</text>
<text x="283.60" y="294.74" font-size="6.6" text-anchor="start" fill="#333" stroke="#333" stroke-width="0.12" style="" >0 - 100</text>
<text x="68.20" y="307.05" font-size="6.6" text-anchor="start" fill="#333" stroke="#333" stroke-width="0.12" style="" >0 - 150</text>
<text x="283.60" y="307.05" font-size="6.6" text-anchor="start" fill="#333" stroke="#333" stroke-width="0.12" style="" >0 - 75</text>
<text x="68.20" y="319.36" font-size="6.6" text-anchor="start" fill="#333" stroke="#333" stroke-width="0.12" style="" >0 - 150</text>
<text x="283.60" y="319.36" font-size="6.6" text-anchor="start" fill="#333" stroke="#333" stroke-width="0.12" style="" >0 - 30</text>
<text x="68.20" y="331.67" font-size="6.6" text-anchor="start" fill="#333" stroke="#333" stroke-width="0.12" style="" >0 - 75</text>
<text x="283.60" y="331.67" font-size="6.6" text-anchor="start" fill="#333" stroke="#333" stroke-width="0.12" style="" >0 - 30</text>
<text x="68.20" y="343.98" font-size="6.6" text-anchor="start" fill="#333" stroke="#333" stroke-width="0.12" style="" >0 - 75</text>
<text x="283.60" y="343.98" font-size="6.6" text-anchor="start" fill="#333" stroke="#333" stroke-width="0.12" style="" >0 - 30</text>
<text x="68.20" y="356.29" font-size="6.6" text-anchor="start" fill="#333" stroke="#333" stroke-width="0.12" style="" >0 - 75</text>
<text x="283.60" y="356.29" font-size="6.6" text-anchor="start" fill="#333" stroke="#333" stroke-width="0.12" style="" >0 - 250</text>
<text x="68.20" y="368.60" font-size="6.6" text-anchor="start" fill="#333" stroke="#333" stroke-width="0.12" style="" >0 - 75</text>
<text x="283.60" y="368.60" font-size="6.6" text-anchor="start" fill="#333" stroke="#333" stroke-width="0.12" style="" >0 - 175</text>
<text x="68.20" y="380.91" font-size="6.6" text-anchor="start" fill="#333" stroke="#333" stroke-width="0.12" style="" >0 - 75</text>
<text x="283.60" y="380.91" font-size="6.6" text-anchor="start" fill="#333" stroke="#333" stroke-width="0.12" style="" >0 - 700</text>
<text x="68.20" y="393.22" font-size="6.6" text-anchor="start" fill="#333" stroke="#333" stroke-width="0.12" style="" >0 - 75</text>
<text x="283.60" y="393.22" font-size="6.6" text-anchor="start" fill="#333" stroke="#333" stroke-width="0.12" style="" >0 - 10</text>
<text x="68.20" y="405.53" font-size="6.6" text-anchor="start" fill="#333" stroke="#333" stroke-width="0.12" style="" >0 - 75</text>
<text x="283.60" y="405.53" font-size="6.6" text-anchor="start" fill="#333" stroke="#333" stroke-width="0.12" style="" >0 - 10</text>
<text x="68.20" y="417.84" font-size="6.6" text-anchor="start" fill="#333" stroke="#333" stroke-width="0.12" style="" >0 - 75</text>
<text x="283.60" y="417.84" font-size="6.6" text-anchor="start" fill="#333" stroke="#333" stroke-width="0.12" style="" >0 - 10</text>
<text x="68.20" y="430.15" font-size="6.6" text-anchor="start" fill="#333" stroke="#333" stroke-width="0.12" style="" >0 - 450</text>
<text x="283.60" y="430.15" font-size="6.6" text-anchor="start" fill="#333" stroke="#333" stroke-width="0.12" style="" >0 - 800</text>
<text x="68.20" y="442.46" font-size="6.6" text-anchor="start" fill="#333" stroke="#333" stroke-width="0.12" style="" >0 - 450</text>
<text x="283.60" y="442.46" font-size="6.6" text-anchor="start" fill="#333" stroke="#333" stroke-width="0.12" style="" >0 - 800</text>
<text x="68.20" y="454.77" font-size="6.6" text-anchor="start" fill="#333" stroke="#333" stroke-width="0.12" style="" >0 - 450</text>
<text x="283.60" y="454.77" font-size="6.6" text-anchor="start" fill="#333" stroke="#333" stroke-width="0.12" style="" >0 - 800</text>
<text x="68.20" y="467.08" font-size="6.6" text-anchor="start" fill="#333" stroke="#333" stroke-width="0.12" style="" >0 - 450</text>
<text x="283.60" y="467.08" font-size="6.6" text-anchor="start" fill="#333" stroke="#333" stroke-width="0.12" style="" >0 - 800</text>
<text x="68.20" y="479.39" font-size="6.6" text-anchor="start" fill="#333" stroke="#333" stroke-width="0.12" style="" >0 - 450</text>
<text x="283.60" y="479.39" font-size="6.6" text-anchor="start" fill="#333" stroke="#333" stroke-width="0.12" style="" >0 - 800</text>
<text x="68.20" y="491.70" font-size="6.6" text-anchor="start" fill="#333" stroke="#333" stroke-width="0.12" style="" >0 - 450</text>
<text x="283.60" y="491.70" font-size="6.6" text-anchor="start" fill="#333" stroke="#333" stroke-width="0.12" style="" >0 - 800</text>
</svg></body></html>
